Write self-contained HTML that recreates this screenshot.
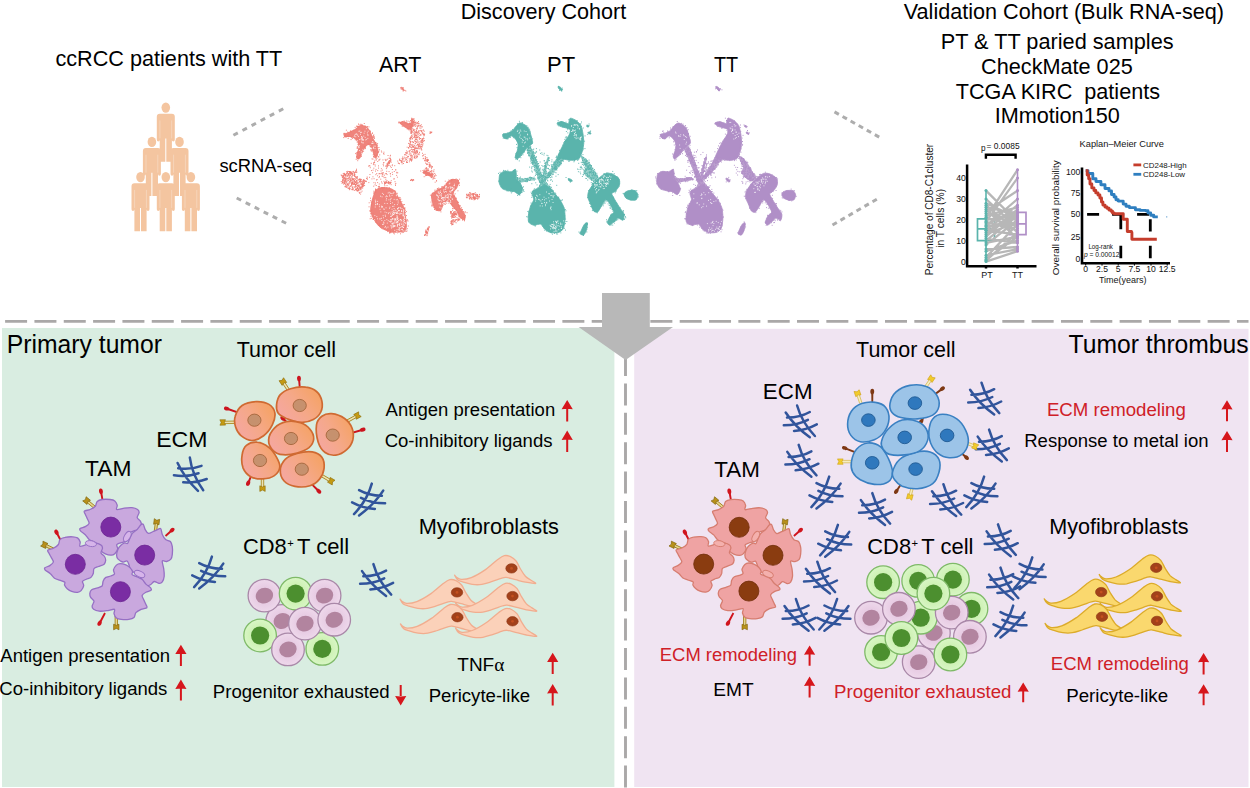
<!DOCTYPE html>
<html lang="en"><head><meta charset="utf-8"><title>ccRCC tumor thrombus graphical abstract</title><style>html,body{margin:0;padding:0;background:#fff}svg{display:block}text{white-space:pre}</style></head><body>
<svg width="1250" height="788" viewBox="0 0 1250 788" font-family="'Liberation Sans',Arial,Helvetica,sans-serif"><rect width="1250" height="788" fill="#fff"/>
<rect x="2" y="328" width="612.4" height="459" fill="#d9ede1"/>
<rect x="634.2" y="328.8" width="614.3" height="458.2" fill="#f0e4f2"/>
<path d="M5.1 321.4H1248.5" stroke="#aaa8a8" stroke-width="2.9" stroke-dasharray="22 7.33" fill="none"/>
<path d="M625.5 324.6V788" stroke="#aaa8a8" stroke-width="2.9" stroke-dasharray="22 7.4" fill="none"/>
<path d="M602 293H649.8V327H673L625.6 360L578.6 327H602Z" fill="#b8b8b8"/>
<text x="55.43" y="66" font-size="21.8" textLength="226.89" lengthAdjust="spacingAndGlyphs">ccRCC patients with TT</text>
<text x="460.67" y="18.7" font-size="21.8" textLength="165.62" lengthAdjust="spacingAndGlyphs">Discovery Cohort</text>
<text x="378.90" y="72" font-size="21.8" textLength="42.57" lengthAdjust="spacingAndGlyphs">ART</text>
<text x="547.04" y="72" font-size="21.8" textLength="28.17" lengthAdjust="spacingAndGlyphs">PT</text>
<text x="714.00" y="72" font-size="21.8" textLength="24.23" lengthAdjust="spacingAndGlyphs">TT</text>
<text x="219.44" y="171.6" font-size="18.7" textLength="92.89" lengthAdjust="spacingAndGlyphs">scRNA-seq</text>
<text x="903.80" y="18.7" font-size="21.8" textLength="320.12" lengthAdjust="spacingAndGlyphs">Validation Cohort (Bulk RNA-seq)</text>
<text x="940.66" y="49" font-size="21.8" textLength="232.95" lengthAdjust="spacingAndGlyphs">PT &amp; TT paried samples</text>
<text x="981.12" y="73.7" font-size="21.8" textLength="151.63" lengthAdjust="spacingAndGlyphs">CheckMate 025</text>
<text x="955.77" y="98.5" font-size="21.8" textLength="204.24" lengthAdjust="spacingAndGlyphs" xml:space="preserve">TCGA KIRC  patients</text>
<text x="994.65" y="123.3" font-size="21.8" textLength="125.13" lengthAdjust="spacingAndGlyphs">IMmotion150</text>
<path d="M233.4 135.3L283.3 108.7" stroke="#adadad" stroke-width="3" stroke-dasharray="5 5.3" fill="none"/>
<path d="M236.7 198L286.2 223.3" stroke="#adadad" stroke-width="3" stroke-dasharray="5 5.1" fill="none"/>
<path d="M834.5 111.9L879.2 137.1" stroke="#adadad" stroke-width="3" stroke-dasharray="5 4.26" fill="none"/>
<path d="M832.5 225L876.8 199.2" stroke="#adadad" stroke-width="3" stroke-dasharray="5 4.26" fill="none"/>
<text x="6.82" y="352.8" font-size="25" textLength="155.11" lengthAdjust="spacingAndGlyphs">Primary tumor</text>
<text x="1068.61" y="352.7" font-size="25" textLength="180.02" lengthAdjust="spacingAndGlyphs">Tumor thrombus</text>
<text x="236.67" y="357.4" font-size="21.8" textLength="99.43" lengthAdjust="spacingAndGlyphs">Tumor cell</text>
<text x="856.07" y="356.7" font-size="21.8" textLength="99.43" lengthAdjust="spacingAndGlyphs">Tumor cell</text>
<text x="156.16" y="446.8" font-size="21.8" textLength="51.23" lengthAdjust="spacingAndGlyphs">ECM</text>
<text x="762.81" y="398.6" font-size="21.8" textLength="49.72" lengthAdjust="spacingAndGlyphs">ECM</text>
<text x="85.04" y="476" font-size="21.8" textLength="46.40" lengthAdjust="spacingAndGlyphs">TAM</text>
<text x="714.35" y="476.5" font-size="21.8" textLength="45.56" lengthAdjust="spacingAndGlyphs">TAM</text>
<text x="418.76" y="533.5" font-size="21.8" textLength="140.24" lengthAdjust="spacingAndGlyphs">Myofibroblasts</text>
<text x="1049.17" y="533.5" font-size="21.8" textLength="139.33" lengthAdjust="spacingAndGlyphs">Myofibroblasts</text>
<text x="243.01" y="553.8" font-size="21.8" textLength="43.78" lengthAdjust="spacingAndGlyphs">CD8</text>
<text x="287.20" y="547.1" font-size="11.2">+</text>
<text x="297.06" y="553.8" font-size="21.8" textLength="52.08" lengthAdjust="spacingAndGlyphs">T cell</text>
<text x="867.31" y="553.5" font-size="21.8" textLength="43.78" lengthAdjust="spacingAndGlyphs">CD8</text>
<text x="911.50" y="546.8" font-size="11.2">+</text>
<text x="921.36" y="553.5" font-size="21.8" textLength="52.08" lengthAdjust="spacingAndGlyphs">T cell</text>
<text x="385.60" y="415.9" font-size="18.7" textLength="169.58" lengthAdjust="spacingAndGlyphs">Antigen presentation</text>
<text x="384.67" y="446.6" font-size="18.7" textLength="167.78" lengthAdjust="spacingAndGlyphs">Co-inhibitory ligands</text>
<path d="M567.2 399.9l5.6 9.3q-5.6-.9-11.2 0zM566.2 408.4h2V421.4h-2z" fill="#d6161c"/>
<path d="M567.2 430.6l5.6 9.3q-5.6-.9-11.2 0zM566.2 439.1h2V452.1h-2z" fill="#d6161c"/>
<text x="0.30" y="661.6" font-size="18.7" textLength="169.68" lengthAdjust="spacingAndGlyphs">Antigen presentation</text>
<text x="-0.63" y="694.7" font-size="18.7" textLength="167.98" lengthAdjust="spacingAndGlyphs">Co-inhibitory ligands</text>
<path d="M180.9 644.8l5.6 9.3q-5.6-.9-11.2 0zM179.9 653.3h2V666.1h-2z" fill="#d6161c"/>
<path d="M180.9 679.6l5.6 9.3q-5.6-.9-11.2 0zM179.9 688.1h2V700.6h-2z" fill="#d6161c"/>
<text x="212.81" y="698.4" font-size="18.7" textLength="176.83" lengthAdjust="spacingAndGlyphs">Progenitor exhausted</text>
<path d="M400.7 705.4l5.6-9.3q-5.6 .9-11.2 0zM399.7 685h2V696.9h-2z" fill="#d6161c"/>
<text x="457.3" y="671.3" font-size="18.7" textLength="47" lengthAdjust="spacingAndGlyphs">TNF<tspan font-family="'Liberation Serif','DejaVu Serif',serif" font-size="19">α</tspan></text>
<text x="428.71" y="701.7" font-size="18.7" textLength="101.35" lengthAdjust="spacingAndGlyphs">Pericyte-like</text>
<path d="M552.7 652.8l5.6 9.3q-5.6-.9-11.2 0zM551.7 661.3h2V674h-2z" fill="#d6161c"/>
<path d="M552.7 684.1l5.6 9.3q-5.6-.9-11.2 0zM551.7 692.6h2V705.4h-2z" fill="#d6161c"/>
<text x="1046.91" y="416.1" font-size="18.7" textLength="138.96" lengthAdjust="spacingAndGlyphs" fill="#cf2027">ECM remodeling</text>
<text x="1024.22" y="446.8" font-size="18.7" textLength="184.30" lengthAdjust="spacingAndGlyphs">Response to metal ion</text>
<path d="M1227 400.2l5.6 9.3q-5.6-.9-11.2 0zM1226 408.7h2V421.3h-2z" fill="#d6161c"/>
<path d="M1227 430.9l5.6 9.3q-5.6-.9-11.2 0zM1226 439.4h2V452h-2z" fill="#d6161c"/>
<text x="659.83" y="660.6" font-size="18.7" textLength="137.13" lengthAdjust="spacingAndGlyphs" fill="#cf2027">ECM remodeling</text>
<text x="713.27" y="696.4" font-size="18.7" textLength="40.33" lengthAdjust="spacingAndGlyphs">EMT</text>
<path d="M809.6 645.4l5.6 9.3q-5.6-.9-11.2 0zM808.6 653.9h2V665.7h-2z" fill="#d6161c"/>
<path d="M809.6 676.6l5.6 9.3q-5.6-.9-11.2 0zM808.6 685.1h2V697.5h-2z" fill="#d6161c"/>
<text x="834.11" y="698.3" font-size="18.7" textLength="177.34" lengthAdjust="spacingAndGlyphs" fill="#cf2027">Progenitor exhausted</text>
<path d="M1023.2 682.4l5.6 9.3q-5.6-.9-11.2 0zM1022.2 690.9h2V702.2h-2z" fill="#d6161c"/>
<text x="1050.82" y="670.3" font-size="18.7" textLength="138.04" lengthAdjust="spacingAndGlyphs" fill="#cf2027">ECM remodeling</text>
<text x="1066.20" y="701.6" font-size="18.7" textLength="101.97" lengthAdjust="spacingAndGlyphs">Pericyte-like</text>
<path d="M1203.6 653l5.6 9.3q-5.6-.9-11.2 0zM1202.6 661.5h2V674.5h-2z" fill="#d6161c"/>
<path d="M1203.6 684.3l5.6 9.3q-5.6-.9-11.2 0zM1202.6 692.8h2V705.2h-2z" fill="#d6161c"/>
<defs><g id="pp"><ellipse cx="0" cy="5.2" rx="4.3" ry="5.2"/><path d="M-6 11.4H6Q9 11.4 9 14.4V37.4Q9 39 7.5 39Q6.1 39 6.1 37.4V59.4H0.5V36H-0.5V59.4H-6.1V37.4Q-6.1 39 -7.5 39Q-9 39 -9 37.4V14.4Q-9 11.4 -6 11.4Z"/><path d="M-5.9 18V36M5.9 18V36" stroke="#fff" stroke-opacity=".55" stroke-width=".5" fill="none"/></g></defs>
<g fill="#f4c5a0">
<use href="#pp" x="165.8" y="102.4"/>
<use href="#pp" x="151.9" y="136.7"/>
<use href="#pp" x="179.5" y="136.7"/>
<use href="#pp" x="140.5" y="171.9"/>
<use href="#pp" x="165.8" y="171.9"/>
<use href="#pp" x="190.9" y="171.9"/>
</g>
<g fill="#5ab4ac">
<path d="M526.1 148C526.1 146.6 529.5 145.5 530.6 146.6C531.7 147.7 534.5 154.3 535.7 157.2C536.9 160 539.7 168.5 540.8 171.4C541.8 174.2 544.5 180.2 544.4 181.5C544.3 182.8 540.8 183.7 539.7 182.5C538.7 181.4 536.8 174.1 535.7 171.4C534.6 168.6 531.7 161.9 530.6 159.2C529.5 156.5 526.1 149.5 526.1 148ZM557.6 156.8C558.8 156.3 563.7 158.4 564.1 159.2C564.5 159.9 561.9 162.1 561.1 163.2C560.2 164.4 558.2 167.9 557 169.3C555.8 170.8 552.2 174.1 550.9 175.4C549.6 176.7 546.7 180 545.8 180.5C544.9 181 542.8 180.6 543.2 179.5C543.6 178.4 547.6 173.3 548.9 171.4C550.1 169.5 552.9 165 554 163.2C555 161.5 556.4 157.2 557.6 156.8ZM547.5 157.2C548 156.1 549.4 157 549.3 158.2C549.2 159.4 547.3 165.1 546.9 167.3C546.4 169.6 545.7 176.3 545.2 177.5C544.7 178.6 542.5 178.6 542.4 177.5C542.3 176.3 543.8 169.7 544.4 167.3C545 164.9 546.9 158.2 547.5 157.2ZM580.4 155.1C580.7 154.8 584.2 157.1 585.4 158.2C586.6 159.2 589.4 162.7 590.5 164.3C591.6 165.8 593.6 169.8 594.6 171.4C595.5 172.9 598.7 176.3 598.6 177.5C598.5 178.6 594.9 181.5 593.6 181.5C592.3 181.5 588.6 178.5 587.5 177.5C586.3 176.4 583.6 173.6 583.4 172.4C583.2 171.2 585.5 168.6 585.4 167.3C585.3 166 583 162.6 582.4 161.2C581.8 159.8 580 155.5 580.4 155.1ZM515.4 177.1C516 176.6 521.6 178.5 523.5 178.5C525.4 178.5 530.1 176.9 531.6 177.1C533.1 177.2 537.1 178.9 536.3 179.5C535.5 180.1 526.6 181.5 524.5 181.9C522.4 182.3 519.5 183.3 518.4 182.7C517.4 182.2 514.8 177.6 515.4 177.1ZM538.7 187.6C538.2 187.1 540.5 182.4 541.2 181.5C541.9 180.7 543.9 179.8 544.8 180.3C545.8 180.8 548.5 184.9 549.3 186C550 187 551.7 189.2 551.3 189.2C550.9 189.2 547.3 186.2 545.8 186C544.4 185.8 539.3 188.1 538.7 187.6Z" fill-opacity="0.62"/>
<path d="M502.6 134.4C503 133.9 506.1 133.6 507.3 133.2C508.4 132.8 511.3 131.6 512.3 130.8C513.4 129.9 515.4 126.6 516.4 125.7C517.3 124.8 519.3 123 520.5 123C521.6 123 525.1 124.8 526.1 125.7C527.2 126.6 529 129.3 529.6 130.8C530.2 132.2 531.3 136.4 531.6 137.9C532 139.3 532.9 142 532.6 142.9C532.4 143.9 530.3 145.4 529.6 146C528.9 146.6 527.2 147.3 526.5 148C525.9 148.7 524.8 151.1 524.1 152.1C523.4 153 521.3 155.3 520.5 156.1C519.6 157 517.4 159.2 516.8 159.2C516.2 159.2 515.3 157.2 515.4 156.1C515.5 155.1 517.1 151.5 517.4 150.1C517.7 148.6 518.3 145.3 518 144C517.8 142.7 516.2 139.8 515.4 138.9C514.6 137.9 512.3 135.8 511.3 135.8C510.4 135.8 508.1 138.6 507.3 138.9C506.4 139.1 504.4 138.4 503.8 137.9C503.3 137.3 502.2 135 502.6 134.4ZM557 123C557.2 122.5 560.8 121.6 562.1 121.6C563.4 121.7 567.2 124.1 568.2 123.7C569.1 123.3 569.3 118.5 570.2 118.2C571.2 117.8 575 119.7 576.3 120.6C577.5 121.5 580.2 124.1 581 125.7C581.7 127.2 582.7 131.8 583 133.8C583.3 135.8 583.9 140.9 583.8 142.9C583.7 145 582.9 149.3 582.4 151.1C581.9 152.8 580.3 157.1 579.3 158.2C578.4 159.2 575.4 160 574.3 160.2C573.1 160.4 570.4 160.3 569.2 160.2C568 160.1 565.2 159.4 564.1 159.2C563 159 560.8 159.1 560.1 158.8C559.3 158.5 557.5 157.9 557.6 156.8C557.7 155.6 560.2 150.9 561.1 149C561.9 147.2 564.2 142.6 565.1 140.9C566.1 139.3 568.6 136.1 569.2 134.8C569.8 133.5 570.7 130.6 570.2 129.7C569.7 128.9 566.3 128.1 565.1 127.7C563.9 127.3 561 126.8 560.1 126.3C559.1 125.7 556.8 123.6 557 123ZM499.7 174.4C500.3 173.1 502.9 171.7 504.2 171.4C505.6 171.1 510 172 511.3 171.8C512.6 171.5 514.8 168.9 515.4 169.3C516 169.8 516.3 174.3 516.4 175.4C516.5 176.6 515.5 178.1 516 179.1C516.5 180 519.7 182.3 520.5 183.6C521.2 184.8 522.6 188.3 522.5 189.6C522.4 190.9 520.4 194.5 519.4 194.7C518.5 195 515.7 192.1 514.4 191.7C513.1 191.2 509.7 191 508.3 190.7C506.9 190.3 503.2 189.6 502.2 188.6C501.1 187.7 499.4 184.2 499.1 182.5C498.9 180.9 499.2 175.7 499.7 174.4ZM533.2 190.7C534.1 189.9 538.3 187.8 539.7 187.2C541.2 186.6 544.5 185.4 545.8 185.6C547.1 185.7 549.8 187.7 550.9 188.6C552 189.6 553.9 192.4 555 193.7C556 195 559 198.1 560.1 199.8C561.1 201.5 563.5 205.8 564.1 207.9C564.7 210.1 565.2 215.7 565.1 218.1C565.1 220.4 564.2 226.6 563.5 228.2C562.8 229.9 560.5 231.8 559 232.3C557.6 232.8 552.6 233 550.9 232.7C549.3 232.3 546 230.2 544.8 229.2C543.6 228.2 542.1 224.6 540.8 224.2C539.5 223.7 535.1 225.4 533.7 225.2C532.2 224.9 529.2 223.4 528.6 222.1C528 220.8 528.3 215.9 528.6 214C528.8 212.1 530 207.5 530.6 205.9C531.2 204.2 533.5 201.2 533.7 199.8C533.8 198.4 532.3 195.2 532.2 194.1C532.2 193 532.4 191.5 533.2 190.7ZM588.5 191.7C589.1 190 592.3 185.2 593.6 183.6C594.9 181.9 598.2 178.6 599.6 177.5C601.1 176.3 604.3 173.8 605.7 173.4C607.2 173 610.3 173.2 611.8 173.8C613.4 174.4 618 177.2 618.9 178.5C619.8 179.7 619.9 183.1 619.5 184.6C619.2 186 616.8 189.6 615.9 190.7C615 191.7 611.9 192.6 611.8 193.7C611.7 194.8 613.9 198.1 614.9 199.8C615.8 201.5 618.9 206.3 619.9 207.9C621 209.6 623.7 212.6 624 214C624.4 215.4 623.7 219.6 623 220.1C622.3 220.6 618.9 218 617.9 218.1C617 218.2 615.8 220.3 614.9 221.1C613.9 221.9 610.7 225.1 609.8 225.2C608.9 225.3 607.2 223.3 607.4 222.1C607.5 220.9 610.1 216.2 610.8 215C611.6 213.8 614 213.3 613.9 212C613.7 210.7 610.7 205.3 609.8 203.9C608.8 202.4 606.7 199.6 605.7 199.8C604.8 200 602.6 204.5 601.7 205.9C600.7 207.3 598.6 211.4 597.6 212C596.7 212.6 594.4 211.9 593.6 211C592.7 210 591.2 205.4 590.5 203.9C589.8 202.3 588.1 199.2 587.9 197.8C587.6 196.3 587.8 193.3 588.5 191.7ZM624 193.7C624.2 192.8 626.8 191 628.1 190.7C629.4 190.3 634 190.2 635.2 190.7C636.3 191.1 637.7 193.7 637.8 194.7C637.9 195.8 637 199.2 636.2 199.8C635.4 200.4 632.3 200.4 631.1 200.2C629.9 200 626.9 198.9 626 198.2C625.2 197.4 623.8 194.6 624 193.7ZM558 86.5C558.2 86.3 559.5 86.5 560.1 86.9C560.6 87.3 562.4 89.3 562.5 89.7C562.6 90.2 561.5 90.7 561.1 90.6C560.6 90.4 559 89 558.6 88.5C558.3 88.1 557.9 86.7 558 86.5ZM586.6 125.7C586.8 125.5 588 125.4 588.3 125.5C588.5 125.6 589 126.5 588.9 126.7C588.8 126.9 587.5 127.2 587.3 127.1C587 127 586.5 125.9 586.6 125.7ZM588.5 132C588.6 131.8 590 132.1 590.3 132.4C590.6 132.6 591.1 133.8 590.9 134C590.8 134.2 589.4 134 589.1 133.8C588.8 133.6 588.3 132.1 588.5 132ZM568 178.7C568 178.4 569.9 178.8 570.4 179.1C570.9 179.4 572.5 180.8 572.4 181.1C572.4 181.4 570.5 181.8 570 181.5C569.5 181.2 567.9 179 568 178.7ZM584.4 224.2C585.1 223.4 587 222.4 587.3 222.9C587.5 223.5 587 227.9 586.6 229.2C586.3 230.6 584.8 234.2 584 234.7C583.3 235.3 580.4 234.5 580.2 233.9C579.9 233.3 581.3 230.4 581.8 229.2C582.3 228.1 583.8 224.9 584.4 224.2Z" stroke="#5ab4ac" stroke-width=".8" stroke-linejoin="round"/>
</g>
<path d="M528.8 143.8h.1M528.6 145.6h.1M517.6 123.9h.1M518.5 143.9h.1M512.4 129.6h.1M509.6 133h.1M515.8 157.5h.1M503.8 133.9h.1M519.5 123.9h.1M528.2 146.3h.1M524.9 148.6h.1M515 157.3h.1M504.6 134.6h.1M516.3 153.1h.1M529.6 129.2h.1M532.6 138.9h.1M504.7 138.1h.1M522.3 122.9h.1M503 136.7h.1M517.9 157.6h.1M510.2 133.5h.1M518.3 147.6h.1M514.4 131h.1M517.3 124h.1M519.5 123.1h.1M517.5 159.6h.1M521.3 126.3h.1M516.5 144.4h.1M519.9 124.7h.1M519.2 160.9h.1M521.6 125.4h.1M529.9 132.6h.1M511.1 130.7h.1M519.3 157.2h.1M503.2 138.2h.1M513.3 137.7h.1M509.7 136.6h.1M519.3 121.3h.1M522.1 122.6h.1M519.5 156.8h.1M507.4 133.2h.1M516.4 154.7h.1M520.3 156.7h.1M517.7 151.5h.1M524.1 152h.1M528.1 127.3h.1M504.2 135.1h.1M509.3 133.3h.1M522.9 154.8h.1M512.4 135.9h.1M515.6 153.9h.1M508.5 133.7h.1M516.6 153.1h.1M515.6 159h.1M530.1 131.2h.1M524 149.8h.1M517 147.7h.1M507.9 138.9h.1M510.8 136h.1M518.7 142.6h.1M517.2 159h.1M520.8 157.7h.1M504 134h.1M531.6 137.2h.1M532.1 143.4h.1M519 148.2h.1M528.8 148.2h.1M525.4 146.1h.1M526.8 125.6h.1M515.8 156.1h.1M509.1 136.2h.1M510.2 137.5h.1M518.6 123.9h.1M509.6 137h.1M521.3 155.5h.1M528.2 145.9h.1M561.2 150.2h.1M574 120.2h.1M578 124.5h.1M577.6 160.3h.1M558.3 124.9h.1M561.2 121.7h.1M559.5 150.4h.1M565.7 141h.1M582.9 154.6h.1M581.3 126.4h.1M559.5 159.3h.1M558.9 154.7h.1M559.3 154.8h.1M577.1 120.5h.1M560.9 150.8h.1M583.2 139.1h.1M562.9 158h.1M565.5 140.6h.1M564.3 127h.1M579.5 152.6h.1M581.7 143.5h.1M566.6 139.9h.1M558.9 159h.1M566.1 136.7h.1M581.4 122h.1M557.3 124.8h.1M585 135.9h.1M584.6 141.2h.1M571.4 159h.1M560.8 121.7h.1M566.2 140.8h.1M565.3 141.8h.1M575.3 157.8h.1M560.4 152.7h.1M562.9 127.3h.1M573.9 161.8h.1M557.8 158.2h.1M569.6 161.1h.1M569.7 134.6h.1M570.5 134h.1M568.6 161.2h.1M577.1 158.9h.1M558.8 125.9h.1M564.8 139.4h.1M560.5 153.4h.1M584.9 148.6h.1M581.6 130.4h.1M583 149.8h.1M579.6 157.6h.1M562.8 158.8h.1M565.1 142.4h.1M580.1 124.2h.1M583.3 141.2h.1M562.4 148.9h.1M581.9 129.1h.1M581.2 152.9h.1M574.4 160.8h.1M559.8 157.9h.1M567.8 132.9h.1M580.8 123.7h.1M567.7 129.7h.1M566.3 131.5h.1M570.5 130.2h.1M561.3 149.1h.1M566.6 137.3h.1M568.7 119.8h.1M559.7 123.9h.1M567.5 128.4h.1M577 157.9h.1M559.2 153.9h.1M570.3 121.7h.1M575.3 159.3h.1M577.1 122.8h.1M558.3 123.8h.1M566 122.2h.1M563 145.1h.1M574.5 160.2h.1M558.1 120.7h.1M574.7 121.1h.1M583.1 148.7h.1M578.2 159.7h.1M565.3 137.8h.1M559.7 159.6h.1M578.9 158.9h.1M583.2 128h.1M564.7 141.5h.1M570 128.1h.1M563.8 142.7h.1M561.9 149.5h.1M581.2 156.1h.1M559.2 158h.1M562.4 126.3h.1M556.5 156.2h.1M520.1 181.7h.1M510.7 188.2h.1M500 172.3h.1M515.6 172.6h.1M513.5 170.6h.1M516.9 171.2h.1M523.6 189.7h.1M498.5 173.4h.1M503.4 170.4h.1M503.2 172.1h.1M522.3 188.3h.1M519.4 194.2h.1M519 183.3h.1M517 181.8h.1M519.8 195.1h.1M517.2 175.5h.1M503.5 173.9h.1M520 180.8h.1M505.5 172h.1M505.5 170.8h.1M522.6 187.6h.1M523.2 190.4h.1M523.5 186.8h.1M518.7 194.6h.1M521.4 186.4h.1M522.2 192.1h.1M512.4 191.7h.1M517.6 195.4h.1M523.9 191.5h.1M508 191.1h.1M499.6 181.5h.1M516.7 181.6h.1M518.8 193.1h.1M506.8 190.8h.1M501.4 175h.1M503.1 173h.1M520.2 183.5h.1M521.3 192.5h.1M511.1 190.9h.1M517 180.9h.1M516 177.2h.1M506 172.7h.1M516.4 192.1h.1M520.4 185.6h.1M515.8 178.1h.1M514.5 177.3h.1M498.4 181.1h.1M506.8 171.2h.1M504.3 171h.1M511.3 192.9h.1M505.2 172.9h.1M504.7 173h.1M511 191.7h.1M516.7 179h.1M507.8 170.3h.1M535 200.5h.1M564.3 223.9h.1M562.2 209.8h.1M531.4 205.2h.1M564.1 215.7h.1M565.6 219.1h.1M526.7 216.7h.1M552.3 234.2h.1M530.6 206.2h.1M556.7 232h.1M531.4 193.6h.1M539.4 186.3h.1M545.2 186.9h.1M532.9 204.4h.1M551 187.3h.1M560.1 201.2h.1M557.2 231.4h.1M565.9 210.8h.1M558.9 230.6h.1M535.9 224.5h.1M527.8 211.5h.1M529.6 214.1h.1M532 195.3h.1M535.1 224h.1M565.5 223.7h.1M532.5 192.3h.1M555.5 195.6h.1M533.2 195h.1M546.6 185.2h.1M555.1 193h.1M549.1 231.4h.1M547.2 186.9h.1M558.7 197.1h.1M558.3 198h.1M553.5 190.9h.1M554 231.5h.1M562.5 199.9h.1M562.1 211h.1M561.6 230.3h.1M533.4 196.7h.1M555.5 232.3h.1M532.5 191.3h.1M533.6 190.1h.1M528.3 215.9h.1M552.6 190.9h.1M561.6 200.3h.1M544 227.2h.1M556.4 233.9h.1M534.3 188.8h.1M529.3 214.2h.1M534.8 225.8h.1M564.3 228.3h.1M529.2 210.8h.1M564.9 221.7h.1M529.1 214.4h.1M557.6 234h.1M563.8 207.9h.1M562 207.2h.1M564.5 213.7h.1M562.4 219.5h.1M528.8 212.6h.1M564.8 215.8h.1M551.2 232.7h.1M533.1 191.1h.1M544.8 230.3h.1M554.4 233.4h.1M564.7 217.9h.1M555.7 193.8h.1M531.7 197.3h.1M564.6 209.9h.1M551.9 189.3h.1M535.4 225.9h.1M528.8 211.6h.1M558.5 198h.1M566.8 221.5h.1M562.8 223.2h.1M529 220.4h.1M564.2 210.3h.1M564 217h.1M527.8 217h.1M535 190.3h.1M542.8 226.4h.1M559.3 230.5h.1M546.6 231.1h.1M531 203h.1M560.8 232.9h.1M531.1 192.2h.1M529.9 214.3h.1M544.2 228.7h.1M558.4 198.7h.1M565.2 209.5h.1M565.5 230.1h.1M551.1 187.4h.1M551 232.4h.1M534.2 202.4h.1M548.2 231.7h.1M618 187.7h.1M613.5 221.9h.1M616.7 219.6h.1M614.1 173.6h.1M609.7 217.6h.1M609.2 205.5h.1M603.6 204h.1M624.5 214.5h.1M614.3 223.1h.1M618.7 184h.1M610.5 219.2h.1M606.9 173.2h.1M622.8 214.8h.1M613.8 210.4h.1M625.5 216.7h.1M597.1 212h.1M615.2 221h.1M617.8 219.7h.1M615.2 192.8h.1M592.2 206.8h.1M608.1 203.9h.1M596.2 182.5h.1M622.8 219.9h.1M612.8 211.1h.1M615.1 191.2h.1M597.5 180.5h.1M611.5 214.2h.1M603.1 205.8h.1M614.5 221.5h.1M605 203.2h.1M589.6 200h.1M616.3 190.1h.1M593.1 208h.1M613.3 197h.1M592.1 186.5h.1M625.7 217.8h.1M624.2 215.3h.1M591.3 204.2h.1M598.9 209.8h.1M612.7 171.4h.1M614.5 175.3h.1M594.5 211.2h.1M610.2 208.4h.1M595.7 211h.1M614.4 210.7h.1M596.7 181.4h.1M612.5 209.4h.1M618.1 178h.1M613.7 197.9h.1M611 225.1h.1M590.1 203.2h.1M611.3 220.6h.1M619.9 209.5h.1M592 184.5h.1M619.4 181.8h.1M617.7 186.9h.1M617.6 186.6h.1M592.8 208.7h.1M623.2 211.8h.1M589.7 203.5h.1M614.9 219.7h.1M610.5 215h.1M623.8 218.8h.1M621.1 218.9h.1M606 201.7h.1M617.4 180.1h.1M604.8 200.7h.1M623.7 218.7h.1M624.5 219.3h.1M610.1 207.3h.1M611.8 174h.1M622.2 219h.1M619.6 183.9h.1M590.7 206.5h.1M604.2 202.8h.1M615.9 191.5h.1M606.6 221.9h.1M612.7 225.1h.1M610.2 174.3h.1M614.7 210.4h.1M593.5 183.3h.1M617.3 177.2h.1M623.7 214.5h.1M603.9 174h.1M592.2 188h.1M604.4 174.4h.1M619.9 207.5h.1M588.5 190.7h.1M618.9 179.8h.1M616.9 181.2h.1M612.7 200.8h.1M609.4 223.7h.1M610.5 217.9h.1M614.4 210.3h.1M592.3 210.6h.1M597.8 210.9h.1M616.5 177.7h.1M616.6 220.3h.1M615.9 177.2h.1M623.3 210.6h.1M597.2 212.8h.1M595.4 180.4h.1M619.3 186.1h.1M617.7 185.6h.1M611.8 209h.1M607.9 173.1h.1M606.5 198.8h.1M589.9 189.6h.1M597.7 179.4h.1M605.9 200.3h.1M616.8 203.2h.1M606.4 173.3h.1M613.8 192h.1M604.1 173.6h.1M610.8 206h.1M615 177.7h.1M616.3 205.9h.1M618.2 179h.1M617.1 177.2h.1M606.4 219.8h.1M587.6 197.4h.1M591.4 206.7h.1M612.9 214.3h.1M631.6 190.3h.1M637.1 194.2h.1M635.9 193.7h.1M634.1 191.5h.1M638.3 196.9h.1M632.8 191.2h.1M638 194.9h.1M630.5 199.6h.1M624 193.8h.1M625.6 192.5h.1M636.3 195.8h.1M635.2 191h.1M636.7 190.6h.1M632.6 190.1h.1M635.7 193.7h.1M633.9 190.8h.1M628.5 198.5h.1M636.3 193.9h.1M628.2 198.1h.1M626 196.9h.1M636.8 197.7h.1M624.8 195h.1M631.3 190h.1M623.1 193.4h.1M630.6 190.7h.1M635.8 197.3h.1M559.6 88.4h.1M562.2 88.1h.1M559.3 88h.1M558.4 86.4h.1M559.4 90.3h.1M561.4 90.6h.1M561.7 91h.1M561.9 89.6h.1M587.8 125.7h.1M587.1 125.1h.1M589 125.4h.1M589 124h.1M588.8 133.3h.1M587.7 134.4h.1M590.1 131.5h.1M590.6 131h.1M587.9 132.7h.1M568.5 180h.1M570 181.2h.1M570.3 182.1h.1M566 177.5h.1M569.2 180.1h.1M571.3 179.9h.1M568.7 179.3h.1M581 232.2h.1M586.3 225.2h.1M587.1 223.7h.1M582.2 234.7h.1M587.3 227.3h.1M585.6 229.3h.1M582.3 230.4h.1M578.9 232h.1M587.3 224.7h.1M583.5 227.1h.1M587.1 223.7h.1M583.4 235.5h.1M586.9 229.2h.1M585.9 231h.1M586.9 222.9h.1M587.1 224.3h.1M585 226.2h.1M582.8 234.8h.1M586.8 232h.1M579.7 233h.1M585.7 223.3h.1M527.5 150.3h.1M539.4 173.9h.1M541.6 174.2h.1M532.4 158.6h.1M533.2 156.2h.1M527.6 152.4h.1M531.6 157.7h.1M536.5 168h.1M532.3 154.2h.1M536.7 162.1h.1M534.8 165.5h.1M540.1 173.8h.1M542.3 176.9h.1M531.9 157.5h.1M537.3 172h.1M529.5 150.4h.1M533.9 153.6h.1M532.5 162.2h.1M531.7 162.9h.1M531.9 157.4h.1M534.5 157.4h.1M538.3 167.2h.1M543.7 180.9h.1M534 159.8h.1M540.6 168h.1M537.5 174.7h.1M540.2 175.1h.1M544.1 178.9h.1M537 166.7h.1M527.8 149.7h.1M536.6 162.8h.1M541.8 181.3h.1M540.1 173h.1M538.7 177.3h.1M533.3 156.7h.1M532.1 162.1h.1M535.5 163.3h.1M536.2 161.3h.1M532.4 158h.1M532 156.7h.1M527.1 150.6h.1M534.8 162.8h.1M538.6 166.6h.1M533.2 158.5h.1M536.1 166h.1M537.5 163.8h.1M536.3 166.8h.1M542.3 179.1h.1M530.1 147.2h.1M532.1 156.4h.1M531 157.8h.1M541.1 176.7h.1M541.4 174.8h.1M535.2 159.3h.1M536.1 166.5h.1M545.1 181.1h.1M542.8 180.3h.1M536.1 170.5h.1M542.2 181h.1M535.7 166h.1M541.1 180.9h.1M533.7 159.2h.1M535.3 157.9h.1M529.3 152.9h.1M529.3 155.6h.1M539.7 169.8h.1M528.5 155.7h.1M535 158.1h.1M539.8 175.9h.1M532 156.2h.1M542.7 181.6h.1M532.5 153.9h.1M536.1 166h.1M529.7 150.6h.1M539.6 181.8h.1M530.3 148.7h.1M534.8 170.2h.1M534.5 169.7h.1M533.1 166.2h.1M531.3 152.2h.1M536.5 160.2h.1M538.5 163.7h.1M541.2 177h.1M533.5 161.2h.1M534.7 165.4h.1M535.5 159.4h.1M543.2 175.2h.1M538.3 173.8h.1M539.7 181.7h.1M538.7 177.2h.1M537.3 164.8h.1M537.8 173.5h.1M532.4 157.5h.1M531.3 156.5h.1M535.9 163h.1M530.8 158.5h.1M533.8 162.1h.1M539.9 169h.1M535.7 174h.1M539.8 169.1h.1M528.3 148.6h.1M534.1 169.9h.1M534.1 162.4h.1M532.2 162.5h.1M535.1 163h.1M538.7 179.7h.1M540.3 177.4h.1M539.1 172.9h.1M536.8 166.1h.1M539.3 181.8h.1M536.4 165.4h.1M534.8 162.7h.1M539.2 170.7h.1M531 159.4h.1M542.1 180.7h.1M528.7 148.4h.1M541.4 178.7h.1M533.4 158.4h.1M537.1 168.4h.1M531 163.1h.1M542.4 178.7h.1M536.3 167.7h.1M528.5 150.4h.1M537.9 172.4h.1M532.7 160.2h.1M531.6 149.9h.1M536.5 156.9h.1M537.2 169.4h.1M532.8 160.6h.1M536.2 164.1h.1M530.2 147.6h.1M532.4 152.3h.1M538.6 170.6h.1M536.2 157h.1M537.4 168.3h.1M535.1 158.2h.1M541 172.3h.1M529.2 153.9h.1M532.3 155.5h.1M538 168.6h.1M536.7 159.8h.1M531.6 156h.1M531.2 156h.1M530.7 150.9h.1M537.6 172.1h.1M529 152.5h.1M528.4 147.4h.1M530 151.7h.1M528.4 152.5h.1M535.2 160.6h.1M531.3 155.7h.1M539.2 180.6h.1M543.5 175.6h.1M539 178.6h.1M541.7 182.8h.1M541.2 180.6h.1M533.4 156.9h.1M540.8 182.4h.1M528.7 148.1h.1M528.1 150.3h.1M530.5 147.9h.1M531.8 149.8h.1M538.6 163.5h.1M535.9 165.1h.1M538.7 171h.1M534.2 161h.1M536.5 174.3h.1M530.7 146.4h.1M529.6 150.6h.1M527.6 147.2h.1M529.2 147.7h.1M531.9 151.3h.1M531.9 160.5h.1M534 152.7h.1M537.2 167.5h.1M541.2 182.1h.1M532.2 162.2h.1M533.4 158.1h.1M537.6 177.7h.1M531.9 158.8h.1M532.8 164.3h.1M533.9 156.4h.1M537.6 175.9h.1M528.6 148.3h.1M527.5 150.2h.1M542.6 179.8h.1M534.6 161.3h.1M539.1 165.6h.1M528.3 152h.1M533.6 163.1h.1M542.6 175.5h.1M534.4 155.5h.1M527.6 153.5h.1M540.5 175.8h.1M528.5 154.2h.1M538.5 174.8h.1M533.5 160.2h.1M533.6 158.6h.1M530.7 150.5h.1M539.9 173.9h.1M532.8 162.9h.1M539.3 178.4h.1M532.6 154.9h.1M532.8 166.8h.1M535.1 160.4h.1M531.7 157.4h.1M534.6 165.5h.1M535.2 158h.1M541.6 175.8h.1M534.4 167.2h.1M539.7 177.5h.1M533.7 149.1h.1M532.6 164h.1M544.6 179.2h.1M529.2 155.7h.1M530.9 153.6h.1M533.1 149.8h.1M539.1 174.1h.1M535.2 171.4h.1M531.9 154.2h.1M541.4 176h.1M539.6 176.4h.1M538.2 169.8h.1M538.6 166.3h.1M533.5 156h.1M536.7 172.4h.1M538 178.4h.1M557.4 159.8h.1M553.9 163h.1M545.4 179.7h.1M549 172.3h.1M549.4 176.9h.1M562.8 158.8h.1M544.9 177h.1M556 157.4h.1M557.2 158.3h.1M549.3 174.7h.1M553.8 165h.1M550.2 175.5h.1M552.2 168.2h.1M549.4 176.3h.1M557.3 160.9h.1M559.6 164.3h.1M552.1 171.1h.1M548.7 177.1h.1M554.4 167.6h.1M558 162.9h.1M546.7 177.6h.1M556.8 168.8h.1M559.9 162.1h.1M550 171.9h.1M555.4 166.2h.1M562.5 160.5h.1M548.7 172.5h.1M547.9 175.9h.1M555 162.3h.1M557.1 163.3h.1M554.1 161.4h.1M559 162.2h.1M553.8 168.4h.1M555.4 163h.1M554.7 168.8h.1M555.7 167.7h.1M553.2 174.4h.1M556.2 169.1h.1M555.9 168.9h.1M558.8 166.7h.1M561.7 160.5h.1M547.3 177.2h.1M556.9 168.3h.1M553.3 168.8h.1M554.2 162.7h.1M551.8 166.4h.1M556.6 166.6h.1M554.6 166h.1M552.3 174.6h.1M548 177.7h.1M554.3 168.9h.1M545.4 180.2h.1M560.8 163.4h.1M559.7 163.1h.1M546.8 172.4h.1M552.1 168.1h.1M559.7 162.3h.1M556.8 164.2h.1M558 163.1h.1M555.3 166.2h.1M558.4 160.2h.1M557.1 157.5h.1M548.1 174.7h.1M555.9 169.5h.1M555 166.9h.1M557.2 165.7h.1M556.2 162h.1M555.9 167.6h.1M551.6 165.9h.1M552.2 166.8h.1M554.8 169.2h.1M564.9 158.8h.1M561.4 163.6h.1M549.6 173.1h.1M561.2 162h.1M558.3 157.5h.1M546.4 173.7h.1M553.8 163h.1M550.9 171h.1M557.4 160.5h.1M548.6 174.6h.1M558.1 159h.1M548.8 174h.1M557.8 159.1h.1M560.1 161.3h.1M555.6 165.9h.1M548.3 177.5h.1M556.3 169.1h.1M553.1 173.1h.1M544.7 178.9h.1M556.4 159.7h.1M551.1 173.2h.1M552.7 169.5h.1M555.6 161.1h.1M558.4 157.5h.1M556.7 157.1h.1M555.2 168.3h.1M547.4 180.2h.1M553.1 167.1h.1M559.9 164.6h.1M546 174.9h.1M559.3 159.6h.1M557.9 161.6h.1M560.6 163.9h.1M551.9 166.3h.1M558.6 160h.1M550.1 174h.1M559.5 159.1h.1M549.4 176.5h.1M556.8 170.1h.1M554.2 164.5h.1M552.3 164.8h.1M548.9 175.5h.1M556.5 160.1h.1M558.1 165.3h.1M554.2 165.1h.1M545.5 177.6h.1M554.9 172.4h.1M550.6 173h.1M560.5 160.7h.1M555.2 166.6h.1M556.5 164.7h.1M556.1 161.5h.1M555.3 163.9h.1M557.1 162.7h.1M560.7 162.8h.1M554.8 162.6h.1M545.4 177.5h.1M550.7 173.9h.1M559.1 165.8h.1M555.3 169.2h.1M549.7 173.7h.1M551.1 173h.1M555.4 168.7h.1M563.2 158.8h.1M555.3 164.7h.1M563.5 161.1h.1M557.3 159h.1M558.9 159.3h.1M547.8 173.4h.1M561.7 160.7h.1M557.9 159.2h.1M558.8 166h.1M553 171.4h.1M557.8 158.9h.1M562 160.6h.1M546 178.2h.1M547.5 177.5h.1M560.7 164.9h.1M557.5 162.5h.1M554.8 168.5h.1M548.6 175.5h.1M552.7 171.1h.1M550.1 175.4h.1M546.7 177.5h.1M554.5 167.3h.1M559.7 162.1h.1M560 157.7h.1M557.8 159.4h.1M545 178.6h.1M556.6 167.2h.1M552.1 169.7h.1M559.4 165h.1M550.2 175.4h.1M558 164.2h.1M549.1 169.5h.1M559.3 164.6h.1M557 165.3h.1M559.8 162.6h.1M556.1 166.7h.1M548.3 173.5h.1M558.6 161.6h.1M544.8 167.1h.1M545 176.3h.1M545.6 164.9h.1M545.2 173.9h.1M544 171.3h.1M544.2 169.4h.1M548.5 160.3h.1M546.5 171.3h.1M549.4 160.6h.1M548.8 159.9h.1M543.8 177.1h.1M548.8 157.8h.1M544.3 169.3h.1M548.2 158.4h.1M548.8 157.7h.1M545.4 173.9h.1M547.6 163.2h.1M544.1 166.1h.1M545.7 166.6h.1M543 177.6h.1M542.9 172.3h.1M545.4 169h.1M545.4 170.4h.1M542.9 166.6h.1M545.1 165.5h.1M542.8 169.3h.1M547.6 168.3h.1M547.1 161.8h.1M544.5 163.2h.1M545.4 163.6h.1M544.3 176.2h.1M546.5 168h.1M543.3 173.3h.1M547.7 164.8h.1M543.3 174.8h.1M544.9 171.4h.1M545.6 162.4h.1M545.1 167.8h.1M544.8 165.4h.1M549 158.2h.1M545.6 167.8h.1M547.6 159.9h.1M547.7 161.8h.1M546.2 166.6h.1M543.6 170.6h.1M542.3 176.2h.1M545.1 176.9h.1M543.2 177h.1M586.5 169.5h.1M589.4 168.4h.1M590.8 169.4h.1M588.4 167.6h.1M585.6 169.3h.1M591.4 172.9h.1M588 172.7h.1M595 175.8h.1M597.3 177h.1M588.7 163.1h.1M590.5 165.4h.1M585.5 161.1h.1M588.3 166.1h.1M585 162.9h.1M589.4 172.3h.1M592.8 176h.1M582.4 160.7h.1M593.2 171.3h.1M586.3 164.7h.1M593.4 178.4h.1M590.4 178.1h.1M588.7 169.5h.1M595.8 175.4h.1M589.3 166h.1M591.3 166.2h.1M589.5 164.9h.1M589.2 162.4h.1M585.5 162.1h.1M590.6 171.7h.1M591.4 169.4h.1M588.9 165.6h.1M589.3 175.1h.1M593.3 174.7h.1M585.3 171.3h.1M595.9 177.8h.1M591.3 174h.1M586.3 161.1h.1M593.4 174.1h.1M585.7 165.8h.1M586.3 173.5h.1M595.7 173.3h.1M591.5 178.7h.1M590.4 177.3h.1M586.4 163.7h.1M584.1 160.1h.1M593.5 173h.1M590.2 167.3h.1M586.5 161.8h.1M587.7 163.6h.1M597.6 177.4h.1M585.7 161.9h.1M586.2 160.5h.1M584.2 163.3h.1M584 170.6h.1M588.6 175.9h.1M592.1 175.8h.1M585.2 168.4h.1M596.3 178.7h.1M591.3 167h.1M586.9 164.2h.1M587.4 166.2h.1M587.6 169.1h.1M596.9 176.4h.1M596.8 173.3h.1M583.7 164.2h.1M593.1 178.5h.1M582.6 160.2h.1M589.5 176.7h.1M584.9 171.8h.1M593.7 172.5h.1M597.3 175.2h.1M584.4 159.6h.1M590.5 172.6h.1M583.5 157.7h.1M585.5 164.4h.1M585.6 173h.1M587.2 173.3h.1M595.3 179.3h.1M586.5 161.6h.1M583.1 174.6h.1M590.7 167.2h.1M589.2 175.4h.1M592 175.5h.1M590.7 172.6h.1M591.9 178.2h.1M594.4 169.6h.1M592.9 173h.1M581.2 162.3h.1M587.1 163.6h.1M585.7 164.3h.1M585.8 173.9h.1M587 160.5h.1M596.3 175.3h.1M583.4 157.6h.1M593.4 181.2h.1M586.1 175.7h.1M593.1 170.5h.1M595.4 174.1h.1M589 160.1h.1M588.2 169.6h.1M594.7 171.9h.1M584.8 171.1h.1M584 161h.1M587.5 174.5h.1M583.7 165.6h.1M596 179.8h.1M589.9 164.4h.1M587.8 176.7h.1M586.9 168.8h.1M588 166.2h.1M587.7 176.3h.1M589.5 168.4h.1M589.1 168h.1M583.2 162.4h.1M590 168.8h.1M588.9 166.1h.1M584.9 162.5h.1M582.6 158.6h.1M591.7 180.3h.1M591.2 169.6h.1M585.7 163.4h.1M584.5 164.4h.1M590.5 168.3h.1M594.6 181h.1M591.7 170h.1M591.5 165.5h.1M587.2 165.9h.1M591.3 171.4h.1M593.3 173.9h.1M591.9 177.3h.1M597.6 177.1h.1M594.5 178h.1M589.6 172.7h.1M582.7 162.3h.1M586.1 166.2h.1M588.4 168.9h.1M585.4 159h.1M594.2 175.9h.1M594.8 171.1h.1M585.9 169.9h.1M587.8 168.2h.1M584 173.1h.1M592.5 172.4h.1M588.4 166.9h.1M589.2 171.7h.1M595 174.5h.1M592.4 168.4h.1M589.9 172.2h.1M595.4 172.8h.1M591.1 171h.1M587.9 167.2h.1M595.2 173.9h.1M582.2 157.3h.1M587.5 175.7h.1M586.9 168.3h.1M593.8 181.6h.1M589.1 162.3h.1M586.3 159.3h.1M592.9 168.3h.1M595.7 176.1h.1M589.4 169.1h.1M582.7 160h.1M585.9 165.5h.1M584.1 162.7h.1M589.2 168.4h.1M587.1 161.1h.1M591 168.9h.1M526.8 180.9h.1M534.1 180.4h.1M525.6 178.6h.1M530.3 180.1h.1M533.8 178.7h.1M526.8 178.9h.1M520.4 177.1h.1M521.1 179h.1M518.9 181.5h.1M517.5 177.5h.1M523.1 180.8h.1M525.2 181h.1M523.1 179.5h.1M530.4 177.2h.1M527.2 180.1h.1M528.3 179.4h.1M529.5 177.3h.1M525.2 181.6h.1M517.3 177.6h.1M519.7 180.5h.1M527.7 179.9h.1M529.8 177.7h.1M531.1 178h.1M525 180.7h.1M531.2 177.7h.1M521.9 181h.1M529.3 180.5h.1M526.7 179.5h.1M517.5 179.6h.1M526.9 181.8h.1M520.1 181.6h.1M530.5 179.2h.1M517.5 178.6h.1M517.6 178.5h.1M519.6 178.1h.1M522.4 179h.1M533.1 178.5h.1M526.7 181.1h.1M531.4 178.1h.1M524.9 178.4h.1M527.1 178.5h.1M540.8 182.7h.1M547.5 184h.1M543.2 185.6h.1M540.4 184.1h.1M547 186.5h.1M546.5 182.8h.1M549.3 186.1h.1M543.9 186.5h.1M542.5 183.8h.1M550 186.7h.1M542.3 185.9h.1M543.7 180h.1M539.9 185.4h.1M543.5 181.5h.1M544.3 184.6h.1M543.6 184.7h.1M541.5 186.7h.1M544.9 185.3h.1M542.5 182.6h.1M539.6 185.9h.1M545.9 185.6h.1M539.9 182.4h.1M541.1 183.9h.1M548 188.1h.1M543.6 184.9h.1M544.4 184.6h.1M544.5 185.5h.1M544.8 180.9h.1M544.2 182.6h.1M542 184.6h.1M544 183.6h.1M544.6 185.8h.1M542.7 182.7h.1M540.3 182.6h.1M545.6 183.9h.1M544.7 185.9h.1M543.1 185.5h.1M545.6 184.1h.1M554 163.3h.1M531.7 171h.1M536.1 172.5h.1M552.4 181.2h.1M535.3 175.5h.1M544 160.8h.1M551.7 176.2h.1M541.1 182.1h.1M545 172.2h.1M535.1 152.9h.1M537.9 187.9h.1M548.3 168.5h.1M551.2 164.7h.1M532.8 162.8h.1M545.8 176.5h.1M553.3 164.5h.1M533.4 159.8h.1M544.2 153.3h.1M535.5 153.1h.1M544.5 160.8h.1M548.3 168.4h.1M527.1 179h.1M535.7 182.8h.1M530.4 161h.1M532.4 163.9h.1M536.3 148.6h.1M541.9 165.5h.1M539.9 186.2h.1M545.3 187.8h.1M542.8 175.6h.1M547.9 155.7h.1M545 180.2h.1M550.4 180.1h.1M545.5 166.1h.1M533.4 152.4h.1M541.1 179.7h.1M534.1 177.1h.1M531.6 159.9h.1M536.2 151.4h.1M546.8 162.5h.1M529.6 167.1h.1M550.1 184.4h.1M551.9 159.9h.1M545.5 165.8h.1M556.7 185.3h.1M537.6 161.7h.1M544.4 173h.1M540.5 153.4h.1M549.4 186.6h.1M551.8 161.8h.1M543.4 188.7h.1M539.6 174.6h.1M550.4 177.6h.1M547.8 180.9h.1M558.1 174.6h.1M536.7 170.8h.1M544 169h.1M546.9 155.3h.1M551.9 177.3h.1M537.9 178.8h.1M542.1 154.3h.1M533.4 151.4h.1M539.7 150h.1M541.8 152.8h.1M532.9 154.1h.1M551.3 179.8h.1M540.1 162h.1M549.5 165.7h.1M535.3 165h.1M540.5 172.9h.1M530.9 158.8h.1M555.9 176.2h.1M544.3 166h.1M532.3 172h.1M556 172.8h.1M531.8 183.7h.1M537 184.9h.1M548.2 165h.1M533.4 155.2h.1M537.4 166.2h.1M540.6 182.5h.1M527.4 181.3h.1M550.2 175.1h.1M543.9 155h.1M546.6 173.3h.1M536.6 152.1h.1M531.5 167.1h.1M542.2 170h.1M531.7 168.7h.1M547.5 175.3h.1M583.1 169.4h.1M586.3 170.3h.1M592 177.8h.1M592.8 174.9h.1M592.3 183.8h.1M581.1 166.3h.1M583.1 162.4h.1M587.7 180h.1M594 183.5h.1M584.5 173.4h.1M593.3 183.9h.1M595.6 179.5h.1M591.2 182.6h.1M586.2 178.5h.1M593.6 172.2h.1M577.4 169.1h.1M585.9 178.4h.1M583.4 174.8h.1M599.7 180.7h.1M582.3 176.5h.1M580.7 167.7h.1M595.3 173h.1M589.4 173.1h.1M580.8 169.4h.1M582.3 164.5h.1M594.3 175.7h.1M596.1 180.7h.1M596.3 183.4h.1M592.4 183.6h.1M589.1 169.2h.1M582.1 162.8h.1M580.2 167.1h.1M578.3 171.7h.1M584.3 167.3h.1M593.7 177.3h.1M600.2 179.9h.1M578.9 169.4h.1M593.7 181.9h.1M591.5 179.5h.1M580.6 173.8h.1M581.4 167.7h.1M580.1 172.1h.1M593.6 174.3h.1M587.9 176.6h.1M582.1 168.2h.1M585.7 170h.1M578.7 163.3h.1M599 180.7h.1M587.6 167.5h.1M592.5 183.2h.1" stroke="#5ab4ac" stroke-width="1" stroke-linecap="round" fill="none"/>
<path d="M602.3 180.3h.1M594.5 187.3h.1M595.4 186.1h.1M599.5 181.9h.1M594.7 185.1h.1M601.3 183.9h.1M599.4 184.2h.1M603.9 183.4h.1M596.9 185.8h.1M604.1 175.5h.1M599 189.5h.1M607 183.2h.1M600.8 187.1h.1M600 180.1h.1M607.6 183.1h.1M599 186.7h.1M607.3 180.6h.1M608.2 183.9h.1M603.6 177.6h.1M604.8 176.4h.1M596.4 188.5h.1M610.4 179.4h.1M607.3 183.8h.1M595.5 189.8h.1M601.8 179.7h.1M606.4 184.6h.1M599.6 181.9h.1M597.3 184.8h.1M608.7 181.8h.1M608.3 177.5h.1M600.1 179.5h.1M603.2 176.8h.1M602 185.7h.1M601 181.8h.1M601.3 179.9h.1M599.2 182.2h.1M596.2 192.9h.1M600.4 183.5h.1M596.6 184.8h.1M596.6 182.5h.1M606.2 184.4h.1M597 191.3h.1M603.5 180.8h.1M602.7 179.5h.1M606.5 183.1h.1M603.2 188.6h.1M594.7 184.2h.1M599.1 181.9h.1M599.5 180.3h.1M606.5 177.7h.1M607.2 179.9h.1M609.4 176.2h.1M605.2 183.6h.1M607.1 177.3h.1M600.6 186.6h.1M596.7 192.3h.1M595.1 184.7h.1M608 180h.1M604.3 188.4h.1M598.6 190.3h.1M603.6 186.3h.1M601.4 178.9h.1M601.8 184.8h.1M604 182h.1M605.4 185.9h.1M605.4 180.1h.1M605.5 183.3h.1M607.9 179.4h.1M610.9 177h.1M606.3 186.3h.1M573.4 130.8h.1M576.1 134.6h.1M575.5 132.3h.1M571.6 125.6h.1M578.1 126.1h.1M579.8 138.2h.1M571.5 126.3h.1M576 138.7h.1M573.9 125.1h.1M574.8 135h.1M574 135.6h.1M571.8 131.5h.1M581.3 137h.1M574.5 124.8h.1M575.7 124.9h.1M576.4 135.9h.1M576.9 124.5h.1M580.7 140h.1M577.8 128h.1M572.9 129.6h.1M576.9 138h.1M579.5 128.9h.1M580.6 138.5h.1M580.5 137.5h.1M577.3 125.5h.1M580.6 139.6h.1M580.8 137.3h.1M579.7 139.3h.1M573.3 127.5h.1M574.7 133.9h.1M576 135.1h.1M579.6 128.8h.1M574.4 133.4h.1M574.9 137.4h.1M578.1 138h.1M575 125.2h.1M575.3 130.1h.1M571.8 131.5h.1M572.4 130.4h.1M574.5 130.7h.1M542.3 199.5h.1M539.6 199.8h.1M535.7 198.8h.1M550.7 207.7h.1M550.8 195.6h.1M545.5 204.3h.1M550.4 208.4h.1M553 202.5h.1M536.5 195.3h.1M553.1 196.6h.1M540.1 205.9h.1M536 199.2h.1M540.8 200.9h.1M546 198.7h.1M549.4 201h.1M545.5 205.7h.1M541.7 203.3h.1M549.4 193.8h.1M552 199.5h.1M548.7 193.7h.1M537.3 196.1h.1M551.9 192.6h.1M551.9 195.5h.1M542 203.5h.1M548.7 197.8h.1M542.3 206h.1M551 206.9h.1M544.4 202.6h.1M544 197.2h.1M535.6 201.1h.1M538.5 199.4h.1M539.8 194.7h.1M546.7 203h.1M544.4 199.9h.1M535.5 197.5h.1M546.4 192h.1M553.1 197.2h.1M551.1 209.7h.1M553.9 195.4h.1M546.6 202.4h.1M561.2 228.5h.1M555.8 230.2h.1M556.9 225.9h.1M559.7 226.2h.1M550.5 226.1h.1M558.3 223.4h.1M554.2 225.3h.1M557.3 221.2h.1M550.1 225.3h.1M551.7 226.3h.1M552.1 227.8h.1M556.4 222.5h.1M560.4 223.1h.1M553.4 227.6h.1M554 227.9h.1M553.2 226.7h.1M555.8 231.3h.1M552.4 224.5h.1M556.8 222.6h.1M560.5 224.2h.1M553.4 221.8h.1M550.5 228.9h.1M555.5 227.1h.1M553.4 225.9h.1M555.5 221.3h.1M556.1 222h.1M551.7 224.4h.1M555.8 228.7h.1M563.6 220.9h.1M553.2 228.8h.1M556.2 224h.1M558.1 225.7h.1M561.4 228.3h.1M555.3 228.8h.1M551.1 226.6h.1M553.8 224.8h.1M556.4 227.2h.1M555.5 226.3h.1M554 231.4h.1M561.9 224.1h.1M556.9 231.1h.1M554.8 228.3h.1M552.4 228h.1M552 224.7h.1M561.3 226.8h.1M558.7 229.7h.1M556.5 222h.1M553.7 224.1h.1M558 221h.1M554.5 227.9h.1M524.2 131h.1M522.4 139.7h.1M524.1 137.1h.1M517.8 130.3h.1M525.7 139h.1M529.7 138.1h.1M527.1 138.6h.1M526 131.5h.1M527.4 134.2h.1M527.6 134.8h.1M527.6 139.8h.1M522.2 142.2h.1M519.4 132.3h.1M524.9 137.3h.1M525.5 142.1h.1M523.1 146.3h.1M520.2 135.1h.1M519.7 137.1h.1M521.1 138.5h.1M520.2 130.1h.1M517.3 131.5h.1M519 133.3h.1M523.2 140.5h.1M524.5 142.9h.1M520.8 131.2h.1" stroke="#fff" stroke-width=".8" stroke-linecap="round" fill="none"/>
<g fill="#b08fc7">
<path d="M683.9 148C683.9 146.6 687.3 145.5 688.4 146.6C689.5 147.7 692.3 154.3 693.5 157.2C694.7 160 697.5 168.5 698.6 171.4C699.6 174.2 702.3 180.2 702.2 181.5C702.1 182.8 698.6 183.7 697.5 182.5C696.5 181.4 694.6 174.1 693.5 171.4C692.4 168.6 689.5 161.9 688.4 159.2C687.3 156.5 683.9 149.5 683.9 148ZM715.4 156.8C716.6 156.3 721.5 158.4 721.9 159.2C722.3 159.9 719.7 162.1 718.9 163.2C718 164.4 716 167.9 714.8 169.3C713.6 170.8 710 174.1 708.7 175.4C707.4 176.7 704.5 180 703.6 180.5C702.7 181 700.6 180.6 701 179.5C701.4 178.4 705.4 173.3 706.7 171.4C707.9 169.5 710.7 165 711.8 163.2C712.8 161.5 714.2 157.2 715.4 156.8ZM705.3 157.2C705.8 156.1 707.2 157 707.1 158.2C707 159.4 705.1 165.1 704.7 167.3C704.2 169.6 703.5 176.3 703 177.5C702.5 178.6 700.3 178.6 700.2 177.5C700.1 176.3 701.6 169.7 702.2 167.3C702.8 164.9 704.7 158.2 705.3 157.2ZM738.2 155.1C738.5 154.8 742 157.1 743.2 158.2C744.4 159.2 747.2 162.7 748.3 164.3C749.4 165.8 751.4 169.8 752.4 171.4C753.3 172.9 756.5 176.3 756.4 177.5C756.3 178.6 752.7 181.5 751.4 181.5C750.1 181.5 746.4 178.5 745.3 177.5C744.1 176.4 741.4 173.6 741.2 172.4C741 171.2 743.3 168.6 743.2 167.3C743.1 166 740.8 162.6 740.2 161.2C739.6 159.8 737.8 155.5 738.2 155.1ZM673.2 177.1C673.8 176.6 679.4 178.5 681.3 178.5C683.2 178.5 687.9 176.9 689.4 177.1C690.9 177.2 694.9 178.9 694.1 179.5C693.3 180.1 684.4 181.5 682.3 181.9C680.2 182.3 677.3 183.3 676.2 182.7C675.2 182.2 672.6 177.6 673.2 177.1ZM696.5 187.6C696 187.1 698.3 182.4 699 181.5C699.7 180.7 701.7 179.8 702.6 180.3C703.6 180.8 706.3 184.9 707.1 186C707.8 187 709.5 189.2 709.1 189.2C708.7 189.2 705.1 186.2 703.6 186C702.2 185.8 697.1 188.1 696.5 187.6Z" fill-opacity="0.85"/>
<path d="M660.4 134.4C660.8 133.9 663.9 133.6 665.1 133.2C666.2 132.8 669.1 131.6 670.1 130.8C671.2 129.9 673.2 126.6 674.2 125.7C675.1 124.8 677.1 123 678.3 123C679.4 123 682.9 124.8 683.9 125.7C685 126.6 686.8 129.3 687.4 130.8C688 132.2 689.1 136.4 689.4 137.9C689.8 139.3 690.7 142 690.4 142.9C690.2 143.9 688.1 145.4 687.4 146C686.7 146.6 685 147.3 684.3 148C683.7 148.7 682.6 151.1 681.9 152.1C681.2 153 679.1 155.3 678.3 156.1C677.4 157 675.2 159.2 674.6 159.2C674 159.2 673.1 157.2 673.2 156.1C673.3 155.1 674.9 151.5 675.2 150.1C675.5 148.6 676.1 145.3 675.8 144C675.6 142.7 674 139.8 673.2 138.9C672.4 137.9 670.1 135.8 669.1 135.8C668.2 135.8 665.9 138.6 665.1 138.9C664.2 139.1 662.2 138.4 661.6 137.9C661.1 137.3 660 135 660.4 134.4ZM714.8 123C715 122.5 718.6 121.6 719.9 121.6C721.2 121.7 725 124.1 726 123.7C726.9 123.3 727.1 118.5 728 118.2C729 117.8 732.8 119.7 734.1 120.6C735.3 121.5 738 124.1 738.8 125.7C739.5 127.2 740.5 131.8 740.8 133.8C741.1 135.8 741.7 140.9 741.6 142.9C741.5 145 740.7 149.3 740.2 151.1C739.7 152.8 738.1 157.1 737.1 158.2C736.2 159.2 733.2 160 732.1 160.2C730.9 160.4 728.2 160.3 727 160.2C725.8 160.1 723 159.4 721.9 159.2C720.8 159 718.6 159.1 717.9 158.8C717.1 158.5 715.3 157.9 715.4 156.8C715.5 155.6 718 150.9 718.9 149C719.7 147.2 722 142.6 722.9 140.9C723.9 139.3 726.4 136.1 727 134.8C727.6 133.5 728.5 130.6 728 129.7C727.5 128.9 724.1 128.1 722.9 127.7C721.7 127.3 718.8 126.8 717.9 126.3C716.9 125.7 714.6 123.6 714.8 123ZM657.5 174.4C658.1 173.1 660.7 171.7 662 171.4C663.4 171.1 667.8 172 669.1 171.8C670.4 171.5 672.6 168.9 673.2 169.3C673.8 169.8 674.1 174.3 674.2 175.4C674.3 176.6 673.3 178.1 673.8 179.1C674.3 180 677.5 182.3 678.3 183.6C679 184.8 680.4 188.3 680.3 189.6C680.2 190.9 678.2 194.5 677.2 194.7C676.3 195 673.5 192.1 672.2 191.7C670.9 191.2 667.5 191 666.1 190.7C664.7 190.3 661 189.6 660 188.6C658.9 187.7 657.2 184.2 656.9 182.5C656.7 180.9 657 175.7 657.5 174.4ZM691 190.7C691.9 189.9 696.1 187.8 697.5 187.2C699 186.6 702.3 185.4 703.6 185.6C704.9 185.7 707.6 187.7 708.7 188.6C709.8 189.6 711.7 192.4 712.8 193.7C713.8 195 716.8 198.1 717.9 199.8C718.9 201.5 721.3 205.8 721.9 207.9C722.5 210.1 723 215.7 722.9 218.1C722.9 220.4 722 226.6 721.3 228.2C720.6 229.9 718.3 231.8 716.8 232.3C715.4 232.8 710.4 233 708.7 232.7C707.1 232.3 703.8 230.2 702.6 229.2C701.4 228.2 699.9 224.6 698.6 224.2C697.3 223.7 692.9 225.4 691.5 225.2C690 224.9 687 223.4 686.4 222.1C685.8 220.8 686.1 215.9 686.4 214C686.6 212.1 687.8 207.5 688.4 205.9C689 204.2 691.3 201.2 691.5 199.8C691.6 198.4 690.1 195.2 690 194.1C690 193 690.2 191.5 691 190.7ZM746.3 191.7C746.9 190 750.1 185.2 751.4 183.6C752.7 181.9 756 178.6 757.4 177.5C758.9 176.3 762.1 173.8 763.5 173.4C765 173 768.1 173.2 769.6 173.8C771.2 174.4 775.8 177.2 776.7 178.5C777.6 179.7 777.7 183.1 777.3 184.6C777 186 774.6 189.6 773.7 190.7C772.8 191.7 769.7 192.6 769.6 193.7C769.5 194.8 771.7 198.1 772.7 199.8C773.6 201.5 776.7 206.3 777.7 207.9C778.8 209.6 781.5 212.6 781.8 214C782.2 215.4 781.5 219.6 780.8 220.1C780.1 220.6 776.7 218 775.7 218.1C774.8 218.2 773.6 220.3 772.7 221.1C771.7 221.9 768.5 225.1 767.6 225.2C766.7 225.3 765 223.3 765.2 222.1C765.3 220.9 767.9 216.2 768.6 215C769.4 213.8 771.8 213.3 771.7 212C771.5 210.7 768.5 205.3 767.6 203.9C766.6 202.4 764.5 199.6 763.5 199.8C762.6 200 760.4 204.5 759.5 205.9C758.5 207.3 756.4 211.4 755.4 212C754.5 212.6 752.2 211.9 751.4 211C750.5 210 749 205.4 748.3 203.9C747.6 202.3 745.9 199.2 745.7 197.8C745.4 196.3 745.6 193.3 746.3 191.7ZM781.8 193.7C782 192.8 784.6 191 785.9 190.7C787.2 190.3 791.8 190.2 793 190.7C794.1 191.1 795.5 193.7 795.6 194.7C795.7 195.8 794.8 199.2 794 199.8C793.2 200.4 790.1 200.4 788.9 200.2C787.7 200 784.7 198.9 783.8 198.2C783 197.4 781.6 194.6 781.8 193.7ZM715.8 86.5C716 86.3 717.3 86.5 717.9 86.9C718.4 87.3 720.2 89.3 720.3 89.7C720.4 90.2 719.3 90.7 718.9 90.6C718.4 90.4 716.8 89 716.4 88.5C716.1 88.1 715.7 86.7 715.8 86.5ZM744.4 125.7C744.6 125.5 745.8 125.4 746.1 125.5C746.3 125.6 746.8 126.5 746.7 126.7C746.6 126.9 745.3 127.2 745.1 127.1C744.8 127 744.3 125.9 744.4 125.7ZM746.3 132C746.4 131.8 747.8 132.1 748.1 132.4C748.4 132.6 748.9 133.8 748.7 134C748.6 134.2 747.2 134 746.9 133.8C746.6 133.6 746.1 132.1 746.3 132ZM725.8 178.7C725.8 178.4 727.7 178.8 728.2 179.1C728.7 179.4 730.3 180.8 730.2 181.1C730.2 181.4 728.3 181.8 727.8 181.5C727.3 181.2 725.7 179 725.8 178.7ZM742.2 224.2C742.9 223.4 744.8 222.4 745.1 222.9C745.3 223.5 744.8 227.9 744.4 229.2C744.1 230.6 742.6 234.2 741.8 234.7C741.1 235.3 738.2 234.5 738 233.9C737.7 233.3 739.1 230.4 739.6 229.2C740.1 228.1 741.6 224.9 742.2 224.2Z" stroke="#b08fc7" stroke-width=".8" stroke-linejoin="round"/>
</g>
<path d="M686.1 145h.1M674.3 126.9h.1M685.5 125.7h.1M676.5 155.9h.1M672.9 126.8h.1M669.2 137.8h.1M667.7 130.9h.1M690 140.1h.1M667.7 131.8h.1M672.1 130.8h.1M670.8 129.6h.1M686.8 130.2h.1M674.6 153.8h.1M673.5 141.8h.1M677.4 156.2h.1M663.2 131h.1M660.8 136h.1M688.3 134.4h.1M671.4 130.2h.1M684.3 147.6h.1M663.8 132.7h.1M683.7 150.5h.1M689.6 138h.1M682.4 153.7h.1M664.1 134.3h.1M676 159.3h.1M678.8 124.6h.1M659.9 138.4h.1M676.1 124.6h.1M677.2 121.5h.1M660.9 136h.1M688.2 133.7h.1M662.5 131.3h.1M660.2 134.6h.1M688.1 129.7h.1M674.9 160.3h.1M686.2 145.9h.1M664.1 138.1h.1M686.5 128.1h.1M662.4 138.4h.1M674.5 153.6h.1M683 124.1h.1M673.4 127h.1M679.7 126h.1M679.4 151.5h.1M662.1 136.9h.1M680.4 154.4h.1M678.9 155.6h.1M675.1 149.5h.1M676 151.2h.1M669.2 135.9h.1M675.4 144.1h.1M687.6 137h.1M672.4 154h.1M670.5 128h.1M689.7 140.1h.1M687.4 131.2h.1M669 132.5h.1M674.2 145h.1M690.1 136.3h.1M690 145.3h.1M688.3 134.5h.1M664.9 138.6h.1M685.6 128.7h.1M681.3 123.4h.1M674.7 154.4h.1M677.9 156.1h.1M689.3 143.7h.1M679.3 123.9h.1M689 137.9h.1M659.9 136.7h.1M688.4 133.6h.1M684.1 148.5h.1M673 128.6h.1M685.1 125.9h.1M686.9 127.6h.1M742.6 144.4h.1M742.1 138.1h.1M725.3 134.1h.1M740 148.5h.1M739.9 149h.1M741.1 146.8h.1M736.1 125.6h.1M734.5 160.6h.1M728.1 130.4h.1M719.4 148.2h.1M727.8 131.8h.1M728.7 130.6h.1M716.7 123.1h.1M718.3 150.5h.1M733.5 122.7h.1M722.8 160.1h.1M729.7 160.6h.1M716.6 156.3h.1M716.4 159.1h.1M740 146.5h.1M718 152.3h.1M737.4 157.2h.1M718.7 125.7h.1M739.4 147.1h.1M726.7 135.9h.1M727.2 121.3h.1M715.9 123.2h.1M714.9 151.8h.1M718.6 124h.1M718.7 124.3h.1M738.2 158.5h.1M739.4 150.3h.1M740.2 127.5h.1M721.3 126.6h.1M721.5 128.1h.1M722.1 127h.1M716.6 123.8h.1M720.1 146.6h.1M739.8 140.9h.1M715.1 124.1h.1M718.4 158.7h.1M737.4 126.3h.1M725.3 118.2h.1M720.2 147.5h.1M726.5 120.5h.1M731.7 119.8h.1M724.8 160.5h.1M742.4 141.5h.1M734.5 159.1h.1M741.1 148.2h.1M740.2 145.1h.1M740.1 135.1h.1M739.4 146.9h.1M723.9 122.6h.1M740.4 125h.1M716.7 156h.1M740.7 131.4h.1M734.5 120.9h.1M721.3 159.9h.1M739.5 154.4h.1M737.2 156.9h.1M720.6 146.9h.1M717.6 148.6h.1M720.2 158.1h.1M743 135.4h.1M720.8 142.8h.1M727 130.5h.1M740 150.9h.1M740.8 149.3h.1M727.1 120.6h.1M728 118.6h.1M734.7 157h.1M730 120.9h.1M726.2 128h.1M742.4 145.2h.1M719.7 143.4h.1M737.5 128.7h.1M726.4 120.7h.1M727.1 134.6h.1M740.9 152.2h.1M741.2 142.3h.1M722.4 127.9h.1M727.7 134.5h.1M730.4 159.4h.1M728 129.3h.1M729.8 158.1h.1M736 125.3h.1M718.5 145.9h.1M717.4 153.5h.1M741.5 143h.1M730.3 120h.1M728.6 118.3h.1M717.3 126.2h.1M661.2 185.4h.1M672 170.6h.1M672.6 173.7h.1M665.2 188.6h.1M674.1 173.5h.1M671.3 171.5h.1M675.7 180.6h.1M677.3 184.3h.1M675.9 191.5h.1M656.4 183.9h.1M674.3 176.8h.1M675.4 176.6h.1M668.1 191.5h.1M657.9 177.9h.1M679.1 182.8h.1M657.7 173.5h.1M656.9 181.7h.1M658.4 176.6h.1M679.9 188.6h.1M662.9 172.1h.1M658.1 182.1h.1M668.8 191.8h.1M669.9 190.8h.1M669.6 191h.1M678.9 187.5h.1M671.5 170.3h.1M672.7 195.5h.1M668.6 191.1h.1M677.4 184.3h.1M656.2 180.1h.1M667.4 171.6h.1M673.4 177.4h.1M673.2 169.4h.1M657.4 183.4h.1M656 178.3h.1M679.8 195.5h.1M680.6 188.8h.1M673.2 173.6h.1M658.2 185.6h.1M669.1 174h.1M657.1 182.9h.1M660.5 172.1h.1M670.1 170.9h.1M672.9 171.6h.1M658 173.5h.1M674.5 176.7h.1M657.8 179.6h.1M663.9 172.2h.1M661.5 188.9h.1M674.4 178.3h.1M662.7 173.5h.1M673.7 172.4h.1M672.4 192.8h.1M665.9 189.6h.1M655.4 177h.1M690.9 201.9h.1M718.7 200.9h.1M718.5 199.7h.1M691.6 190.5h.1M717.5 197.1h.1M688.7 207.8h.1M693.5 223.5h.1M703.2 185.4h.1M721.1 224.2h.1M686.3 214h.1M692.3 225.1h.1M721.2 208.6h.1M692.3 225.6h.1M700.2 187.8h.1M691.8 192.1h.1M722.1 214.4h.1M703.9 186.5h.1M699.9 188.7h.1M693.3 225h.1M689.1 224.2h.1M689.8 191.3h.1M709.1 187.5h.1M702.7 188.6h.1M702.6 229h.1M686.9 223.8h.1M708.6 189.3h.1M722.3 223.8h.1M722 225.9h.1M721.9 229.7h.1M685.7 218.8h.1M709.7 191.6h.1M700.2 186.3h.1M689.1 190.3h.1M700.4 185.4h.1M685.1 219.1h.1M720.3 228.8h.1M710.2 233.4h.1M708 230.7h.1M722 209.3h.1M717.9 229.6h.1M700.4 187.1h.1M703.1 230.2h.1M687.8 206.2h.1M704.2 231.2h.1M711.4 191.6h.1M688.9 192.6h.1M691.3 200.6h.1M693.2 201.7h.1M686.3 219.9h.1M707.9 233.1h.1M720.6 226h.1M690.7 189.1h.1M686.7 207.6h.1M709.6 190.9h.1M699.1 186.6h.1M722.7 217.3h.1M722 225h.1M713.8 193.1h.1M703.5 184.7h.1M718.4 203.2h.1M714.4 197.9h.1M713.2 195.6h.1M687.5 218.5h.1M701.5 228.2h.1M706.3 232.9h.1M723.5 217h.1M685.2 212.6h.1M698.1 187.9h.1M721 231.8h.1M722.9 210.2h.1M716.1 230.5h.1M703.9 185.7h.1M715.4 231.6h.1M711.8 189.4h.1M687.7 205.2h.1M719.8 229h.1M687.8 223.8h.1M703 227.6h.1M712.1 191.5h.1M710.1 230h.1M703.3 186.1h.1M685.5 211.8h.1M684.9 218.5h.1M697.3 225h.1M708.4 187.2h.1M720.5 203.3h.1M708.3 187.8h.1M686.3 216.3h.1M708.2 233h.1M702.7 185.1h.1M717.6 202.5h.1M699.7 227.2h.1M689.2 203.5h.1M697.4 223.3h.1M689.1 205.1h.1M687.9 208.5h.1M765.3 172.2h.1M772.1 174.8h.1M766.6 222.1h.1M765.2 202.8h.1M757.7 176.6h.1M772.6 198.4h.1M760.3 203.7h.1M759.7 205.2h.1M768.3 208.2h.1M770.1 192.9h.1M749.5 208.2h.1M777.3 219.1h.1M766.3 218.3h.1M780.6 220.7h.1M762.4 201.4h.1M745.1 196.6h.1M755.1 178.9h.1M750.1 207.6h.1M776.4 205.2h.1M773.8 220.1h.1M745.8 198.6h.1M756.7 209.7h.1M778.8 209.8h.1M756.6 176.4h.1M773.8 222.7h.1M775.9 207.7h.1M760.7 174.6h.1M766.6 220.1h.1M775.6 177.9h.1M749.4 202.6h.1M776.4 203.6h.1M763.3 200.8h.1M766.1 200.9h.1M772.3 195.3h.1M773.9 176.3h.1M778.2 217.4h.1M770.4 216.7h.1M754 209.4h.1M757 207h.1M748.5 188.3h.1M776.4 207.1h.1M769.1 194.4h.1M769.2 215.8h.1M767.3 217.3h.1M781.9 211.9h.1M766.4 207.6h.1M778.1 217.5h.1M758 206.8h.1M747.8 192.4h.1M770.9 200.2h.1M757.5 206.5h.1M747 189.8h.1M777.6 220.1h.1M764.8 175.1h.1M772.1 225.3h.1M746.9 189.3h.1M768.7 221.5h.1M755.7 178.4h.1M766.1 225.3h.1M760 203.5h.1M774.3 222.5h.1M772.3 202.3h.1M759.5 208.2h.1M774.9 219.1h.1M766.5 222.2h.1M767.8 216.1h.1M768.3 203.4h.1M767.5 215.3h.1M776 190.5h.1M775.9 186.9h.1M771.2 220.7h.1M753.3 182.1h.1M762.7 202.9h.1M747 192.8h.1M767.2 204h.1M752.6 210.9h.1M780.7 210.4h.1M750.1 207.5h.1M749.2 189.3h.1M759.2 177.3h.1M750.7 185.1h.1M776.6 177.5h.1M770.4 199.6h.1M750.9 184.2h.1M744.2 196.2h.1M778.5 218.1h.1M764.3 175.5h.1M775.3 177.8h.1M769.9 208.1h.1M755.8 212.6h.1M779.3 220.4h.1M781.4 216.9h.1M777.6 178.9h.1M759.5 176.6h.1M772.5 176.6h.1M771.4 192.4h.1M760.2 174.3h.1M754 212.1h.1M775.3 203.7h.1M772.1 213h.1M745.9 191.2h.1M767.4 218.6h.1M759.9 203.3h.1M771.5 222.7h.1M779.9 218h.1M770 192.9h.1M767 220.6h.1M765.4 222.5h.1M758 208.4h.1M768.9 223.8h.1M766.9 173.6h.1M767.3 174.4h.1M761.8 175.6h.1M775.1 220.7h.1M772.2 201.8h.1M766.9 204.2h.1M779 218.4h.1M768.9 215.6h.1M745 192h.1M759.4 174.6h.1M772.9 191.6h.1M772.4 190.7h.1M747.7 190.8h.1M787.2 198.3h.1M793.7 197.9h.1M786.9 198.5h.1M782 195.7h.1M789.3 199.8h.1M794.4 190.8h.1M783.6 191.8h.1M786.7 191.2h.1M796.2 196.3h.1M791.1 189.1h.1M793.6 191.1h.1M793.6 199.2h.1M794.7 194h.1M782.1 192.5h.1M787.6 191.3h.1M791.7 200.9h.1M787.3 199.5h.1M788.4 200h.1M782.2 197.8h.1M789 199.8h.1M789.8 200.5h.1M783.1 198h.1M793.1 191.2h.1M792.1 198.6h.1M786.3 192.6h.1M794.7 196.3h.1M721.9 89.8h.1M716 87h.1M718.1 89.4h.1M720.2 88.5h.1M718.8 90.4h.1M715.6 88.8h.1M718.4 90.6h.1M719.4 90.7h.1M746.2 127.6h.1M745.7 126.2h.1M747.1 126.7h.1M744 124.9h.1M749.3 132.9h.1M748.6 134.3h.1M747.5 130.5h.1M747.1 133.3h.1M748.3 134h.1M729.6 181.4h.1M729.9 179.5h.1M727.8 178.5h.1M728.7 177.4h.1M728.9 182h.1M726.2 181.9h.1M726.3 178.2h.1M744.8 228h.1M738.9 233.5h.1M744.6 224.5h.1M740.5 227.1h.1M745.6 226.9h.1M738 232.5h.1M743.7 228.6h.1M739.8 230.4h.1M744.1 221.9h.1M742.9 226.8h.1M742.7 231.3h.1M743.5 228h.1M743.6 227.2h.1M744.2 225.7h.1M743.3 224.8h.1M740.7 235h.1M744.6 223.1h.1M743.7 230.4h.1M745.2 224.9h.1M741.5 226.5h.1M743.1 231.2h.1M690.3 154.7h.1M699.3 178.1h.1M701.1 179.5h.1M696.2 180.3h.1M701.3 180.1h.1M695.2 172.2h.1M696.4 176.2h.1M698.2 179h.1M698 179.1h.1M686.6 154.6h.1M689.7 150.2h.1M690.6 153h.1M693.8 164.7h.1M697.7 179h.1M690.5 156.8h.1M686.7 153.4h.1M695.6 171.8h.1M684.4 149.3h.1M697.3 176.4h.1M701.1 181.1h.1M694.8 162.6h.1M690.4 152h.1M700.3 180.9h.1M692.7 162.2h.1M687.3 147h.1M688.8 148.7h.1M690.7 161.9h.1M688.9 160.7h.1M695.2 172.3h.1M688 148.4h.1M698 171.4h.1M690.8 153.4h.1M690.3 156.3h.1M691.9 159.9h.1M687.9 151.5h.1M694.8 171.7h.1M693.9 166.2h.1M699.5 175.5h.1M698.9 170.8h.1M690.5 155.8h.1M685.5 155.4h.1M696.7 171.9h.1M690.9 154.7h.1M698.3 178.2h.1M688.2 153.7h.1M696.6 171.9h.1M687.8 150.2h.1M699.8 179h.1M691.6 159.4h.1M689.7 157.7h.1M694.8 176.7h.1M696.7 174.2h.1M696.1 172h.1M685.1 151.8h.1M695 165.3h.1M688.8 146.3h.1M698.6 176.4h.1M692.7 157.3h.1M687.4 149.9h.1M688.2 149.8h.1M687 154.5h.1M688.1 154.3h.1M700.6 172.9h.1M696.5 169.3h.1M693.6 169.6h.1M691.4 154.6h.1M688.5 147.2h.1M697.3 173.4h.1M695.7 166.2h.1M686.6 148.2h.1M686.3 151.6h.1M699.8 179.6h.1M689.5 160.2h.1M696.6 177.5h.1M690.3 149.6h.1M698.2 172.4h.1M691.8 160.5h.1M697.5 176.4h.1M685.7 151.1h.1M692.1 156.7h.1M692.2 162.5h.1M702.1 178.9h.1M690.9 152.4h.1M699.1 180.3h.1M687.9 150.7h.1M696.8 179.6h.1M695.3 164.4h.1M693.6 162.3h.1M690.8 161.8h.1M698.9 172.9h.1M701.4 180.9h.1M700.5 177.9h.1M698.5 171.6h.1M698.8 171.6h.1M694.5 164.4h.1M689 152.7h.1M689.2 159.5h.1M685.8 149.6h.1M697.4 170.3h.1M692.1 158.2h.1M690.7 158.4h.1M695.4 174h.1M698.2 175.6h.1M693.3 162.8h.1M698.5 181.3h.1M698.9 182.7h.1M697.6 172.4h.1M686.4 149.7h.1M695.6 168.9h.1M691.4 155.2h.1M688.4 153.1h.1M689.1 148.4h.1M689.2 154.2h.1M696.7 170.6h.1M698.7 177.4h.1M696 174.5h.1M697 174.9h.1M697.9 176.5h.1M699.6 179.4h.1M695.5 164.9h.1M690.6 162h.1M699.3 173.8h.1M696.6 174.9h.1M693.2 159.1h.1M699.6 176.4h.1M687.3 149.3h.1M691.4 160h.1M697.7 181.6h.1M692.3 157.7h.1M683.9 147.9h.1M687.3 151.8h.1M690.9 152.7h.1M691.9 166.2h.1M686.6 156.3h.1M698 179.6h.1M691 161.8h.1M696.5 172.2h.1M689.1 155.3h.1M697.2 173.4h.1M696.9 171.6h.1M688.7 148h.1M699.4 174.6h.1M693.8 165.2h.1M688.3 155h.1M695.1 176.3h.1M697 179.3h.1M696.9 174.4h.1M690.2 163.6h.1M695.7 174.3h.1M689.3 152.4h.1M690.1 156.5h.1M695.3 172.6h.1M687.3 156.2h.1M696.8 175.3h.1M698.5 179.3h.1M694.5 170.2h.1M696.1 175.4h.1M701.9 180.8h.1M686.9 152.5h.1M691 158.2h.1M688.5 149.1h.1M697.5 178h.1M688.4 149.5h.1M690.6 153.3h.1M688.1 160.7h.1M695.8 176.8h.1M694.6 169.8h.1M687.8 154.7h.1M701.2 174.5h.1M693 158.5h.1M690.4 151.6h.1M696.1 173.4h.1M690.2 150.7h.1M693.1 167.4h.1M687.9 148.7h.1M692.7 156.6h.1M698 172.5h.1M688.9 150.2h.1M689.4 154h.1M694.6 160.9h.1M695.8 170.8h.1M693.8 165.7h.1M693.8 172.2h.1M694.5 160.3h.1M692.5 172.5h.1M699.6 180.5h.1M694.2 157.9h.1M695.1 171.8h.1M690.7 160.4h.1M696.8 165.8h.1M696.7 174.2h.1M694.9 164.1h.1M700 176.4h.1M700.3 176.6h.1M692.2 170.7h.1M694 164.9h.1M692.7 162.2h.1M698.5 180.3h.1M691.7 161h.1M697.5 179.6h.1M693.8 164.8h.1M692.2 156.9h.1M690.9 157h.1M693.9 168.3h.1M692.5 157.9h.1M699.9 174.1h.1M698.3 167.9h.1M694.9 176.5h.1M693.5 162.6h.1M696.6 177.5h.1M696 175.4h.1M692.8 159.9h.1M693.1 158.1h.1M689.9 155.7h.1M694.6 165.8h.1M685.1 147.2h.1M692.3 164.8h.1M701.5 179.8h.1M694.9 164.9h.1M691.3 159.6h.1M702 182h.1M695.3 163.1h.1M689.8 148.1h.1M693 162.9h.1M698.4 174.8h.1M691.3 163.2h.1M692.2 175h.1M715.2 161.8h.1M714.7 159.8h.1M710.4 171.8h.1M711.4 166.2h.1M718.8 162.3h.1M706.8 170.5h.1M706.3 177.9h.1M717.5 157.9h.1M721.5 160.1h.1M702 178h.1M715 169.2h.1M711.2 166.8h.1M717.1 166.1h.1M716.5 160.4h.1M717.7 162.2h.1M708.9 171.9h.1M712.1 171.3h.1M713.7 172.9h.1M710.8 166.5h.1M706.5 174.2h.1M715.4 159.2h.1M706.3 174.5h.1M713.8 168.4h.1M713.5 168.3h.1M708.9 168.3h.1M701.6 180.5h.1M717.9 161.5h.1M721.3 162h.1M710.1 169h.1M700.7 179.3h.1M713.2 162.5h.1M710.8 172.7h.1M712.5 169.5h.1M717.4 159.5h.1M708.7 167.5h.1M713.5 161.5h.1M714.8 157.6h.1M707 174.4h.1M720.4 159.5h.1M717 162.8h.1M701.4 178.9h.1M701.2 180.3h.1M714.1 169.4h.1M714.2 166.7h.1M717.3 159.7h.1M710.1 166.6h.1M705.2 178.1h.1M716.6 167.3h.1M713.9 160.3h.1M720.6 160.5h.1M718.3 162.3h.1M705.6 178.6h.1M715.4 162.7h.1M716.6 163h.1M714.3 160.7h.1M709 171.3h.1M705.8 173.3h.1M709.3 168.7h.1M714.1 169h.1M713.2 165.3h.1M711.8 172.7h.1M705.6 174.3h.1M714.8 159.1h.1M705 177h.1M706.9 175.2h.1M705.5 176.1h.1M719.7 159.9h.1M718 161.4h.1M704.1 176.8h.1M717 157.8h.1M715.2 168.3h.1M711 168.7h.1M712.6 160.9h.1M707.3 172.8h.1M705.7 174.7h.1M704.4 176.3h.1M708.3 174.2h.1M711.8 164.2h.1M704.3 180.3h.1M716.8 162.8h.1M703.9 176.7h.1M711.4 169.2h.1M717.2 160.9h.1M717.1 160.5h.1M718.7 161.6h.1M715.6 163.2h.1M709.7 166.1h.1M710.7 171.3h.1M719.5 159.3h.1M712.6 169.5h.1M715.4 165.3h.1M712.7 163.4h.1M715.1 161.2h.1M708.5 174.5h.1M713.4 166h.1M708.7 172.4h.1M711.5 172.9h.1M720.6 161.5h.1M711.9 166.2h.1M710.1 169.1h.1M715.5 165.5h.1M703.7 177.5h.1M716.8 162.1h.1M713.1 168.2h.1M716.2 160h.1M715.5 160.3h.1M711.6 165.4h.1M708.1 167.9h.1M718.1 164.9h.1M709.5 171.2h.1M705.5 173.1h.1M712.4 167.1h.1M703.4 176h.1M712.9 164.2h.1M708.8 168.5h.1M709.2 171.3h.1M709.8 173.1h.1M717.2 162h.1M718.2 164.7h.1M710.2 169.8h.1M711 175.3h.1M715.4 162.7h.1M712.2 169.1h.1M708.4 175.3h.1M716.2 157.3h.1M708.1 172.7h.1M713.4 166.5h.1M710.1 174.8h.1M718.4 157.1h.1M708.4 174h.1M709.9 171.2h.1M710.3 167.4h.1M706.7 169.4h.1M718.3 157.9h.1M712.6 168.7h.1M711.3 167.8h.1M706.6 177h.1M711.1 171.5h.1M709.1 171.1h.1M709.7 172.4h.1M709.3 170.5h.1M716.2 161.2h.1M715.5 163.2h.1M714.8 162.7h.1M712.7 170.4h.1M715.1 161.8h.1M707 176.4h.1M711.7 166.2h.1M707.1 175.6h.1M706.9 174.6h.1M710 174.2h.1M712.9 163h.1M705.3 174.6h.1M706.1 173h.1M705.6 176.8h.1M713.8 168.1h.1M705.4 175.2h.1M706.2 171.2h.1M707.6 171.3h.1M708.1 174.8h.1M705.6 176.1h.1M718.2 159.7h.1M714.2 161.7h.1M702.5 178.2h.1M710.7 173.7h.1M707.6 169.8h.1M710.7 171h.1M711.8 166h.1M700.2 179.4h.1M705.3 174.9h.1M706.6 173.9h.1M711 174.9h.1M703.2 166.7h.1M701.9 169h.1M703.3 166.6h.1M702.2 175.9h.1M700.7 175.8h.1M702.8 172.5h.1M704.7 159.4h.1M704.2 164.9h.1M705 158.7h.1M702.2 174.1h.1M706.6 163.3h.1M704.1 167.6h.1M706.3 164.7h.1M703 167.9h.1M706.2 159.1h.1M703.8 164.1h.1M702.2 170.3h.1M702 172.3h.1M704.3 176.1h.1M700.7 172.5h.1M703.2 171.8h.1M706 157.5h.1M703.4 176.7h.1M701.7 175.6h.1M702.2 177.1h.1M704.5 171.4h.1M704.9 163.1h.1M705.6 163.6h.1M704 162.8h.1M703.6 171.2h.1M703.5 165.2h.1M703.6 161.9h.1M704.6 163h.1M701.3 172.6h.1M705.2 169.1h.1M700.5 177.9h.1M701.7 169h.1M704.6 171.5h.1M702.3 165.9h.1M705.1 167.4h.1M705.1 162.7h.1M703.2 172.5h.1M704.9 170.5h.1M702.2 169h.1M704 175.4h.1M703.9 168.8h.1M701.3 170.1h.1M704 165.5h.1M749.8 176.3h.1M741.6 173.1h.1M747.9 171.2h.1M744.2 160.2h.1M741.9 161.5h.1M746 161.2h.1M752.4 179.9h.1M752.8 176.5h.1M744.9 161.6h.1M747.8 168.8h.1M752.9 175.3h.1M741.6 173h.1M750.5 168h.1M749.9 179.4h.1M747.5 173.4h.1M747.8 162.8h.1M749.5 178.4h.1M750.8 180.6h.1M750.5 169.5h.1M745.4 169.1h.1M745.3 177.3h.1M751.3 174.9h.1M745.3 169.7h.1M747.4 162.2h.1M746.7 176.7h.1M755 177.3h.1M741.2 157.1h.1M750.3 175h.1M741.8 162.6h.1M750.9 176.4h.1M741.9 168.4h.1M740.4 161.2h.1M747.4 171h.1M748.7 178.3h.1M744.7 173.3h.1M751 179.2h.1M746 163.4h.1M750.8 178.2h.1M741.4 163.8h.1M744.9 162.9h.1M742.4 164.2h.1M752.2 179.9h.1M750.3 178.4h.1M737.4 157h.1M748.6 172.6h.1M750.4 177.6h.1M745.8 167.9h.1M741.8 157.7h.1M743.4 177.2h.1M746 167.7h.1M744.2 172.9h.1M753.2 174.8h.1M750.3 170.6h.1M741.2 158.4h.1M745.6 166.1h.1M743.5 166.3h.1M750.1 178.1h.1M754.5 177.8h.1M752.7 173.1h.1M745.1 162.7h.1M747.6 173.9h.1M743.9 164.1h.1M753.4 179.7h.1M748.1 168.5h.1M747.7 171.4h.1M744.9 163.2h.1M749.3 170.9h.1M743.6 170.1h.1M746.8 176.8h.1M741.2 163.9h.1M744.2 171.7h.1M743.2 161.9h.1M741.1 171.4h.1M744.1 167.3h.1M750.1 179.9h.1M748.5 168.1h.1M750.5 178.4h.1M749.3 169.1h.1M750 180.3h.1M741.7 157.7h.1M742.9 173.5h.1M751.1 177.3h.1M745 169.1h.1M744.5 161.8h.1M750.4 172h.1M752.8 175.6h.1M746.8 173.9h.1M741.7 158.8h.1M748.7 168.9h.1M747.7 176h.1M751.3 171h.1M742.6 172h.1M748 174.6h.1M745.5 164.6h.1M747.7 178.6h.1M745.5 177.3h.1M744.6 176.6h.1M745.5 171.4h.1M744 167.9h.1M754.1 174.2h.1M738.5 156.2h.1M743.8 171.2h.1M741.5 163.4h.1M746.9 171.9h.1M754.3 173.9h.1M744.4 170.8h.1M742.9 161h.1M742.3 173.7h.1M742.6 166.5h.1M748 178.9h.1M751.8 173.2h.1M745.3 167.8h.1M745.5 169.8h.1M747.9 173.8h.1M743.2 176.2h.1M742.5 164.6h.1M746.7 166.7h.1M744.8 174.9h.1M749.9 167.8h.1M749.3 176.8h.1M749.4 177h.1M750.1 167.9h.1M753.8 179.3h.1M746.2 165.9h.1M751.1 169.1h.1M752.6 173.1h.1M742.2 164.1h.1M749.9 170.2h.1M742.2 158.6h.1M743.3 160.3h.1M745.4 173.4h.1M753.5 176.3h.1M753.1 176.7h.1M753.4 173.8h.1M746.5 175.8h.1M752.4 172h.1M742.5 161.5h.1M744.2 159.2h.1M741.5 158.5h.1M749.6 177.5h.1M740.7 160.4h.1M746.1 176.9h.1M743.4 158.5h.1M743.5 159.6h.1M749.4 168.8h.1M751.9 178.4h.1M751 180.5h.1M742.2 161.6h.1M746.6 166.4h.1M745 162.9h.1M746.5 162.6h.1M742.6 162h.1M752.8 175.3h.1M752.5 172.4h.1M744.6 174.3h.1M745.3 164.7h.1M749.2 170.1h.1M742.3 173.5h.1M749.5 172.3h.1M744.2 160.2h.1M752.4 174.4h.1M749.8 177.9h.1M749.6 175.4h.1M746.3 176.6h.1M750.1 176.1h.1M751.4 177.9h.1M750.1 172h.1M687.1 181.6h.1M677 180.2h.1M684.6 179.4h.1M689.1 178.9h.1M674.6 181.5h.1M687.4 179.6h.1M679.6 180.6h.1M689.2 177.7h.1M682.8 179.8h.1M691.2 177.7h.1M685.4 180.8h.1M673.9 178.9h.1M688.2 180.8h.1M676.5 179.3h.1M685.3 181.7h.1M684.5 179.9h.1M680.7 178.6h.1M681 178.5h.1M679.4 179.4h.1M689.8 179.8h.1M674.5 178.6h.1M686.7 177.5h.1M677.7 180h.1M677.1 182.5h.1M688 179.2h.1M681.6 181.4h.1M680.5 183.2h.1M682.2 178.5h.1M687.1 178.7h.1M686.1 178.9h.1M684.2 179.9h.1M687.3 178h.1M681.2 180.1h.1M675.6 179.1h.1M686.5 179h.1M675 179.6h.1M678.4 181.5h.1M676 177.7h.1M688.1 178.1h.1M684.6 179.1h.1M690.4 179.1h.1M700.7 183.1h.1M704.6 183.3h.1M704.3 184.7h.1M700.6 179.7h.1M703.2 185h.1M706.5 185.1h.1M704.5 184.2h.1M701.5 184.3h.1M704.5 186.2h.1M700.4 186.7h.1M699.2 182.9h.1M699.4 183.7h.1M709.1 187h.1M705.1 188.1h.1M701.9 185h.1M706.5 188.6h.1M699.4 181.6h.1M700.6 181h.1M703.7 185.6h.1M702 180.6h.1M707.4 188h.1M700.6 186.1h.1M702.4 180.8h.1M706.6 185.8h.1M697 188.6h.1M703.6 185h.1M699.6 183.2h.1M705.1 181.5h.1M700.1 184.2h.1M702.5 183.7h.1M702.1 181.6h.1M702.2 185.1h.1M707.6 186.7h.1M707.9 186.6h.1M707.2 188.1h.1M708.3 188.5h.1M703.3 185.2h.1M702.6 185.8h.1M715.5 177.1h.1M689.4 172.7h.1M686.6 170.2h.1M706.1 167.1h.1M689 166.5h.1M711.8 177.8h.1M697.3 180h.1M692.8 179.8h.1M699.9 188.7h.1M695.3 187.6h.1M712.7 172.6h.1M706.5 154.9h.1M711.2 161h.1M694.2 165.4h.1M702.9 152.4h.1M696.5 173.2h.1M696.8 174.3h.1M706.6 165.6h.1M708.3 161.8h.1M694.5 157.7h.1M700.1 173.3h.1M691.2 155.5h.1M706.3 156.2h.1M707.6 163.7h.1M701.2 186.1h.1M695.3 168h.1M685.1 176.3h.1M687.9 162.4h.1M696.9 167.5h.1M691.2 177.7h.1M694.9 155.5h.1M690.5 173.1h.1M709.7 164.2h.1M692.5 179.8h.1M693.2 164.2h.1M706 166.3h.1M710.9 164.1h.1M692.2 164.1h.1M696.1 160.4h.1M710 185.7h.1M691 152.1h.1M704.9 178.6h.1M710.2 173.9h.1M691 171.1h.1M714.3 168.4h.1M691.6 156.6h.1M705.2 168.4h.1M708.5 177.1h.1M692.6 161h.1M689.5 154.4h.1M700.3 179.9h.1M702 165.6h.1M695.5 185.4h.1M713.5 168.1h.1M704.3 170.6h.1M694.3 152.2h.1M696.2 165.4h.1M706.7 164.3h.1M705.3 171.4h.1M697.3 177h.1M692.1 178.9h.1M714.2 173h.1M704.3 158.5h.1M703.5 176.1h.1M686.1 180.9h.1M706.3 177.9h.1M694.2 173.7h.1M704.3 186.2h.1M697.4 150h.1M688.3 178.3h.1M694.5 177.2h.1M696.5 151.7h.1M700.8 154.6h.1M708.5 163h.1M700.9 184.9h.1M698.2 162.7h.1M706.5 167.8h.1M693.6 155.2h.1M704.3 186h.1M687.7 160.8h.1M707.4 180.6h.1M693.8 184.4h.1M702.2 180.7h.1M710.9 163.5h.1M696.3 151.9h.1M695.9 157.2h.1M699 167.7h.1M710.9 161.3h.1M692.2 158.1h.1M704 167.1h.1M743.8 177h.1M745.4 167.2h.1M752.6 183.3h.1M755.5 181.2h.1M736.2 160h.1M750.8 172.6h.1M741.7 166h.1M746.7 178.3h.1M743.2 171.7h.1M737.6 175h.1M750.6 174.6h.1M745.7 183.9h.1M741.9 181.4h.1M734.5 158.9h.1M739.2 171.8h.1M758 178.9h.1M736.7 169.7h.1M751.9 176.4h.1M746.1 182h.1M747.5 173.5h.1M742.8 178.7h.1M744.5 176.1h.1M734.3 165.3h.1M750.2 180.6h.1M753.2 179.8h.1M749.9 181.9h.1M737.6 167.5h.1M742.7 182.2h.1M742.7 183.4h.1M747.6 178.8h.1M735.7 167.3h.1M745.7 176h.1M744.2 165.9h.1M750.7 173.2h.1M752.9 180.7h.1M742.6 171.8h.1M736.2 173.1h.1M748.7 174h.1M745.7 164.8h.1M733.8 158.5h.1M748.4 167.2h.1M751.5 185.3h.1M750.2 172.7h.1M753.5 178.7h.1M749.9 180.6h.1M755.1 175.1h.1M747.9 181.4h.1M741.1 168.6h.1M751.8 179.6h.1M737.8 171.4h.1" stroke="#b08fc7" stroke-width="1" stroke-linecap="round" fill="none"/>
<path d="M757.6 186.7h.1M765.8 181.2h.1M765.5 182.4h.1M756 182.1h.1M755.3 185.4h.1M765.8 176.6h.1M754.9 185.3h.1M753.9 183.9h.1M761.2 179.9h.1M754.6 192.4h.1M763.9 185.8h.1M769.4 176.6h.1M762.9 179.1h.1M760.3 187.7h.1M758 182.2h.1M758 189.9h.1M761.2 179.8h.1M758.1 183.4h.1M759.5 190.3h.1M755.5 192.3h.1M767.2 181.3h.1M761.7 181.2h.1M757.1 182.4h.1M762.5 183.2h.1M763.2 181.8h.1M757.7 189.2h.1M765 179.2h.1M762.3 177.9h.1M763.2 179.2h.1M765.1 183.7h.1M757.9 188.7h.1M759.6 186.7h.1M765.3 176.9h.1M757 186.7h.1M761.5 181.1h.1M756.8 184.1h.1M760.5 184.9h.1M767.6 177.1h.1M759.1 181.3h.1M761.2 182.2h.1M753.8 188.7h.1M766.1 179.3h.1M732.6 129.3h.1M733 133.5h.1M735.4 138.2h.1M732.7 129.1h.1M736.1 132.2h.1M734.9 126.1h.1M732.2 130.5h.1M729.8 122.5h.1M730.1 128h.1M736.1 132.1h.1M735 129.9h.1M731.4 131.6h.1M730.7 122.4h.1M738.4 136.6h.1M738.9 133.2h.1M733.8 139h.1M732.1 126.7h.1M737.1 134.5h.1M734.2 124.7h.1M735.8 125.8h.1M732.6 130.6h.1M730.9 128.7h.1M736.3 137.4h.1M735.1 135.5h.1M701.6 207.7h.1M710.4 202.6h.1M708.5 200.4h.1M701.7 198.6h.1M701.5 194h.1M703.7 204h.1M697.2 202.8h.1M711.3 203.2h.1M697 203.2h.1M710.6 199.6h.1M713.8 201.5h.1M701.9 194.6h.1M705.2 194.7h.1M703.8 192.7h.1M693.8 193.8h.1M715.9 200.9h.1M711.8 203.5h.1M693.7 198.7h.1M701.8 198.2h.1M699.2 204.8h.1M708.7 192.7h.1M702.9 206.6h.1M706.4 206.1h.1M701 195.5h.1M712.2 222.7h.1M712.3 230.4h.1M711.6 231.1h.1M717.7 231.3h.1M713.1 230.4h.1M718.2 222.6h.1M713.8 223.6h.1M710.7 229.5h.1M708.6 231.1h.1M716.2 221.4h.1M711.1 223.1h.1M709.3 227.8h.1M719.2 229.5h.1M716.8 227.1h.1M713 225.6h.1M707.3 223.6h.1M714.5 231.2h.1M715.5 229.3h.1M721.3 221.4h.1M720.5 223.9h.1M712.9 221.4h.1M711.8 228.2h.1M718.6 228.3h.1M718.2 229h.1M717 228.5h.1M712.5 222.2h.1M719.8 226.5h.1M719.2 227h.1M708.5 229.8h.1M708.9 230h.1M675.5 132.1h.1M680.1 148.4h.1M685.5 136.6h.1M678.8 135.8h.1M683.5 134.8h.1M678.4 136h.1M680 136.5h.1M679.6 145h.1M686.4 142.2h.1M680.7 134.8h.1M684.2 139.5h.1M684 135.7h.1M686.6 137.3h.1M676 133.1h.1M685.9 144h.1" stroke="#fff" stroke-width=".8" stroke-linecap="round" fill="none"/>
<g fill="#ee7b72" fill-opacity=".93">
<path d="M343.8 134.4C344.4 133.8 347.9 132.4 349.3 131.8C350.6 131.1 354.1 129.5 355.4 128.7C356.7 127.9 359.2 125.4 360.5 125.1C361.8 124.8 365.4 125.5 366.5 126.3C367.7 127.1 369.8 130.3 370.6 131.8C371.4 133.2 372.9 137.3 373.7 138.9C374.4 140.4 376.6 143.3 377.1 145C377.7 146.6 378.4 151.6 378.3 153.1C378.2 154.6 376.8 157.9 376.3 158.2C375.7 158.4 374.2 156.2 373.7 155.1C373.1 154.1 372.2 150.2 371.6 149C371 147.9 369.3 145.2 368.6 145C367.9 144.7 366.2 146.1 365.5 147C364.8 148 363.1 151.8 362.5 153.1C361.8 154.4 360.7 157.5 360.1 158.2C359.4 158.9 357.2 159.7 356.8 159.2C356.4 158.7 356.2 155.4 356.4 154.1C356.6 152.8 358.3 149.4 358.4 148C358.5 146.6 358 143.1 357.4 141.9C356.8 140.7 354.4 138.5 353.4 137.9C352.3 137.3 349.3 136.9 348.3 136.9C347.3 136.8 345.1 137.5 344.6 137.3C344.1 137 343.3 135.1 343.8 134.4ZM399 122.6C399 122 402.8 121.5 404.1 121.6C405.4 121.7 409.4 124 410.2 123.7C411 123.3 410.9 119.1 411.2 118.6C411.6 118.1 413 118.8 413.2 119.6C413.5 120.4 414.1 124.5 413.7 125.7C413.2 126.9 410.3 129.6 409.2 129.7C408.1 129.9 405.3 127.9 404.1 127.1C402.9 126.3 399 123.3 399 122.6ZM375.7 189.6C376.5 188.9 379.2 187.4 380.8 187.2C382.3 187 387.2 187.2 388.9 187.6C390.5 188 393.8 189.5 395 190.7C396.2 191.8 398 196 399 197.8C400 199.5 402.7 204 403.5 205.9C404.3 207.8 405.2 212 405.5 214C405.9 216 406.7 221.1 406.8 223.1C406.8 225.2 406.8 230.2 406.1 231.3C405.5 232.3 402.6 232.1 401.1 232.3C399.5 232.5 394.8 232.9 392.9 232.7C391 232.5 386.6 231.1 384.8 230.3C383 229.4 379.1 226.6 377.7 225.2C376.3 223.8 373.5 219.8 372.6 218.1C371.8 216.3 370.3 212 370.2 209.9C370.1 207.9 371.2 202.7 371.6 200.8C372 198.9 373.2 195 373.7 193.7C374.1 192.4 374.9 190.4 375.7 189.6ZM431.5 193.7C432.3 192.8 436.2 190.5 437.6 189.6C439 188.8 442.4 187.7 443.7 186.6C445 185.5 447.6 181.4 448.8 180.5C450 179.6 452.7 179.1 453.9 179.1C455 179.1 458.5 179.5 458.9 180.5C459.4 181.5 458.1 186.2 457.5 187.6C456.9 189 453.9 191.3 453.9 192.7C453.8 194.1 456.2 198.1 456.9 199.8C457.6 201.5 459 205.2 459.9 206.9C460.9 208.6 464.4 212.5 465 214C465.6 215.5 465.6 219.6 465 220.1C464.4 220.6 460.9 219 459.9 218.1C459 217.1 457.7 213.3 456.9 212C456.1 210.7 453.9 208.1 452.8 206.9C451.8 205.7 448.8 202.1 447.8 201.8C446.7 201.6 444.5 203.8 443.7 204.9C442.9 205.9 441.6 210.4 440.7 211C439.7 211.6 436.5 210.8 435.6 209.9C434.6 209.1 433.1 205.3 432.5 203.9C432 202.4 431.2 199 431.1 197.8C431 196.6 430.8 194.7 431.5 193.7ZM423 171.8C423.1 171.3 425.5 170.7 426.4 171C427.4 171.3 431 173.8 431.5 174.4C432.1 175.1 431.8 176.4 431.1 176.4C430.4 176.5 426.4 175.6 425.4 175C424.5 174.5 422.9 172.3 423 171.8ZM401.1 86.7C401.2 86.6 402.3 87 402.7 87.3C403.1 87.7 404.3 89.4 404.3 89.7C404.4 90.1 403.4 90.7 403.1 90.6C402.8 90.4 401.7 89 401.5 88.5C401.2 88.1 400.9 86.8 401.1 86.7Z"/>
</g>
<path d="M364.7 146.8h.1M349 134.7h.1M344.9 133.3h.1M363.6 151.3h.1M375.8 158.8h.1M369.9 145.8h.1M373.8 134.9h.1M362.3 124.9h.1M365.1 148h.1M357.1 142.1h.1M345 136h.1M345.2 136.7h.1M368.9 126.9h.1M346.7 136.6h.1M377.4 145.8h.1M351 132h.1M343.8 133.4h.1M374.5 138.4h.1M372.8 140.3h.1M350.7 131.1h.1M356.7 156.5h.1M356.3 152.9h.1M345.5 134.1h.1M348.1 138.5h.1M351.7 137h.1M375.1 144.3h.1M356.4 126.2h.1M359.9 143.3h.1M353.8 130.3h.1M351 139.6h.1M371.1 149.6h.1M365 126.1h.1M361.5 156.3h.1M350.8 131.6h.1M378.1 152.5h.1M357.2 147.3h.1M350.6 131.1h.1M374 154.7h.1M358.2 158.6h.1M358 152.5h.1M361.3 124.4h.1M378.8 157h.1M343.7 137.6h.1M356.1 159.3h.1M378.6 151.6h.1M345.6 135.5h.1M373.2 154.8h.1M372.4 133h.1M377.6 143.6h.1M359.7 155.5h.1M377 144.8h.1M374.5 154.4h.1M374.5 137h.1M369.9 145.2h.1M370.3 131.4h.1M357.3 146.8h.1M375.4 142.5h.1M357.1 148.4h.1M356 139h.1M346.1 136.8h.1M364.2 123.5h.1M374.5 155.3h.1M357.7 160.7h.1M368.1 144.1h.1M364.9 147.2h.1M358.7 158.9h.1M376.9 154.9h.1M360.9 155.7h.1M375.6 157.7h.1M358.8 126.6h.1M367.6 126.5h.1M376.5 146.9h.1M370 130.9h.1M377.8 152.1h.1M357.6 126.6h.1M347.7 132.1h.1M370.7 149.9h.1M347.5 136h.1M357.6 148h.1M358.9 124.7h.1M348.6 136.7h.1M376.7 144.1h.1M355.1 127.4h.1M358.4 124h.1M376.8 147.5h.1M373.9 137.1h.1M347.9 136.3h.1M372.5 133.3h.1M377 155h.1M373.6 156.5h.1M357.1 126.2h.1M373.4 135.6h.1M344.6 133.5h.1M350.2 136.5h.1M373.4 136.9h.1M372.1 136.7h.1M362.1 150.1h.1M357.5 126.4h.1M371.6 150.9h.1M371.2 150.9h.1M356.4 157.2h.1M368.8 133.2h.1M355.2 139.8h.1M355.6 153.6h.1M358.8 157.4h.1M352.3 138.5h.1M358 144.5h.1M359.9 147.3h.1M359.9 157.3h.1M357.3 152.4h.1M373.8 156.3h.1M376.1 142.9h.1M358.8 149.2h.1M358.8 146.5h.1M346.3 130.2h.1M343.8 134.3h.1M358.2 146.4h.1M347.8 136.4h.1M373.5 137.1h.1M365 147.4h.1M365.3 148.6h.1M377.8 147.8h.1M369 143.6h.1M358.4 126.4h.1M364.2 146.5h.1M378.9 147.5h.1M360.3 124.3h.1M351.9 137.4h.1M409.4 123.4h.1M407.2 129h.1M407.8 124.4h.1M406.3 121h.1M402.5 121.5h.1M403.7 121.3h.1M402.2 126.3h.1M407.6 128.4h.1M402.8 124.2h.1M410.3 129.3h.1M399 121.8h.1M404.3 121.2h.1M408.2 124.4h.1M410.5 120.5h.1M403.6 125.9h.1M413.9 118.6h.1M411.6 125.4h.1M411.9 119h.1M409.7 123.3h.1M413.4 121.5h.1M414.4 120.2h.1M412.5 119.5h.1M406.1 123h.1M411.7 118.2h.1M409.6 124.1h.1M410.5 123.9h.1M401.3 121.9h.1M400.5 123h.1M413.8 121h.1M410.3 129.9h.1M409 130h.1M400.2 122.8h.1M412.8 118.8h.1M409.8 121.8h.1M408.4 128.8h.1M408 121.2h.1M408.9 128.9h.1M400.9 123.2h.1M413.5 119.4h.1M398.4 122.8h.1M405 122.8h.1M413.7 121.9h.1M410.3 123.7h.1M383.1 188.4h.1M404.4 208.5h.1M374.5 194.1h.1M406 220.8h.1M405.4 210.2h.1M370.4 198.2h.1M400.1 197.6h.1M404.5 231h.1M387 228.8h.1M402.4 209.2h.1M400.2 199.2h.1M387 185.6h.1M404.6 209.6h.1M401.8 201.6h.1M393.5 233h.1M379.4 226.2h.1M403.1 206.1h.1M406.1 224.9h.1M397.4 231.6h.1M373 219.4h.1M369.7 210.9h.1M376.1 222.5h.1M370.9 213.9h.1M384.3 188.1h.1M381.4 228.2h.1M373.4 219.4h.1M382.5 188h.1M371.9 207h.1M399.1 199.8h.1M406.3 211.6h.1M370.6 211.2h.1M400.4 233.8h.1M408.2 226h.1M389.7 190.5h.1M405.3 229.1h.1M374.5 218.6h.1M373.5 193h.1M370.9 213.4h.1M375.7 192.5h.1M406.7 230.6h.1M398.8 198.3h.1M394.3 233.9h.1M400.2 201.3h.1M375.7 190.1h.1M387.8 231.6h.1M370.3 211.1h.1M397.2 193.3h.1M372 203.8h.1M403.9 208.9h.1M387.9 230.1h.1M375.5 189h.1M396.2 194.6h.1M378.5 189h.1M405.9 229.7h.1M375.6 189.6h.1M379 225.4h.1M370.9 216.3h.1M380.3 227.5h.1M386.3 187.9h.1M393.1 231.1h.1M404.9 208.1h.1M378.8 225.3h.1M384.2 227.7h.1M381.1 225.5h.1M389.4 232.7h.1M371.5 205.4h.1M397.8 232.5h.1M406.9 220.7h.1M372.6 201.4h.1M407.4 219.8h.1M396.4 231.5h.1M371.4 204.7h.1M400.7 202.2h.1M394.6 190.8h.1M400.8 199.2h.1M371.8 210.1h.1M405.6 223.4h.1M371.2 202.3h.1M390.5 231.6h.1M380.3 188.8h.1M390.3 232.4h.1M390.3 230.9h.1M377.4 223.6h.1M371.3 210.4h.1M369 206.8h.1M399.2 197.4h.1M406.7 231.1h.1M395.6 191.2h.1M389.9 232.4h.1M376.5 220.7h.1M379.8 223.7h.1M387.8 230.9h.1M389.4 187.9h.1M404.5 217.7h.1M376.1 222.2h.1M397.5 232.8h.1M389.8 233.2h.1M406.6 231.1h.1M384.8 185.8h.1M404.7 207.9h.1M405.4 212.3h.1M405.8 219.4h.1M379.5 225h.1M402.8 208.8h.1M402.1 232.6h.1M400.2 199.9h.1M403.5 204.7h.1M373.8 191.2h.1M373.3 198.3h.1M373.1 213.8h.1M406.5 215.6h.1M405.5 229.1h.1M382.7 190h.1M406.1 226.3h.1M404.5 204.6h.1M403.6 232.3h.1M371.3 218.4h.1M370.6 200.7h.1M381.7 187.8h.1M408 221h.1M369.1 202.8h.1M374.6 219.9h.1M370.1 218.8h.1M375.6 191.4h.1M401.7 204.2h.1M382.9 229h.1M407.3 228.7h.1M371.9 202h.1M379.1 186.3h.1M391.1 232.6h.1M433 204.3h.1M451.1 180h.1M446.1 203.4h.1M445.2 181.2h.1M452.8 206.7h.1M456.6 213.4h.1M459.8 208.6h.1M458.2 180.5h.1M465 217.6h.1M462.3 210.1h.1M444.4 204.2h.1M459.4 216.4h.1M464.9 212.7h.1M455.1 193.8h.1M458.6 204.9h.1M454 196.5h.1M435 201.2h.1M457.9 190.8h.1M438.9 188.7h.1M463.3 217.4h.1M455.1 187.8h.1M446 183.9h.1M464.5 220.8h.1M439.2 189.8h.1M448 182.2h.1M458.3 183.8h.1M459 182.4h.1M456.1 198.5h.1M459.1 183h.1M434.4 207.7h.1M437.3 188.5h.1M434.4 193.5h.1M463.6 211.5h.1M462.5 219.7h.1M458.7 216.2h.1M432.1 200.8h.1M454.3 208.5h.1M459.4 206.2h.1M451.9 205.2h.1M440.9 211.9h.1M458.4 183.2h.1M444.6 202.3h.1M461.5 209.1h.1M458.9 183.6h.1M441.6 187.9h.1M457.5 202.7h.1M451.3 180.9h.1M452.4 208.4h.1M433.8 206h.1M461.2 211.2h.1M464.5 218.6h.1M444.4 204h.1M444 187.1h.1M434.5 209.5h.1M457.9 212.9h.1M445.3 203.9h.1M458.7 213h.1M438.2 189.8h.1M457.6 212.8h.1M457.4 202h.1M438.7 188h.1M437 210.4h.1M452.9 179.2h.1M433.8 207.3h.1M458.1 202.8h.1M464.2 220.3h.1M467 212.7h.1M462.5 209.6h.1M444.3 185.3h.1M430.3 195.2h.1M455.4 184.1h.1M459 205.2h.1M431.8 205.6h.1M432 206.2h.1M465.2 216.2h.1M431 202.1h.1M431.9 204.1h.1M457.7 185.8h.1M461.6 207.7h.1M446.8 184.9h.1M452.6 205.9h.1M446.5 183.8h.1M458.2 205h.1M448.8 180h.1M462.4 220h.1M437.4 189.2h.1M445.5 204.2h.1M455.5 213.4h.1M432.7 205.3h.1M436.1 210.4h.1M458.5 202.3h.1M456.5 209.7h.1M432.5 193.3h.1M437.9 209.6h.1M440.1 210.1h.1M447.9 203.5h.1M459.2 215.7h.1M465.2 211.8h.1M445.5 203.4h.1M464.5 216.9h.1M456.1 178.9h.1M459.6 179.2h.1M456 198h.1M459.5 185.3h.1M462.2 217.8h.1M458.5 206.4h.1M454.3 196.1h.1M459.5 205.8h.1M458.7 182.9h.1M439.7 189.6h.1M442.9 186.6h.1M441.5 207h.1M434.8 190.2h.1M459.2 213.9h.1M451.8 203.9h.1M436.1 190.1h.1M454.9 179.5h.1M443 187.1h.1M457.6 179.8h.1M456.7 187.5h.1M451.4 179.7h.1M453.7 208.7h.1M459.8 207h.1M460.5 205.9h.1M436.8 208.8h.1M437.6 209.2h.1M457.3 201.3h.1M434.8 207.9h.1M452.3 180.1h.1M454.2 207.8h.1M465.5 215.7h.1M441.9 186.5h.1M447.2 182.5h.1M447.2 182.1h.1M420.7 171h.1M424.1 176.7h.1M424.7 171.5h.1M422.9 170.5h.1M431.8 174h.1M423.1 172.4h.1M425.6 171.5h.1M425.4 175.7h.1M426.5 175.5h.1M426.8 170.5h.1M424.9 170.3h.1M430.4 171.5h.1M428.8 172.3h.1M432.5 176.7h.1M423.9 173h.1M430.2 176h.1M426 172.1h.1M424.1 170.7h.1M429.4 173h.1M423.8 173.4h.1M430.1 173h.1M404.1 90.4h.1M405.8 91h.1M403.2 87.7h.1M402 88.3h.1M403.2 90.3h.1M403.1 91.1h.1M400.4 87.8h.1M401.8 89.2h.1M405 90.4h.1M401 88.9h.1M413.7 146.8h.1M417.7 122.8h.1M416.5 142.3h.1M414.2 158h.1M399.6 159.8h.1M407.9 158h.1M417.2 152.4h.1M422.5 138.7h.1M408.7 147.5h.1M414.5 131.2h.1M410.9 159.6h.1M401.9 161.5h.1M402.1 163.9h.1M418.6 132h.1M417.1 142.1h.1M417.4 152.3h.1M423.6 141.3h.1M413 134.9h.1M414.5 157.6h.1M413.4 130.6h.1M415.1 146.8h.1M403.1 161.2h.1M415.5 152.6h.1M414.5 150.9h.1M410.3 144.8h.1M411.1 157.7h.1M413.5 149.5h.1M409.8 146.7h.1M409.3 145.2h.1M411 133.5h.1M406.6 150.9h.1M421.5 140.4h.1M410 126.6h.1M410.2 143.1h.1M413.2 122.5h.1M414.4 149.6h.1M416.5 151.9h.1M414 123h.1M410.4 142.8h.1M409.3 161.8h.1M424 133.8h.1M415.1 143.4h.1M414.6 150.9h.1M418.9 123.8h.1M405.6 154.1h.1M414.2 157.3h.1M410.2 141.7h.1M398.2 162.9h.1M422.2 133.4h.1M412.2 159.8h.1M411.8 132.9h.1M418.2 144.1h.1M421.9 139.1h.1M417.6 156h.1M410 160.2h.1M408.4 143.4h.1M422.7 142h.1M411.1 149.6h.1M415.5 135.7h.1M410.8 129.4h.1M421.2 146.5h.1M420 146.8h.1M411.1 155.6h.1M421 141.5h.1M424.6 134.3h.1M415.5 122.6h.1M411.1 137.3h.1M416.9 153.2h.1M416.9 139.6h.1M404.4 154.7h.1M410.6 141.5h.1M423.2 138.9h.1M414.2 145.7h.1M415.8 135.1h.1M416.5 130.2h.1M412.7 149.6h.1M414.2 152.2h.1M417.2 135h.1M409.7 144.9h.1M413.5 146.7h.1M410.2 139.1h.1M418.6 146.4h.1M410.9 153.1h.1M413.2 126.1h.1M419.4 152.9h.1M416.6 132.5h.1M419 146.3h.1M416.7 139.4h.1M413.2 142h.1M415.9 137.6h.1M415.1 141.7h.1M406.4 153h.1M411.9 157.9h.1M419.5 143.7h.1M415.6 148.6h.1M415.9 123.5h.1M401.5 162.1h.1M402.7 159.7h.1M421.9 147h.1M414.7 122.7h.1M415.1 134.2h.1M418.3 145.4h.1M420.2 125.4h.1M421.9 146.7h.1M417.6 151.7h.1M406.7 161.5h.1M416.4 137.6h.1M412.1 139.1h.1M422 132.2h.1M407.5 157h.1M415.6 143.7h.1M411.4 131.4h.1M422.9 130.3h.1M420.9 140.8h.1M418.2 136.2h.1M414.7 149.7h.1M417.7 140.7h.1M411.9 147.3h.1M419.7 145.2h.1M414.3 125.8h.1M416.7 132.5h.1M407.1 160.7h.1M414.4 124.7h.1M418.6 131.2h.1M410.1 138.7h.1M410.8 127.7h.1M415.4 158.1h.1M411.8 128.2h.1M419.8 148.9h.1M414.1 145.2h.1M408.4 147.7h.1M411.6 144.9h.1M404.1 161.4h.1M402.1 162.5h.1M417.5 137.5h.1M416.9 137.9h.1M421.8 149.9h.1M417.4 127.9h.1M416 139.1h.1M411.3 124.7h.1M415.4 139.4h.1M417.9 154.3h.1M410.1 138h.1M418.6 125.9h.1M406.6 159.4h.1M413.6 137.3h.1M420.8 147.9h.1M419.2 138.4h.1M413.2 130.2h.1M411 132.8h.1M415.9 131.7h.1M406.7 155.2h.1M410.7 126.8h.1M414.5 133.2h.1M415.4 132.2h.1M420.6 138.5h.1M416.1 153.7h.1M407.4 162.5h.1M420.9 128.2h.1M405.8 152.5h.1M411 136.4h.1M418.5 142.1h.1M417.4 156.6h.1M415.9 133.9h.1M401.6 160.9h.1M422.6 145.1h.1M420.7 145h.1M418.2 146.7h.1M422.9 143.7h.1M410.1 140.1h.1M410.9 159.6h.1M417 152.4h.1M423.4 130h.1M416.3 136h.1M415.1 154.2h.1M412.8 150.3h.1M414.5 135.3h.1M417.3 144.9h.1M417.8 133.2h.1M411.7 135.7h.1M416.7 157.8h.1M423.2 134.6h.1M420.2 134.8h.1M413.7 129.3h.1M410.8 147.4h.1M410.7 156h.1M415.5 132.8h.1M406.5 162.5h.1M409.1 151.1h.1M412.7 132.2h.1M416.2 135.6h.1M410.5 142.1h.1M409.9 153.3h.1M400.9 160.6h.1M413.8 151.4h.1M410.8 144.7h.1M414.4 140.8h.1M416.8 151.5h.1M414.8 129.8h.1M411.8 128.8h.1M416.8 157.3h.1M413.7 154.5h.1M419.6 152.3h.1M417 133.7h.1M416.3 148.6h.1M410.6 159.6h.1M424.2 135.3h.1M408.4 156.4h.1M409.6 143.8h.1M400.6 160.5h.1M405.9 159.5h.1M416.2 145.7h.1M419.4 137.6h.1M416 139.3h.1M415 153h.1M421.1 142.9h.1M423.9 138.6h.1M399.4 160.2h.1M399.4 163.7h.1M418.1 123.7h.1M421.4 144.4h.1M405.1 160.2h.1M410.2 131.1h.1M411.3 151.6h.1M412.5 131.2h.1M407.9 156.5h.1M411.8 135.2h.1M416.4 156.8h.1M414.6 156.2h.1M401.2 161.5h.1M402.4 157.1h.1M421 134.9h.1M412.4 155.9h.1M421.4 131.5h.1M409.3 160h.1M415.2 156.2h.1M419.9 131h.1M420.6 130.4h.1M405.4 158.1h.1M401.2 162.3h.1M423.1 140.7h.1M414.8 134.8h.1M416.3 135.4h.1M413.2 122h.1M412.2 141.7h.1M412.5 151.7h.1M416.7 128.8h.1M402.4 158.9h.1M397.7 161.1h.1M419.6 133.4h.1M418.4 154h.1M422.8 133.6h.1M419.3 139.4h.1M419.8 128h.1M417.7 144.1h.1M411.2 159.3h.1M412.1 141.9h.1M423.3 134.1h.1M407 153.5h.1M412.6 138.5h.1M417.8 148.6h.1M405.2 154.9h.1M407.2 152.7h.1M418.2 144.7h.1M418.8 125.6h.1M412.8 128.9h.1M420.1 146.7h.1M415.5 151.3h.1M413.8 133h.1M423.5 138h.1M421.5 130.6h.1M409.4 146.4h.1M411.7 137.5h.1M424.4 140.6h.1M422.3 140.7h.1M413.1 147.3h.1M417.5 150.9h.1M416.2 155.3h.1M414.2 134.1h.1M417.3 122.9h.1M424 134.5h.1M415.4 141.7h.1M411.2 129h.1M414.7 148.4h.1M416.6 147.9h.1M415.1 139h.1M407.8 151.7h.1M410 146.4h.1M418.1 137.1h.1M411.2 133.1h.1M421.9 126.5h.1M408.7 148.2h.1M422 127.1h.1M410.2 155.1h.1M412.6 145.9h.1M418.8 123.7h.1M415.7 148h.1M411.9 156.6h.1M423.8 135.9h.1M411.3 131.5h.1M421.3 124.8h.1M411.9 145.7h.1M416.7 128.2h.1M419.7 146.4h.1M403.5 163.5h.1M420.7 134.9h.1M422.7 132.3h.1M406.1 152.9h.1M419.7 141.9h.1M415.2 137.4h.1M411.6 149.2h.1M424.2 131.2h.1M412.7 146.5h.1M407.1 147.2h.1M417 136.7h.1M422.7 144.9h.1M421.3 149.8h.1M414.3 122.2h.1M409.9 138.7h.1M415 136.3h.1M415.2 153.2h.1M413.1 146.9h.1M421.7 146.3h.1M404.7 158h.1M410.9 137.7h.1M416.4 130.9h.1M414 129.9h.1M410.1 158.5h.1M404 157.1h.1M411.4 130.7h.1M418.9 130.6h.1M421.2 148.8h.1M410.9 126.8h.1M414.5 152.8h.1M421.9 141.4h.1M416.3 123.1h.1M411.6 130h.1M415.4 126.3h.1M422.1 139.9h.1M415.8 140.9h.1M414.5 150.2h.1M421.2 148.3h.1M412.2 158.1h.1M402.2 160.1h.1M420.1 126.6h.1M417.5 144.6h.1M419.7 144.6h.1M415.9 122.1h.1M416 148.7h.1M417.8 123.1h.1M414.7 122h.1M419.2 148.2h.1M412.8 144.4h.1M410.1 150.4h.1M415.2 124.7h.1M411.6 132.6h.1M409.1 154.3h.1M411.7 147.7h.1M419.8 135.6h.1M422.4 139.4h.1M414.5 157.6h.1M414.4 137.3h.1M410.1 158.5h.1M414.3 148h.1M418.1 147.5h.1M411.6 160.1h.1M422.4 140.7h.1M420.1 125.6h.1M410.7 138.7h.1M409.6 151h.1M418 125.7h.1M402.1 158.5h.1M412.2 124.2h.1M414.1 132.1h.1M418.7 132.7h.1M412.1 136.6h.1M410.8 132.2h.1M409.4 140.8h.1M417.5 132h.1M422.4 142.5h.1M417.8 148.4h.1M403.5 158.8h.1M414.4 136.5h.1M413.5 142.5h.1M417.8 126.6h.1M398.7 163.5h.1M411.5 161.1h.1M411.2 130.1h.1M418.2 134.3h.1M414 123.8h.1M415.2 124.9h.1M413 152.5h.1M416.7 150.6h.1M421.1 142.6h.1M420.6 138.6h.1M417.2 128.9h.1M419.1 154.7h.1M409.5 152h.1M418.9 145.9h.1M416.8 125.1h.1M417.2 126.3h.1M415 147.5h.1M406.5 157.8h.1M410.6 137.8h.1M411.2 155.7h.1M411.1 154.8h.1M411.2 160.5h.1M417 141.8h.1M413.7 153.2h.1M416.3 131.8h.1M421.2 142.2h.1M416.2 150.7h.1M399.7 159.1h.1M416.9 132.5h.1M420.5 147h.1M418 148.8h.1M412.6 125.5h.1M411.1 125h.1M418.5 121.6h.1M414.2 156h.1M432.5 175.8h.1M431.7 172.9h.1M426.8 170.5h.1M424.9 160.8h.1M422.4 153.3h.1M427.1 159.1h.1M431.1 175.8h.1M429.9 164.5h.1M426.4 164h.1M429.1 165.2h.1M428.1 168.9h.1M429.8 167.3h.1M432.9 177.9h.1M422.7 156h.1M427.8 160.6h.1M434 169.8h.1M429.9 173.7h.1M430 166.1h.1M429.8 171.2h.1M426.9 157.5h.1M435.1 182.2h.1M425.2 156.5h.1M426.3 171.1h.1M427.4 173.3h.1M423 155.5h.1M433.6 178.1h.1M434.7 176.3h.1M431.2 171.2h.1M425.6 157.8h.1M432 173.4h.1M429.4 175h.1M429.1 166.5h.1M429.9 165.2h.1M431.8 175h.1M435.3 174.8h.1M427.6 160.2h.1M427 168.9h.1M425.5 159.1h.1M423.7 172.4h.1M431.4 177h.1M426.4 160.2h.1M427.3 174.8h.1M428 169.3h.1M427.2 161.7h.1M426.7 169.9h.1M426.9 164.1h.1M427 159.6h.1M426.4 168.8h.1M425.1 158.4h.1M432.8 175.4h.1M427.7 172.2h.1M424.5 160.2h.1M429.1 164.2h.1M426 173.2h.1M430.8 174.6h.1M425.9 160.2h.1M425.5 158.6h.1M431.7 174.6h.1M431.6 174.2h.1M423.6 154.9h.1M433 174.4h.1M432.5 166.6h.1M427.8 170.6h.1M431.6 166.8h.1M428.1 170.5h.1M429.4 165.3h.1M426.2 168.3h.1M427.9 173.5h.1M429.3 166.8h.1M425.2 160.7h.1M427.6 160.7h.1M431.7 170.8h.1M430.8 177h.1M427.6 164.2h.1M431.4 176h.1M425.6 170.1h.1M431.9 167.5h.1M428.1 160.5h.1M427.7 170.2h.1M432.9 179.2h.1M432.9 174.5h.1M429 172.9h.1M436 175.6h.1M431.9 177.1h.1M425 154.4h.1M428.1 159.7h.1M426.9 164.6h.1M431.5 168.7h.1M425.3 172.5h.1M425.5 163.1h.1M423.1 172.6h.1M427.4 159.8h.1M433.2 171.1h.1M436.6 181.1h.1M432.3 174.7h.1M428.4 174.1h.1M431.1 173.2h.1M430.9 165.6h.1M429.8 163.1h.1M428.4 170.7h.1M426.6 173.2h.1M436.4 180.6h.1M427.5 161.4h.1M434.5 175.9h.1M430.1 166h.1M426.2 161.1h.1M426.6 167.6h.1M434.7 173.5h.1M427.7 159.6h.1M432.8 173.5h.1M423.7 171.8h.1M434 178.1h.1M424.1 170h.1M434.9 178.4h.1M423.1 158.7h.1M431.8 170.9h.1M430.5 175h.1M429.8 164.6h.1M429.3 173.2h.1M425.3 168.3h.1M423.6 158.3h.1M427.3 173.9h.1M433.8 171.8h.1M430.1 175.9h.1M433.8 176.8h.1M426.5 171.2h.1M431.1 166.9h.1M428.9 162.5h.1M427.8 160h.1M431.5 177.6h.1M352 182.6h.1M354.6 178.7h.1M357.6 188h.1M362.2 182.4h.1M347.7 171.3h.1M354.3 183.4h.1M353.7 172.3h.1M357.8 185.6h.1M344.2 175.4h.1M342.1 176.2h.1M357 188.2h.1M353.3 179.6h.1M353.8 184.3h.1M356.6 190.7h.1M360.6 194.1h.1M343.5 184.1h.1M345.9 177.3h.1M360.3 179.4h.1M355.8 184.9h.1M352.5 183.8h.1M354.7 181.2h.1M362.2 186.1h.1M348 178.9h.1M346.4 186.7h.1M346 175.1h.1M348.8 184.4h.1M356.3 189.4h.1M344 178.6h.1M361 184h.1M350.7 185.8h.1M357.4 187.6h.1M354.6 184.5h.1M344.1 174.7h.1M358 185.5h.1M349.6 177.2h.1M352.3 173.6h.1M347.5 184.4h.1M345.9 175.8h.1M350.8 182.9h.1M362.5 183.2h.1M361.6 188.1h.1M356.4 183h.1M348.7 188.5h.1M362.4 185.4h.1M356.9 172.1h.1M342.5 181.2h.1M359.1 179.3h.1M356.3 186.3h.1M344.1 173.5h.1M351.5 173.8h.1M351.9 184.9h.1M360 179.7h.1M357.3 188.5h.1M357.1 188.4h.1M360.9 189.5h.1M344.1 177.2h.1M344.7 180.9h.1M350.3 172.2h.1M351.4 185.7h.1M355.6 185.4h.1M351.6 184.2h.1M357.5 178.1h.1M344.2 182.8h.1M359.1 186.1h.1M362 191.1h.1M354.5 180.8h.1M357.1 177.8h.1M351.8 176.2h.1M354.8 182.3h.1M346.5 173.7h.1M355.1 182.6h.1M342.6 179.6h.1M359.8 192.4h.1M349.7 177.2h.1M359.4 181.8h.1M363.1 185.7h.1M343.2 175.8h.1M351.3 173.2h.1M361 184.1h.1M362.5 186.3h.1M352.6 182.2h.1M352.6 182.4h.1M357.1 188.6h.1M364.2 180.3h.1M353.7 182.2h.1M347.5 178.8h.1M345.8 174.5h.1M358.3 189.2h.1M345.2 186.6h.1M347.5 172.3h.1M350.7 173.6h.1M359.4 193.2h.1M360.4 188.4h.1M360 178.9h.1M352.1 180.8h.1M359.9 186.6h.1M353.2 171.4h.1M353.1 179.7h.1M344.2 182.9h.1M356.5 170.1h.1M358.6 186.3h.1M351.7 189.6h.1M363.3 180.7h.1M355.7 187.8h.1M350.7 181.1h.1M360.1 181.3h.1M355.3 186h.1M352.5 179.5h.1M349.7 175.8h.1M348.4 178h.1M357.6 185.7h.1M354 186.8h.1M344.3 174.4h.1M353 190h.1M346.3 185.4h.1M345.9 183.7h.1M354.9 181.6h.1M366.4 178.6h.1M349.5 171.5h.1M345 178.1h.1M345.4 180.9h.1M349.7 172.5h.1M345 181.3h.1M355.8 171.7h.1M355.9 176.8h.1M358.5 189.4h.1M349.8 181.6h.1M359.4 179.2h.1M345.6 178.5h.1M362.8 183.6h.1M360 182h.1M342.1 175.6h.1M344.3 183.5h.1M349.4 183.2h.1M349.7 173.9h.1M343.9 173.8h.1M350.5 180.3h.1M347.6 175.3h.1M348.6 174.4h.1M350 186.2h.1M346.3 181.7h.1M351.3 172.9h.1M348 173.7h.1M363.7 182h.1M354.1 183.5h.1M347.7 185.2h.1M358.2 190.2h.1M348.7 175.3h.1M344.8 178.3h.1M358.1 183.9h.1M365.7 181.3h.1M355.8 176.5h.1M362.7 188h.1M354.6 187.2h.1M362.2 181.1h.1M345.6 174.6h.1M348.4 173.9h.1M352.2 188.1h.1M352.1 173.4h.1M355.5 184.5h.1M350.9 173.4h.1M354.3 175.6h.1M357.5 190.1h.1M342.3 177h.1M358.2 182.4h.1M359.5 179.6h.1M350.2 180.3h.1M359.5 185.1h.1M350.5 172.6h.1M344.9 174.1h.1M350.5 172.1h.1M354.8 176.4h.1M348 178.8h.1M364.6 185.5h.1M349.6 178.9h.1M350.4 175.6h.1M361.1 185h.1M347.7 188h.1M357.7 185.8h.1M359 189.8h.1M343.2 181h.1M345 183.8h.1M360.6 179.6h.1M341.1 175h.1M343.2 176.8h.1M346.9 173.6h.1M350.8 172h.1M341.6 175.4h.1M361.7 187.3h.1M344 178.2h.1M355.8 177.5h.1M355 174.8h.1M356.4 180.5h.1M357.4 176.7h.1M341.2 181.5h.1M363.9 180.8h.1M349.7 172h.1M360.1 180.3h.1M345.1 174.6h.1M351.7 180.5h.1M363.6 183.4h.1M361 192.2h.1M345.5 179.3h.1M344.9 182.3h.1M348.4 183.2h.1M352.8 187.9h.1M356.6 178.2h.1M346.5 178.7h.1M356.2 172.5h.1M355.7 184.7h.1M350 181.2h.1M353.7 184.1h.1M357.4 190.4h.1M342.6 177.7h.1M355.2 181.7h.1M357.8 179.8h.1M352.7 183.3h.1M353.2 181.2h.1M352.3 174.3h.1M357.9 185.3h.1M362.3 186.5h.1M363.3 179.6h.1M346.2 179.7h.1M353.3 175.2h.1M352.2 183.6h.1M365.4 181.1h.1M363.7 184.5h.1M358.1 190.9h.1M343.7 180.7h.1M358.6 189.6h.1M354.5 174.2h.1M355.5 184.2h.1M362 186.1h.1M354.6 176h.1M366.1 181.2h.1M354.2 180.2h.1M351 182h.1M353.1 171.6h.1M355.2 171.8h.1M357.3 185.8h.1M357.6 183.2h.1M349.2 176.9h.1M344.5 181.3h.1M348.1 174.7h.1M363.5 184.2h.1M360 187.6h.1M356.9 184h.1M360.6 180.4h.1M345.5 184.9h.1M344.5 179.2h.1M344.5 177.8h.1M346.3 187.4h.1M352.7 182.8h.1M362.4 184.5h.1M355.4 184.4h.1M343.4 179.4h.1M345.4 180.7h.1M356.1 184.1h.1M352.5 175.7h.1M350.7 186.6h.1M363.6 186.2h.1M347.5 172.9h.1M356.4 181.7h.1M350.9 178.4h.1M356.6 177.4h.1M354.3 174.4h.1M348.8 178.8h.1M345.5 175.7h.1M352 184.6h.1M360.6 181.4h.1M351.5 184.2h.1M345.2 186.9h.1M342.9 176.2h.1M342.6 182.5h.1M364.3 182.5h.1M350.2 188.8h.1M350.9 179.6h.1M355.6 172.6h.1M354.7 180.9h.1M343.4 175.9h.1M349.4 187.2h.1M362 187.8h.1M362.7 186.6h.1M367.2 178.1h.1M352.4 173.7h.1M354 173.4h.1M364.2 183.5h.1M361.7 181.3h.1M347.8 186.7h.1M363.7 185.6h.1M349.3 189.7h.1M354.3 183.6h.1M348.5 174h.1M348.4 171.6h.1M352.7 178.7h.1M343.1 173.8h.1M342.4 182.6h.1M361.8 184.3h.1M348.6 188.1h.1M357.6 191.1h.1M358.7 185.2h.1M342.5 180.4h.1M344.8 174.5h.1M360.3 189.2h.1M349.3 173.3h.1M347.8 176.7h.1M366.2 181.6h.1M355.6 189.1h.1M352.1 172.2h.1M360.8 187.6h.1M351.5 172.3h.1M364.4 181.2h.1M354.5 172.8h.1M347 180.7h.1M346.8 172.8h.1M354.4 172.8h.1M349.5 188.8h.1M355.6 186.6h.1M359.8 187.5h.1M351.6 183.1h.1M342.9 181h.1M353 179h.1M347.3 184.5h.1M361.1 181.3h.1M347.2 181h.1M352.7 188.9h.1M356.5 170.8h.1M352.3 187.2h.1M350.9 179.7h.1M363.8 181.9h.1M356.5 189.4h.1M361.5 179.4h.1M356 190.1h.1M342.7 182.7h.1M348.7 174.8h.1M343.5 177.3h.1M352.5 178.8h.1M359.9 190h.1M356.5 182.1h.1M361.3 184.1h.1M351.9 176.9h.1M359.3 188.3h.1M342.3 177.3h.1M345.7 175.6h.1M347.6 183.9h.1M351 174.5h.1M355.9 178.3h.1M348.6 185.1h.1M345.6 179.5h.1M350 172.1h.1M354.6 190.4h.1M347 183.2h.1M362.4 182h.1M353.6 178.8h.1M349.4 182.1h.1M348.5 180.6h.1M349.8 179.3h.1M350.8 178.3h.1M344.6 180.8h.1M345.9 176.3h.1M352.3 182.1h.1M355.7 179.5h.1M348.1 185.3h.1M347.4 176h.1M345.1 186.4h.1M358.6 190.4h.1M360.2 187.2h.1M360.8 187.8h.1M351.3 173.8h.1M344.1 173.3h.1M358.5 179.9h.1M349.5 188.9h.1M346.3 182.4h.1M354.5 174.8h.1M352 182.9h.1M356.8 183.3h.1M343.8 176.1h.1M341.9 183.2h.1M352.5 189.5h.1M350.3 174h.1M363.9 183.2h.1M363.4 181.9h.1M349.9 171.5h.1M343.2 178.5h.1M355.8 170.8h.1M363.2 180.9h.1M357.3 182.2h.1M361.3 183.2h.1M353.4 189h.1M353.7 184.3h.1M345.1 181.2h.1M364.2 180.2h.1M356.6 184.1h.1M351.6 183.7h.1M343.4 176h.1M349.6 188.2h.1M355.4 189.5h.1M345.9 184.7h.1M353.8 179.9h.1M344.9 182.5h.1M349.2 175.1h.1M360 188.4h.1M362.5 184.6h.1M360.2 182.8h.1M352.3 187h.1M358.7 186.9h.1M352.2 174.3h.1M346.8 171.5h.1M356.4 169.2h.1M357.2 180.9h.1M361.8 186.4h.1M344.7 174h.1M359.2 192.7h.1M351.8 177.8h.1M359.5 181.3h.1M354.4 175.8h.1M344.4 183.6h.1M358.1 188.4h.1M343.2 182.7h.1M355.4 182.5h.1M469.5 192.8h.1M469.7 198.4h.1M466.8 195.6h.1M478.1 196.1h.1M468.1 195.9h.1M477.3 195.9h.1M473.6 194.2h.1M469.7 192.9h.1M472 199.1h.1M470.8 196.8h.1M466.8 194.3h.1M473.2 197h.1M473.9 198.6h.1M473.1 197.4h.1M477.4 195.6h.1M474.9 196.8h.1M473.5 195.6h.1M474 197.9h.1M474 194.5h.1M476.2 195.6h.1M473.7 197.3h.1M469.9 198.9h.1M469.6 198.9h.1M478.2 196.8h.1M469.2 196.5h.1M473.4 197.6h.1M473.2 193.6h.1M477.8 196.5h.1M475.8 195.7h.1M475.5 197.9h.1M474.1 198.4h.1M470.3 197.5h.1M478.9 196.4h.1M474.9 198.6h.1M476.1 196.5h.1M467.6 197.3h.1M473.5 194.2h.1M474.7 198.7h.1M466.4 197.4h.1M470.7 195.9h.1M469.2 198.2h.1M479.3 196.5h.1M476.2 198.4h.1M474.7 199.6h.1M469.3 197h.1M477.2 196h.1M473.6 193.8h.1M475 197.9h.1M476.2 194.9h.1M472.1 194.9h.1M479.4 194.4h.1M479.5 197h.1M474.4 197.5h.1M473.5 197h.1M473.6 196.5h.1M471.8 194.4h.1M468.9 194.7h.1M468.8 194.6h.1M475.3 194.7h.1M468 195.1h.1M477 196.2h.1M471.8 199.4h.1M474.1 196.8h.1M468.2 194.1h.1M471.3 198.5h.1M473.9 199.8h.1M472.3 193.6h.1M477.7 198.8h.1M466.6 194.4h.1M470.2 197.9h.1M472.7 194.2h.1M470.4 194.1h.1M477.6 199h.1M466.9 197.9h.1M475 198.8h.1M469 194.7h.1M474.3 197.6h.1M477.9 197.4h.1M466.3 197.1h.1M473.1 194.9h.1M470.5 197.4h.1M476 197.2h.1M470.4 195.1h.1M473.8 198.6h.1M474.3 198.1h.1M472.1 197.8h.1M474.6 193.8h.1M474.5 198.6h.1M475.2 199h.1M472.1 194.7h.1M471.7 197.3h.1M473.7 194.1h.1M467.5 195.7h.1M477.4 194.5h.1M478.7 198.1h.1M475.7 198.2h.1M470.9 193.6h.1M472.9 198h.1M475.7 194.8h.1M473 195.9h.1M477.1 198.4h.1M469.3 195.4h.1M476 194.1h.1M476.9 194.7h.1M468 195.4h.1M477.3 196.7h.1M468.1 195.2h.1M475.2 192.7h.1M470.6 192.9h.1M479.3 194.9h.1M453.7 217.3h.1M452.6 217.4h.1M454.4 221.6h.1M453.6 217.4h.1M451.6 223.6h.1M456.1 212.7h.1M456.1 214.4h.1M451.7 212h.1M454.6 214.6h.1M454.6 213.2h.1M459.6 219.4h.1M451 214h.1M454.2 215.2h.1M451.7 218.2h.1M452.9 221h.1M451.9 220.7h.1M456.4 214.4h.1M454 212.8h.1M454.5 214.5h.1M453.1 215.5h.1M451.7 224.9h.1M454.4 214.3h.1M454.2 215.6h.1M451.1 212.1h.1M453.3 214.4h.1M453 215.3h.1M451.7 223.8h.1M452.5 224.5h.1M454.8 214.5h.1M451 221.3h.1M452.6 221h.1M457.8 217.9h.1M455.2 212h.1M457.9 219.9h.1M453.6 222.2h.1M452.7 224.4h.1M452.1 215.9h.1M455 219.9h.1M452.8 219.8h.1M455 211.5h.1M451 213.5h.1M453.4 212.3h.1M452.1 224.1h.1M455.4 214.6h.1M459 219.1h.1M450.6 212.5h.1M452.4 214h.1M453.4 216.1h.1M457.1 214.9h.1M452.3 222h.1M454.8 215.8h.1M454.1 211.5h.1M456.2 214.9h.1M452.8 224.4h.1M455.6 216.5h.1M452.6 210.3h.1M453.1 220.7h.1M450.9 213.3h.1M458.8 218.7h.1M452.4 216.2h.1M453.6 212.7h.1M456.5 219.6h.1M455 213.1h.1M455.2 220.4h.1M456.1 222.8h.1M451.7 222.1h.1M451 221.8h.1M456.7 219.7h.1M459.7 220h.1M454.1 214h.1M454.1 214.5h.1M451.6 222.8h.1M453.7 213.7h.1M452.1 215.9h.1M454.6 217.2h.1M451.5 220.9h.1M450.5 211.4h.1M455.8 219.9h.1M452.8 214.9h.1M456 217.6h.1M452.9 223.8h.1M455.1 222h.1M450.4 223.2h.1M452.5 213.8h.1M453.3 219.7h.1M457.6 221h.1M452.7 216.6h.1M453 214.8h.1M451.9 216.9h.1M451.5 215.2h.1M453.2 221h.1M455.1 220.1h.1M450.8 212.2h.1M451.7 221.8h.1M455.6 213.8h.1M454.6 214h.1M452.1 214.2h.1M452.9 213.7h.1M458.3 219.7h.1M454.8 221.2h.1M451.4 221.7h.1M451.9 217.4h.1M458.4 220.1h.1M451.1 216.5h.1M454.2 213.2h.1M454 217.2h.1M451.1 211.6h.1M457.7 219.2h.1M450.9 212h.1M458.3 220.1h.1M427.6 233.9h.1M424.4 235.5h.1M426.9 232.3h.1M428 228.4h.1M425.9 232.9h.1M425.8 231.6h.1M427.5 229.4h.1M425.8 231.8h.1M428.6 228.9h.1M428.2 229.2h.1M427.7 229.8h.1M425.7 232.6h.1M425.1 235.3h.1M428.6 230.9h.1M426.4 231.3h.1M429.2 227.6h.1M429.1 226.5h.1M426.8 231.9h.1M427.5 232.7h.1M427 235.7h.1M427.6 232.9h.1M427.2 229.1h.1M427.6 228.1h.1M426.5 232h.1M426.5 233.1h.1M428.1 228.4h.1M425.8 230.3h.1M428.4 229.8h.1M424.6 234.8h.1M427.6 233h.1M427.9 229h.1M425.4 234.5h.1M428.4 227.2h.1M425.9 234h.1M426.9 235.1h.1M425.9 230.1h.1M427.1 231.2h.1M426.5 232.6h.1M425.9 231.7h.1M426.3 232.9h.1M386.3 160h.1M383 173h.1M381.1 173.7h.1M386.3 168.6h.1M387 180.7h.1M386.7 171.3h.1M375.7 155.5h.1M390.6 176.2h.1M383.9 162.6h.1M390.1 156h.1M381.5 181.9h.1M388.3 162.4h.1M387.1 164h.1M388 155.5h.1M382 176.1h.1M378.7 151.1h.1M377.1 156h.1M382.3 170.1h.1M391.2 180.7h.1M376.2 185.5h.1M395.7 169.9h.1M373.8 168.2h.1M383.6 153.6h.1M390.4 155.3h.1M379.2 186.6h.1M374.6 162.5h.1M394.2 171.5h.1M377.6 175.8h.1M377.7 170.6h.1M377 179.5h.1M386.5 173.6h.1M379.9 159.2h.1M375.2 166h.1M392.2 172.3h.1M371.9 178.9h.1M368.8 182.6h.1M382.1 183.2h.1M396.8 172.3h.1M387.3 164.5h.1M390.5 166.2h.1M381.3 151h.1M367.1 177h.1M367.5 179.2h.1M391.1 184.7h.1M395.7 169.8h.1M382.7 174.3h.1M383.1 172.6h.1M385.6 160.6h.1M383.4 165.8h.1M376.7 173.6h.1M396.6 175.4h.1M375.4 183h.1M381.7 188.3h.1M373 170.1h.1M395 181.7h.1M373.6 162.8h.1M385.3 173.7h.1M397.7 172.8h.1M385 177.4h.1M375 184.8h.1M374.9 156.9h.1M375.2 151.6h.1M375.8 174.7h.1M393.9 179.1h.1M391.2 162.1h.1M377 158.3h.1M390 158h.1M392.3 164.8h.1M378.4 168.1h.1M378 149.8h.1M388.8 165.6h.1M378.4 165.9h.1M390.2 173.7h.1M374 157.5h.1M379.5 176.4h.1M373.3 164.6h.1M378.3 186.6h.1M377.7 161.5h.1M378.5 156.7h.1M394.7 165.7h.1M370.2 167.7h.1M395.3 184.1h.1M371.2 163.3h.1M379 177.6h.1M385.8 179.7h.1M389 171.6h.1M384.6 184.7h.1M397.3 177.2h.1M379.4 149.8h.1M395.4 185.4h.1M380.9 173.7h.1M384.7 182.4h.1M372.9 176.8h.1M379 187.5h.1M385.5 166.1h.1M374.8 156.5h.1M387.1 163.8h.1M384.8 183.3h.1M374.5 162h.1M381.9 172.9h.1M374.9 164.7h.1M383.4 162.9h.1M395.8 183.4h.1M382.6 173.8h.1M385.2 159.4h.1M372 158.9h.1M369.9 166h.1M378.9 173.8h.1M384.3 175.2h.1M373.7 163.3h.1M391.2 167.5h.1M374 178.7h.1M394.1 178.7h.1M382.9 159.9h.1M372.6 172.7h.1M376.6 180h.1M375 157.6h.1M382.7 174.9h.1M372.9 159.1h.1M384.7 182.9h.1M382.9 176.5h.1M381 171h.1M369.5 177.3h.1M379.7 154.9h.1M389.4 163.2h.1M369.2 165.5h.1M377.9 152.6h.1M376 169.4h.1M379.1 159.7h.1M390.5 173.8h.1M369.9 174.5h.1M371.5 170.6h.1M375.4 171.1h.1M392.2 165.7h.1M373.9 182.7h.1M384.8 183.5h.1M390.2 182.8h.1M389 158.2h.1M385.8 177.8h.1M387.3 159.2h.1M379.2 184h.1M381.3 168.7h.1M384 154.2h.1M368.7 166.2h.1M384 177.7h.1M374.9 160.3h.1M379.4 173.6h.1M396.8 172.9h.1M378.9 160.3h.1M381.7 152.1h.1M373.7 186.2h.1M392.3 169.5h.1M380.7 179.2h.1M392.6 174.4h.1M377.6 182.6h.1M387 174.6h.1M383.1 164.4h.1M376.5 159.9h.1M373.1 150.7h.1M383.9 152.2h.1M387.8 165.6h.1M390.9 160h.1M388 164.4h.1M390 158.5h.1M389.5 163.2h.1M388.9 161.6h.1M390.3 160.6h.1M390.8 160h.1M388.1 163.5h.1M386.8 166.5h.1M387.2 166.5h.1M388.7 163.2h.1M390.3 158.8h.1M387.3 164.7h.1M389 165.1h.1M386.7 165.4h.1M389.2 162.1h.1M390.4 161.7h.1M389.2 160.6h.1M388.5 162.6h.1M390.4 159.3h.1M388.6 161.9h.1M387.9 163h.1M387.2 165.6h.1M389.5 161h.1M389.6 162.5h.1M389.8 161.8h.1M387.9 163.2h.1M386.9 167.6h.1M389.8 160.7h.1M385.2 182h.1M388.9 183h.1M386.6 182.6h.1M388.6 181.5h.1M390.6 183.6h.1M386 182.9h.1M388.9 182.3h.1M388.1 182.9h.1M388.6 183.3h.1M386.5 181.3h.1M387.8 182.3h.1M385.4 182.1h.1M390.4 182.8h.1M388.6 182.9h.1M384.7 182.8h.1M384.9 183h.1M388.9 182.3h.1M389.5 182.9h.1M389.2 184h.1M387.8 183h.1M385.4 183.4h.1M386.4 182.6h.1M383.9 181.3h.1M390.3 182.2h.1M391 182.5h.1M411.7 179.6h.1M413.1 180.2h.1M411.9 179.6h.1M410.4 180.5h.1M412.4 180.5h.1M411.7 179.4h.1M413.7 180.1h.1M411.3 180h.1M412.5 180.8h.1M413.4 179.6h.1M411.8 179.8h.1M411 179.8h.1M431 132.1h.1M431.8 132.1h.1M431.5 132.6h.1M430.2 133.1h.1M430.9 132.7h.1M430.3 132.7h.1M430.1 131.7h.1M429.9 133.2h.1" stroke="#ee7b72" stroke-width="1" stroke-linecap="round" fill="none"/>
<path d="M393.4 214.6h.1M396.6 231.7h.1M395.2 220.9h.1M394 219.1h.1M397 223.1h.1M391.8 223.7h.1M405.8 230.7h.1M397.6 232.1h.1M394 210.9h.1M395 226h.1M405.7 223.6h.1M392.3 213.5h.1M401 221.9h.1M394.6 213.8h.1M393.7 226.6h.1M398 213.5h.1M395 218.9h.1M403.2 213.1h.1M401.7 220.1h.1M396.5 218h.1M401.2 223.9h.1M404.7 218.7h.1M401.1 213.6h.1M397.2 217.6h.1M391.6 228.1h.1M403.8 224.4h.1M397.4 221.7h.1M402.4 229.5h.1M403.3 210.3h.1M403.3 215.8h.1M399.5 228.8h.1M401.6 210.7h.1M403.1 223.2h.1M396.1 213.2h.1M396.1 220.1h.1M395.1 210h.1M394.3 225.7h.1M404.8 218.4h.1M393.5 212.5h.1M402.8 214.1h.1M401.4 211.1h.1M400.5 219.9h.1M390.8 222.1h.1M394.9 225.8h.1M397.1 216.3h.1M395.9 212.4h.1M391.1 226.8h.1M404.1 216h.1M398.9 224.3h.1M397.5 225h.1M404.4 222.6h.1M405.6 222.8h.1M394 213.7h.1M391 212.1h.1M392.6 223.6h.1M399.7 225.7h.1M398.5 220.6h.1M393.4 225.4h.1M394.8 219.7h.1M404 231.1h.1M395.5 219.1h.1M404.3 217.6h.1M397.2 226.6h.1M395.7 219.6h.1M402.8 226h.1M397.6 217.1h.1M404 225.5h.1M395 222.9h.1M404.2 220.6h.1M390.4 221.7h.1M397.8 224.5h.1M399.3 224.2h.1M404.2 220.3h.1M391.5 216.6h.1M398.8 210.7h.1M402.9 230.8h.1M392.7 211.9h.1M391.1 219.7h.1M393 227h.1M399.5 225.1h.1M398.8 227.9h.1M402.1 227.8h.1M399.8 214.3h.1M403.4 227.4h.1M397.5 208.6h.1M403.3 215.2h.1M396.1 212.4h.1M392.7 218.6h.1M395.9 210.6h.1M398.8 210.9h.1M402.9 215.7h.1M392.1 215.4h.1M401.9 226.6h.1M398.8 229.5h.1M391.7 221.4h.1M397.9 208.6h.1M397.2 211.6h.1M406.4 230.6h.1M401.4 211.3h.1M400.4 227.3h.1M403.1 211.5h.1M403.5 219.3h.1M394.2 226.5h.1M396.3 222.4h.1M392 225.3h.1M403.7 214.2h.1M401.8 224.5h.1M403.6 227.5h.1M399.4 227.8h.1M398.9 230h.1M401.6 220.3h.1M404.4 216.7h.1M396.9 222.2h.1M390.5 213.9h.1M396.4 213.5h.1M399.6 223.7h.1M400.5 207.8h.1M394.5 221h.1M399.3 210.6h.1M395 218.7h.1M392.2 214.6h.1M403.5 212h.1M404 221.2h.1M397.6 225.7h.1M406.1 229.2h.1M397.8 222.3h.1M402.2 226.5h.1M403.2 221.7h.1M390.5 216.4h.1M397.6 209h.1M398.4 210.4h.1M396.9 221.2h.1M400.5 219.5h.1M389.6 221.4h.1M400.9 208.3h.1M397.6 218.8h.1M392.1 215.4h.1M399.7 230.3h.1M394.7 230.3h.1M397.2 225.1h.1M399.1 220.1h.1M394.3 212.5h.1M397 229.7h.1M397.1 213.6h.1M397.8 221.6h.1M390.6 219.8h.1M394 222.9h.1M401.3 229.5h.1M393 223.7h.1M399.8 213.2h.1M384.7 203.4h.1M397.5 219.5h.1M390.9 193.5h.1M380 209.3h.1M402.1 208.7h.1M386.5 198.7h.1M398.9 207.5h.1M389 212.5h.1M385.2 215.2h.1M396.3 195.7h.1M396.2 199.8h.1M392.6 219.2h.1M377.1 204.4h.1M389.8 196.2h.1M398.5 207.9h.1M393.8 206.3h.1M385.8 196.8h.1M391.7 220h.1M385.4 226.4h.1M392 209.2h.1M386.8 219.6h.1M393.3 210.8h.1M384.8 220.6h.1M380 218.9h.1M375.3 200.2h.1M385 212.1h.1M388.4 213.6h.1M375.6 204.2h.1M390.8 225.4h.1M384 223h.1M382 196.8h.1M389.9 207.2h.1M382.4 206.9h.1M389.1 192.3h.1M393.9 192.3h.1M381.8 220.5h.1M397.3 199.4h.1M387.1 196.5h.1M398.1 201h.1M374.8 215.6h.1M388.9 199.8h.1M389.4 208.3h.1M388.1 193h.1M377.3 203.5h.1M391.1 198.3h.1M375.6 204.8h.1M377.6 201.4h.1M392.2 218.8h.1M380.5 196.2h.1M387.9 227.1h.1M391.9 227h.1M392 193.4h.1M384.1 209.4h.1M379.3 206.7h.1M383.4 194.4h.1M381.6 206.2h.1M387.2 203.5h.1M377.4 218.8h.1M392.8 224.2h.1M393.3 193.2h.1M383.5 222.1h.1M379.9 218.9h.1M381.4 218.3h.1M392.6 206.4h.1M385.4 216.3h.1M397.5 212.7h.1M393.5 214.4h.1M386.7 212.7h.1M398.1 202.9h.1M386.6 228h.1M376.8 216.6h.1M379.3 204.8h.1M386.2 200.1h.1M392 195.4h.1M390.6 199.3h.1M394.1 199.4h.1M384.9 227.4h.1M397.3 204.6h.1M394.1 208.5h.1M393.1 226.7h.1M375.7 201.6h.1M381.8 207.6h.1M382.5 224.4h.1M383.1 215.7h.1M386 207.8h.1M382 206.5h.1M383.4 217.8h.1M393 222.8h.1M394.6 204.6h.1M400.9 213.3h.1M390.4 203.5h.1M387.2 223.1h.1M383.5 224.2h.1M382.3 193.4h.1M375.4 202.1h.1M389.5 195.1h.1M380.8 211.9h.1M396.3 194.9h.1M397.9 218.4h.1M403.4 209.9h.1M388.2 220.7h.1M390.1 193h.1M392.3 202.8h.1M377.4 204.1h.1M390.4 201.2h.1M383.8 208.9h.1M386.6 195.8h.1M375.2 207h.1M374.6 219.7h.1M396.9 215.7h.1M437.6 195.7h.1M454 188h.1M441.2 196.3h.1M447.6 203.3h.1M440.8 195h.1M440.1 200.4h.1M447.3 197.8h.1M452.7 189.5h.1M454.6 184.2h.1M446.6 204.4h.1M444.3 192.3h.1M449.9 191.7h.1M450.1 186.7h.1M448.1 196.7h.1M440.4 192.5h.1M437.7 199.1h.1M445 189.3h.1M451.3 191h.1M436.8 195.4h.1M450.8 194.6h.1M444.9 198h.1M442.4 197.6h.1M453.8 189.1h.1M445.3 203.2h.1M449.2 183.8h.1M446.4 191.9h.1M452.4 187.6h.1M447.8 201.8h.1M449 199.3h.1M447.6 197.5h.1M444.4 202.5h.1M452.3 189.7h.1M451.2 195.1h.1M439.7 207.2h.1M449.9 191.1h.1M438 196.1h.1M444.7 197.3h.1M443.6 199h.1M454.1 185.6h.1M454.2 185.7h.1M445.5 187.4h.1M441.8 198.1h.1M449.8 183.2h.1M440.2 203.5h.1M453.1 188.4h.1M449.7 202.7h.1M450.7 197.4h.1M443 197.8h.1M450.6 200.9h.1M445.8 186.9h.1M447.8 200.4h.1M442.6 199.1h.1M445.2 199.2h.1M438.9 191.9h.1M438.1 192.1h.1M438.9 192.9h.1M451.9 187.1h.1M445.6 191.5h.1M442.4 203.7h.1M444.9 203.6h.1M445.7 196.5h.1M444.1 202.6h.1M440.6 191h.1M450.4 196.2h.1M446.8 195.3h.1M446.9 187.9h.1M450.7 188h.1M440.7 204.5h.1M450.7 192.2h.1M451.8 187.7h.1M445.9 186.2h.1M442 197.8h.1M438.5 199.9h.1M446.1 197.5h.1M445.3 195.3h.1M445.6 189.1h.1M441.7 201.1h.1M443.8 191.7h.1M453.8 194.1h.1M457.2 187.1h.1M449.9 194.5h.1M439 203.8h.1M452.4 190.5h.1M439.1 193.5h.1M445.5 205.3h.1M452.1 198.8h.1M452.5 199.3h.1M443.6 197.5h.1M446.3 186.7h.1M439.2 200.6h.1M450.4 188h.1M446.6 201.7h.1M450.7 202.4h.1M436.7 194.8h.1M439.7 195.2h.1M444.4 205.2h.1M448.9 194h.1M454.9 192h.1M441.3 195.1h.1M439.1 200.8h.1M447.5 203.7h.1M447.7 194.5h.1M451.3 190.5h.1M438.6 197.7h.1M438.2 196.9h.1M445.5 202.9h.1M443.6 190h.1M441.4 198.5h.1M443.3 200.2h.1M444.1 200.4h.1M448.4 197.9h.1M443.4 202.7h.1M441 207.9h.1M443.9 204.4h.1M441.6 193.6h.1M448.2 195.8h.1M450.4 200.9h.1M448.6 187.8h.1M440.7 203.1h.1M443.4 204.1h.1M354.9 140h.1M360.4 134.3h.1M358.9 131.3h.1M363.3 140.1h.1M366.5 152.7h.1M368.1 135.1h.1M373.5 147.4h.1M375.2 146.2h.1M357.6 135.2h.1M364.5 152.6h.1M363.3 150.7h.1M365.7 139.9h.1M367.3 132.9h.1M359.4 139.6h.1M366.8 149.4h.1M358.5 146.7h.1M358.5 136.4h.1M362.1 139.9h.1M367.6 134.9h.1M363 139.6h.1M364.1 133.2h.1M367.8 138.4h.1M374 146.1h.1M359 147.4h.1M372.1 143.4h.1M362.3 137.2h.1M359 146.9h.1M355.7 134.4h.1M362 139.9h.1M369.8 145.5h.1M361.4 142.1h.1M372.7 141.5h.1M362.3 138.3h.1M361.7 153.4h.1M373.7 143.2h.1M354.2 136.6h.1M366.6 139.3h.1M353.8 141.9h.1M368.1 131.2h.1M363.4 152.6h.1M363.7 136.1h.1M361.2 151.8h.1M365.1 137.4h.1M360.6 132.5h.1M372.2 143.2h.1M354.6 135.2h.1M372 143.4h.1M361.4 138.2h.1M359.3 145.6h.1M360.9 139.2h.1M362.2 142.8h.1M361.6 132.3h.1M361.9 137.9h.1M362.9 139.9h.1M364.9 131.2h.1M371.7 148.2h.1M363.3 142.9h.1M355.3 141.7h.1M355.7 136.8h.1M357.5 140.8h.1M366.3 128.7h.1M361.4 136.5h.1M359.6 150.5h.1M362.8 149.8h.1M359.8 131.1h.1M375 148.6h.1M373.4 148.3h.1M356.9 134.3h.1M371.2 148.6h.1M356.2 133.8h.1" stroke="#fff" stroke-width=".8" stroke-linecap="round" fill="none"/>
<g font-size="8.6" fill="#111">
<text x="965.8" y="264.6" text-anchor="end">0</text>
<text x="965.8" y="243.7" text-anchor="end">10</text>
<text x="965.8" y="222.9" text-anchor="end">20</text>
<text x="965.8" y="202" text-anchor="end">30</text>
<text x="965.8" y="181.1" text-anchor="end">40</text>
</g>
<path d="M977.5 218.8H994.5V240.7H977.5ZM977.5 228.9H994.5" stroke="#5ab4ac" stroke-width="1.7" fill="none"/>
<path d="M1009.3 212.3H1026V234.6H1009.3ZM1009.3 223.8H1026" stroke="#b08fc7" stroke-width="1.7" fill="none"/>
<path d="M986 261.6L1017.5 251.2M986 259.5L1017.5 236.6M986 255.3L1017.5 249.1M986 251.2L1017.5 240.7M986 244.9L1017.5 219.9M986 242.8L1017.5 236.6M986 240.7L1017.5 215.7M986 238.6L1017.5 242.8M986 236.6L1017.5 209.4M986 234.5L1017.5 221.9M986 232.4L1017.5 213.6M986 230.3L1017.5 234.5M986 230.3L1017.5 205.2M986 228.2L1017.5 217.8M986 226.1L1017.5 224M986 226.1L1017.5 199M986 224L1017.5 211.5M986 221.9L1017.5 230.3M986 221.9L1017.5 178.1M986 219.9L1017.5 215.7M986 217.8L1017.5 169.8M986 217.8L1017.5 226.1M986 215.7L1017.5 207.3M986 213.6L1017.5 219.9M986 211.5L1017.5 190.6M986 209.4L1017.5 238.6M986 207.3L1017.5 213.6M986 205.2L1017.5 232.4M986 203.2L1017.5 217.8M986 199L1017.5 228.2M986 190.6L1017.5 221.9M986 260.6L1017.5 232.4M986 257.4L1017.5 224M986 249.1L1017.5 247" stroke="#b7b7b7" stroke-width="2.3" fill="none" stroke-linecap="round"/>
<path d="M986 190.6V261.6" stroke="#5ab4ac" stroke-width="1.6"/>
<path d="M1017.5 169.8V251.2" stroke="#b08fc7" stroke-width="1.6"/>
<g fill="#5ab4ac"><circle cx="986" cy="261.6" r="1.5"/><circle cx="986" cy="259.5" r="1.5"/><circle cx="986" cy="255.3" r="1.5"/><circle cx="986" cy="251.2" r="1.5"/><circle cx="986" cy="244.9" r="1.5"/><circle cx="986" cy="242.8" r="1.5"/><circle cx="986" cy="240.7" r="1.5"/><circle cx="986" cy="238.6" r="1.5"/><circle cx="986" cy="236.6" r="1.5"/><circle cx="986" cy="234.5" r="1.5"/><circle cx="986" cy="232.4" r="1.5"/><circle cx="986" cy="230.3" r="1.5"/><circle cx="986" cy="230.3" r="1.5"/><circle cx="986" cy="228.2" r="1.5"/><circle cx="986" cy="226.1" r="1.5"/><circle cx="986" cy="226.1" r="1.5"/><circle cx="986" cy="224" r="1.5"/><circle cx="986" cy="221.9" r="1.5"/><circle cx="986" cy="221.9" r="1.5"/><circle cx="986" cy="219.9" r="1.5"/><circle cx="986" cy="217.8" r="1.5"/><circle cx="986" cy="217.8" r="1.5"/><circle cx="986" cy="215.7" r="1.5"/><circle cx="986" cy="213.6" r="1.5"/><circle cx="986" cy="211.5" r="1.5"/><circle cx="986" cy="209.4" r="1.5"/><circle cx="986" cy="207.3" r="1.5"/><circle cx="986" cy="205.2" r="1.5"/><circle cx="986" cy="203.2" r="1.5"/><circle cx="986" cy="199" r="1.5"/><circle cx="986" cy="190.6" r="1.5"/><circle cx="986" cy="260.6" r="1.5"/><circle cx="986" cy="257.4" r="1.5"/><circle cx="986" cy="249.1" r="1.5"/></g>
<g fill="#b08fc7"><circle cx="1017.5" cy="251.2" r="1.5"/><circle cx="1017.5" cy="236.6" r="1.5"/><circle cx="1017.5" cy="249.1" r="1.5"/><circle cx="1017.5" cy="240.7" r="1.5"/><circle cx="1017.5" cy="219.9" r="1.5"/><circle cx="1017.5" cy="236.6" r="1.5"/><circle cx="1017.5" cy="215.7" r="1.5"/><circle cx="1017.5" cy="242.8" r="1.5"/><circle cx="1017.5" cy="209.4" r="1.5"/><circle cx="1017.5" cy="221.9" r="1.5"/><circle cx="1017.5" cy="213.6" r="1.5"/><circle cx="1017.5" cy="234.5" r="1.5"/><circle cx="1017.5" cy="205.2" r="1.5"/><circle cx="1017.5" cy="217.8" r="1.5"/><circle cx="1017.5" cy="224" r="1.5"/><circle cx="1017.5" cy="199" r="1.5"/><circle cx="1017.5" cy="211.5" r="1.5"/><circle cx="1017.5" cy="230.3" r="1.5"/><circle cx="1017.5" cy="178.1" r="1.5"/><circle cx="1017.5" cy="215.7" r="1.5"/><circle cx="1017.5" cy="169.8" r="1.5"/><circle cx="1017.5" cy="226.1" r="1.5"/><circle cx="1017.5" cy="207.3" r="1.5"/><circle cx="1017.5" cy="219.9" r="1.5"/><circle cx="1017.5" cy="190.6" r="1.5"/><circle cx="1017.5" cy="238.6" r="1.5"/><circle cx="1017.5" cy="213.6" r="1.5"/><circle cx="1017.5" cy="232.4" r="1.5"/><circle cx="1017.5" cy="217.8" r="1.5"/><circle cx="1017.5" cy="228.2" r="1.5"/><circle cx="1017.5" cy="221.9" r="1.5"/><circle cx="1017.5" cy="232.4" r="1.5"/><circle cx="1017.5" cy="224" r="1.5"/><circle cx="1017.5" cy="247" r="1.5"/></g>
<path d="M967.1 164.5V266.3H1036.5M986 266V268.6M1017.5 266V268.6" stroke="#000" stroke-width="2.5" fill="none"/>
<g font-size="9" fill="#151515" text-anchor="middle"><text x="987" y="277.9">PT</text><text x="1017.5" y="277.9">TT</text></g>
<text transform="translate(932.6 209.5) rotate(-90)" font-size="10" fill="#151515" text-anchor="middle" textLength="131.4" lengthAdjust="spacingAndGlyphs">Percentage of CD8-C1cluster</text>
<text transform="translate(944.4 218.4) rotate(-90)" font-size="10" fill="#151515" text-anchor="middle" textLength="58.9" lengthAdjust="spacingAndGlyphs">in T cells (%)</text>
<text x="980.9" y="150.9" font-size="8.2" fill="#111">p</text><text x="986.6" y="148.9" font-size="8.2" fill="#111" textLength="33" lengthAdjust="spacingAndGlyphs">= 0.0085</text>
<path d="M985.9 158.8V154.8H1015.6V158.8" stroke="#000" stroke-width="2.4" fill="none"/>
<text x="1079.6" y="146.6" font-size="9" fill="#151515" textLength="84.3" lengthAdjust="spacingAndGlyphs">Kaplan–Meier Curve</text>
<g font-size="8.6" fill="#111" text-anchor="end">
<text x="1080.4" y="174.6">100</text>
<text x="1080.4" y="196">75</text>
<text x="1080.4" y="217.3">50</text>
<text x="1080.4" y="239.6">25</text>
<text x="1080.4" y="261.9">0</text>
</g>
<g font-size="8.6" fill="#111" text-anchor="middle">
<text x="1085.7" y="272">0</text>
<text x="1102" y="272">2.5</text>
<text x="1118.2" y="272">5</text>
<text x="1134.4" y="272">7.5</text>
<text x="1151" y="272">10</text>
<text x="1167.2" y="272">12.5</text>
</g>
<text x="1098.9" y="282.7" font-size="9" fill="#151515" textLength="47.7" lengthAdjust="spacingAndGlyphs">Time(years)</text>
<text transform="translate(1059 217.8) rotate(-90)" font-size="9.6" fill="#151515" text-anchor="middle" textLength="114.7" lengthAdjust="spacingAndGlyphs">Overall survival probability</text>
<path d="M1087.1 214.3H1151" stroke="#000" stroke-width="2.8" stroke-dasharray="12 13" fill="none"/>
<path d="M1120.8 214.3V263" stroke="#000" stroke-width="2.8" stroke-dasharray="15 16.4 12.6 20" fill="none"/>
<path d="M1150.3 219.3V263" stroke="#000" stroke-width="2.8" stroke-dasharray="12.2 14.2 12.6 20" fill="none"/>
<path d="M1085.7 170.6H1088V173.5H1092.8V178.7H1096V181.5H1100.9V184.8H1105V188.5H1109V190.9H1111.5V194.5H1114.1V197H1116V199.8H1118.2V201.1H1123.2V204.1H1126V206.2H1129.3V207.6H1135.4V209.8H1140V210.4H1145.6V210.8H1148V213H1150.7V215.3H1153.7V216.9H1157.8V216.9" stroke="#2f7fc0" stroke-width="2.9" fill="none" stroke-linejoin="round"/>
<path d="M1166.4 216.9h.8" stroke="#2f7fc0" stroke-width="1.4"/>
<path d="M1085.7 170.6H1087.2V175H1088.7V178.7H1090V184H1091.8V187.9H1094V190.5H1095.8V192.9H1098V195H1099.9V198H1101.5V202H1102.9V205.1H1105V207H1107V208.2H1109V210H1111.1V211.2H1112.5V213H1114.1V213.7H1123.2V213.7H1123.2V219.3H1127.3V219.3H1127.3V231.5H1131.4V232.5H1131.9V239.2H1156.8V239.2" stroke="#c53d2c" stroke-width="2.9" fill="none" stroke-linejoin="round"/>
<path d="M1082 167.6V263.2H1170" stroke="#000" stroke-width="2.6" fill="none"/><path d="M1085.7 263V265.6M1102 263V265.6M1118.2 263V265.6M1134.4 263V265.6M1151 263V265.6M1167.2 263V265.6" stroke="#000" stroke-width="1" fill="none"/>
<path d="M1133.4 164.9H1141.2" stroke="#c53d2c" stroke-width="2.8"/><path d="M1133.4 174.3H1141.2" stroke="#2f7fc0" stroke-width="2.8"/>
<text x="1143.1" y="167.6" font-size="8" fill="#151515" textLength="43.5" lengthAdjust="spacingAndGlyphs">CD248-High</text>
<text x="1143.1" y="177" font-size="8" fill="#151515" textLength="42" lengthAdjust="spacingAndGlyphs">CD248-Low</text>
<text x="1088.4" y="248.6" font-size="6.6" fill="#111" textLength="24.6" lengthAdjust="spacingAndGlyphs">Log-rank</text>
<text x="1083.9" y="256.5" font-size="6.8" fill="#111" textLength="35.6" lengthAdjust="spacingAndGlyphs"><tspan font-style="italic">p</tspan> = 0.00012</text>
<defs><linearGradient id="gT" x1="0" y1=".8" x2="1" y2=".2"><stop offset="0" stop-color="#f5a7a3"/><stop offset=".5" stop-color="#f5a888"/><stop offset="1" stop-color="#f5a262"/></linearGradient><radialGradient id="gP" cx=".5" cy=".5" r=".5"><stop offset=".55" stop-color="#e8cde4"/><stop offset="1" stop-color="#eed8eb"/></radialGradient><radialGradient id="gG" cx=".5" cy=".5" r=".5"><stop offset=".6" stop-color="#cff2b6"/><stop offset="1" stop-color="#d9f6c6"/></radialGradient></defs>
<defs><path id="em" d="M-3.2-15.9Q1.5 1 14.6 14.6M-14.6-8.9Q-5.5 5 9.5 15.9M-13.3-3.8Q-1-3.6 9.5-9.4M-16.5 3.8Q-3 3.8 7.6-1.6M-6.3 9.5Q6 8.6 16.5 2.9" fill="none" stroke="#31549b" stroke-width="2.5" stroke-linecap="round"/></defs>
<use href="#em" transform="translate(190.8 473.8) rotate(8) scale(1 1)"/>
<use href="#em" transform="translate(368.6 499.5) rotate(0) scale(-1 1)"/>
<use href="#em" transform="translate(208.7 572.5) rotate(0) scale(-1 1)"/>
<use href="#em" transform="translate(376.6 580) rotate(0) scale(1 1)"/>
<use href="#em" transform="translate(800.3 421.4) rotate(0) scale(1 1)"/>
<use href="#em" transform="translate(984.7 398.6) rotate(0) scale(1 1)"/>
<use href="#em" transform="translate(801.9 460.8) rotate(0) scale(1 1)"/>
<use href="#em" transform="translate(992.3 445.5) rotate(0) scale(1 1)"/>
<use href="#em" transform="translate(826 492.5) rotate(0) scale(-1 1)"/>
<use href="#em" transform="translate(980.9 492.5) rotate(0) scale(-1 1)"/>
<use href="#em" transform="translate(875.5 509) rotate(0) scale(1 1)"/>
<use href="#em" transform="translate(946.6 500.1) rotate(0) scale(1 1)"/>
<use href="#em" transform="translate(834.7 540.8) rotate(0) scale(-1 1)"/>
<use href="#em" transform="translate(1001.2 540.3) rotate(0) scale(1 1)"/>
<use href="#em" transform="translate(820.5 577.6) rotate(0) scale(1 1)"/>
<use href="#em" transform="translate(1003.7 583.5) rotate(0) scale(1 1)"/>
<use href="#em" transform="translate(1029.1 573.3) rotate(0) scale(-1 1)"/>
<use href="#em" transform="translate(799.1 614.9) rotate(0) scale(1 1)"/>
<use href="#em" transform="translate(833.9 614.9) rotate(0) scale(-1 1)"/>
<use href="#em" transform="translate(1010 621.5) rotate(0) scale(-1 1)"/>
<path transform="translate(299.9 389.5) rotate(-94.5)" d="M0-.9L8.3-1C10.3-2.5 13.9-2.2 13.9 0C13.9 2.2 10.3 2.5 8.3 1L0 .9Z" fill="#cc141e"/>
<path transform="translate(238.4 412.6) rotate(-160.9)" d="M0-.9L9.6-1C11.6-2.5 15.2-2.2 15.2 0C15.2 2.2 11.6 2.5 9.6 1L0 .9Z" fill="#cc141e"/>
<path transform="translate(351.1 433.1) rotate(-16.3)" d="M0-.9L9.4-1C11.4-2.5 15-2.2 15 0C15 2.2 11.4 2.5 9.4 1L0 .9Z" fill="#cc141e"/>
<path transform="translate(251.6 474.8) rotate(112.2)" d="M0-.9L6.3-1C8.3-2.5 11.9-2.2 11.9 0C11.9 2.2 8.3 2.5 6.3 1L0 .9Z" fill="#cc141e"/>
<path transform="translate(311.2 483.6) rotate(45)" d="M0-.9L8-1C10-2.5 13.6-2.2 13.6 0C13.6 2.2 10 2.5 8 1L0 .9Z" fill="#cc141e"/>
<path transform="translate(287 422.4) rotate(-136.4)" d="M0-.9L3-1C5-2.5 8.6-2.2 8.6 0C8.6 2.2 5 2.5 3 1L0 .9Z" fill="#cc141e"/>
<g transform="translate(289.4 391.5) rotate(-123.4)"><path d="M0-1.2H10.1V1.2H0Z" fill="#ece2b4"/><path d="M0-1.2H10.1M0 1.2H10.1" stroke="#a58212" stroke-width=".8" fill="none"/><path d="M9.1-2.7h5.6l-1.3 2.7 1.3 2.7h-5.6l1.1-2.7z" fill="#c59b12" stroke="#8f6e0a" stroke-width=".6" stroke-linejoin="round"/></g>
<g transform="translate(237.6 422.2) rotate(179)"><path d="M0-1.2H13.1V1.2H0Z" fill="#ece2b4"/><path d="M0-1.2H13.1M0 1.2H13.1" stroke="#a58212" stroke-width=".8" fill="none"/><path d="M12.1-2.7h5.6l-1.3 2.7 1.3 2.7h-5.6l1.1-2.7z" fill="#c59b12" stroke="#8f6e0a" stroke-width=".6" stroke-linejoin="round"/></g>
<g transform="translate(344.5 422.7) rotate(-28.9)"><path d="M0-1.2H13V1.2H0Z" fill="#ece2b4"/><path d="M0-1.2H13M0 1.2H13" stroke="#a58212" stroke-width=".8" fill="none"/><path d="M12-2.7h5.6l-1.3 2.7 1.3 2.7h-5.6l1.1-2.7z" fill="#c59b12" stroke="#8f6e0a" stroke-width=".6" stroke-linejoin="round"/></g>
<g transform="translate(262.5 477) rotate(90)"><path d="M0-1.2H9.8V1.2H0Z" fill="#ece2b4"/><path d="M0-1.2H9.8M0 1.2H9.8" stroke="#a58212" stroke-width=".8" fill="none"/><path d="M8.8-2.7h5.6l-1.3 2.7 1.3 2.7h-5.6l1.1-2.7z" fill="#c59b12" stroke="#8f6e0a" stroke-width=".6" stroke-linejoin="round"/></g>
<g transform="translate(319.1 474) rotate(30.7)"><path d="M0-1.2H12.3V1.2H0Z" fill="#ece2b4"/><path d="M0-1.2H12.3M0 1.2H12.3" stroke="#a58212" stroke-width=".8" fill="none"/><path d="M11.3-2.7h5.6l-1.3 2.7 1.3 2.7h-5.6l1.1-2.7z" fill="#c59b12" stroke="#8f6e0a" stroke-width=".6" stroke-linejoin="round"/></g>
<path d="M276.6 404.4C277 401.4 277.9 397.3 280.3 394.7C282.6 392.1 286.4 389.9 290.6 388.7C294.9 387.4 301.4 386.7 305.7 387.2C310 387.6 313.8 389.2 316.5 391.5C319.2 393.8 321.2 397.8 321.9 401.2C322.6 404.6 322.3 408.9 320.8 412C319.4 415 316.5 417.8 313.3 419.5C310 421.3 305.9 422.5 301.4 422.3C296.9 422.2 290.2 420 286.3 418.5C282.4 416.9 279.7 415.4 278.1 413.1C276.5 410.7 276.2 407.5 276.6 404.4Z" fill="url(#gT)" stroke="#cf6a32" stroke-width="1.7"/>
<ellipse cx="299.7" cy="405.5" rx="6.6" ry="6.1" fill="#c6916e" stroke="#a5673c" stroke-width=".9"/>
<path d="M235.2 416.3C236.2 412.7 238.6 408 242.1 405.5C245.6 403.1 251.6 401.8 256.1 401.6C260.6 401.4 265.9 402.5 269 404.4C272.2 406.3 274.3 409.6 274.9 413.1C275.4 416.5 274.1 421.2 272.3 424.9C270.4 428.7 267.1 433.1 263.6 435.7C260.2 438.3 255.6 440.5 251.8 440.5C248 440.5 243.7 437.9 241 435.7C238.3 433.5 236.6 430.3 235.6 427.1C234.6 423.9 234.1 419.9 235.2 416.3Z" fill="url(#gT)" stroke="#cf6a32" stroke-width="1.7"/>
<ellipse cx="254.4" cy="420.2" rx="6.6" ry="6.1" fill="#c6916e" stroke="#a5673c" stroke-width=".9"/>
<path d="M242.1 455.1C242.6 451.4 243.9 447.6 246.4 445.4C248.9 443.3 253.4 441.8 257.2 442.2C260.9 442.5 265.8 445.1 269 447.6C272.3 450.1 274.8 454.1 276.6 457.3C278.4 460.5 280.2 463.9 279.8 467C279.5 470.1 277.3 473.7 274.4 475.6C271.6 477.6 266.5 478.7 262.6 478.9C258.6 479 253.9 478.5 250.7 476.7C247.5 474.9 244.6 471.7 243.1 468.1C241.7 464.5 241.5 458.9 242.1 455.1Z" fill="url(#gT)" stroke="#cf6a32" stroke-width="1.7"/>
<ellipse cx="260" cy="460.5" rx="6.6" ry="6.1" fill="#c6916e" stroke="#a5673c" stroke-width=".9"/>
<path d="M316.5 424.9C317.1 420.6 319.4 418.2 321.9 416.3C324.4 414.4 327.8 413.4 331.6 413.7C335.4 414.1 341.1 416 344.6 418.5C348 420.9 350.7 424.6 352.1 428.2C353.5 431.8 353.6 436.4 352.8 440C351.9 443.6 349.5 447.2 346.7 449.7C343.9 452.3 339.5 454.7 335.9 455.1C332.3 455.6 328.1 454.7 325.1 452.5C322.2 450.4 319.7 446.8 318.2 442.2C316.8 437.6 315.9 429.2 316.5 424.9Z" fill="url(#gT)" stroke="#cf6a32" stroke-width="1.7"/>
<ellipse cx="332.7" cy="435.1" rx="6.6" ry="6.1" fill="#c6916e" stroke="#a5673c" stroke-width=".9"/>
<path d="M280.3 470.2C280.4 466.6 282.4 462.3 285.2 459.4C288 456.6 292.6 454.7 297.1 453.4C301.6 452.2 308.1 451.3 312.2 451.9C316.3 452.5 319.9 454.6 321.9 457.3C323.9 460 324.4 464.5 324.1 468.1C323.7 471.7 322.1 475.9 319.7 478.9C317.4 481.8 314.2 484.5 310 485.8C305.9 487 299.2 487.2 294.9 486.4C290.6 485.6 286.6 483.7 284.1 481C281.7 478.3 280.1 473.8 280.3 470.2Z" fill="url(#gT)" stroke="#cf6a32" stroke-width="1.7"/>
<ellipse cx="301.8" cy="469.2" rx="6.6" ry="6.1" fill="#c6916e" stroke="#a5673c" stroke-width=".9"/>
<path d="M268.6 440C268.8 436.3 271.5 431.2 274.4 428.2C277.4 425.1 282 422.6 286.3 421.7C290.6 420.8 296.4 421.5 300.3 422.8C304.3 424 307.8 426.5 310 429.2C312.3 431.9 313.9 435.9 313.7 439C313.5 442 311.7 445.2 309 447.6C306.2 449.9 301.4 451.8 297.1 453C292.8 454.2 287 455.1 283.1 454.7C279.1 454.3 275.8 453.3 273.4 450.8C270.9 448.4 268.4 443.8 268.6 440Z" fill="url(#gT)" stroke="#cf6a32" stroke-width="1.7"/>
<ellipse cx="291" cy="438.5" rx="6.6" ry="6.1" fill="#c6916e" stroke="#a5673c" stroke-width=".9"/>
<path transform="translate(872.3 402.5) rotate(-90)" d="M0-.9L8.1-1C10.1-2.5 13.7-2.2 13.7 0C13.7 2.2 10.1 2.5 8.1 1L0 .9Z" fill="#7e3814"/>
<path transform="translate(933.6 395.3) rotate(-37)" d="M0-.9L8.2-1C10.2-2.5 13.8-2.2 13.8 0C13.8 2.2 10.2 2.5 8.2 1L0 .9Z" fill="#7e3814"/>
<path transform="translate(855.5 452.3) rotate(-158.4)" d="M0-.9L8.8-1C10.8-2.5 14.4-2.2 14.4 0C14.4 2.2 10.8 2.5 8.8 1L0 .9Z" fill="#7e3814"/>
<path transform="translate(959 451) rotate(41.5)" d="M0-.9L7.2-1C9.2-2.5 12.8-2.2 12.8 0C12.8 2.2 9.2 2.5 7.2 1L0 .9Z" fill="#7e3814"/>
<path transform="translate(902.4 482) rotate(123.2)" d="M0-.9L8.3-1C10.3-2.5 13.9-2.2 13.9 0C13.9 2.2 10.3 2.5 8.3 1L0 .9Z" fill="#7e3814"/>
<path transform="translate(923.4 417.8) rotate(120.8)" d="M0-.9L1.6-1C3.6-2.5 7.2-2.2 7.2 0C7.2 2.2 3.6 2.5 1.6 1L0 .9Z" fill="#7e3814"/>
<g transform="translate(860.8 403) rotate(-108.7)"><path d="M0-1.2H8.5V1.2H0Z" fill="#f6edc2"/><path d="M0-1.2H8.5M0 1.2H8.5" stroke="#d9bd5a" stroke-width=".8" fill="none"/><path d="M7.5-2.7h5.6l-1.3 2.7 1.3 2.7h-5.6l1.1-2.7z" fill="#f2cb2c" stroke="#cfa216" stroke-width=".6" stroke-linejoin="round"/></g>
<g transform="translate(924.5 388.7) rotate(-55.6)"><path d="M0-1.2H10.4V1.2H0Z" fill="#f6edc2"/><path d="M0-1.2H10.4M0 1.2H10.4" stroke="#d9bd5a" stroke-width=".8" fill="none"/><path d="M9.4-2.7h5.6l-1.3 2.7 1.3 2.7h-5.6l1.1-2.7z" fill="#f2cb2c" stroke="#cfa216" stroke-width=".6" stroke-linejoin="round"/></g>
<g transform="translate(964.5 442.2) rotate(21.4)"><path d="M0-1.2H9.7V1.2H0Z" fill="#f6edc2"/><path d="M0-1.2H9.7M0 1.2H9.7" stroke="#d9bd5a" stroke-width=".8" fill="none"/><path d="M8.7-2.7h5.6l-1.3 2.7 1.3 2.7h-5.6l1.1-2.7z" fill="#f2cb2c" stroke="#cfa216" stroke-width=".6" stroke-linejoin="round"/></g>
<g transform="translate(853 461.6) rotate(180)"><path d="M0-1.2H10.9V1.2H0Z" fill="#f6edc2"/><path d="M0-1.2H10.9M0 1.2H10.9" stroke="#d9bd5a" stroke-width=".8" fill="none"/><path d="M9.9-2.7h5.6l-1.3 2.7 1.3 2.7h-5.6l1.1-2.7z" fill="#f2cb2c" stroke="#cfa216" stroke-width=".6" stroke-linejoin="round"/></g>
<g transform="translate(912.6 486.3) rotate(104.9)"><path d="M0-1.2H9.1V1.2H0Z" fill="#f6edc2"/><path d="M0-1.2H9.1M0 1.2H9.1" stroke="#d9bd5a" stroke-width=".8" fill="none"/><path d="M8.1-2.7h5.6l-1.3 2.7 1.3 2.7h-5.6l1.1-2.7z" fill="#f2cb2c" stroke="#cfa216" stroke-width=".6" stroke-linejoin="round"/></g>
<path d="M890 403.6C890.6 400.2 892.5 395.3 895.8 392.2C899.1 389.2 904.7 386.3 909.8 385.4C914.9 384.4 921.9 384.8 926.3 386.4C930.8 387.9 934.3 391.4 936.5 394.7C938.6 398 939.6 402.8 939 406.2C938.4 409.6 936.3 412.9 932.7 415.1C929.1 417.2 922.7 418.4 917.4 418.9C912.1 419.3 905.1 418.7 900.9 417.6C896.7 416.5 893.8 414.8 892 412.5C890.2 410.2 889.4 407 890 403.6Z" fill="#9cc4e8" stroke="#3a80c2" stroke-width="1.6"/>
<ellipse cx="914.9" cy="403.1" rx="6.8" ry="6.3" fill="#2f78bd" stroke="#1f5a94" stroke-width=".9"/>
<path d="M847.6 423.9C847.7 419.9 849.1 414.6 851.4 411.2C853.7 407.9 857.5 405.1 861.6 403.6C865.6 402.2 871.5 401.7 875.5 402.4C879.5 403 883.4 404.7 885.7 407.4C887.9 410.2 889.2 414.8 889 418.9C888.8 422.9 886.9 428.1 884.4 431.6C882 435 878.3 438 874.3 439.7C870.2 441.4 864.2 442.4 860.3 441.7C856.4 441 853 438.3 850.9 435.4C848.8 432.4 847.5 428 847.6 423.9Z" fill="#9cc4e8" stroke="#3a80c2" stroke-width="1.6"/>
<ellipse cx="868.4" cy="420.1" rx="6.8" ry="6.3" fill="#2f78bd" stroke="#1f5a94" stroke-width=".9"/>
<path d="M928.8 431.6C929.2 427.5 930.3 421.7 932.7 418.9C935 416 938.8 414.3 942.8 414.3C946.8 414.3 953 416.2 956.8 418.9C960.6 421.5 963.8 426.3 965.7 430.3C967.6 434.3 968.8 439 968.2 443C967.6 447 965 452 961.9 454.4C958.7 456.9 953.2 457.9 949.2 457.7C945.1 457.5 940.8 455.6 937.7 453.1C934.6 450.7 932.1 446.6 930.6 443C929.1 439.4 928.5 435.6 928.8 431.6Z" fill="#9cc4e8" stroke="#3a80c2" stroke-width="1.6"/>
<ellipse cx="947.1" cy="435.4" rx="6.8" ry="6.3" fill="#2f78bd" stroke="#1f5a94" stroke-width=".9"/>
<path d="M851.4 462C852 458.2 853.7 452.5 856.5 449.3C859.2 446.2 863.9 443.4 867.9 443C871.9 442.6 877.2 444.3 880.6 446.8C884 449.3 886.2 454 888.2 458.2C890.2 462.5 892.5 468.3 892.5 472.2C892.5 476.1 891.3 479.8 888.2 481.8C885.2 483.9 878.9 484.7 874.3 484.4C869.6 484 863.9 481.8 860.3 479.8C856.7 477.8 854.2 475.1 852.7 472.2C851.2 469.2 850.8 465.8 851.4 462Z" fill="#9cc4e8" stroke="#3a80c2" stroke-width="1.6"/>
<ellipse cx="872.2" cy="462.8" rx="6.8" ry="6.3" fill="#2f78bd" stroke="#1f5a94" stroke-width=".9"/>
<path d="M892.5 472.2C893.4 468.8 895.9 462.8 899.6 459.5C903.4 456.2 909.8 453.7 914.9 452.4C920 451.1 926.1 450.7 930.1 451.9C934.1 453.1 937.5 456.1 939 459.5C940.5 462.9 940.1 468.2 939 472.2C937.9 476.2 936.3 480.9 932.7 483.6C929.1 486.4 922.5 488.3 917.4 488.7C912.3 489.1 906 487.6 902.2 486.2C898.4 484.7 896.2 482.1 894.6 479.8C893 477.5 891.7 475.6 892.5 472.2Z" fill="#9cc4e8" stroke="#3a80c2" stroke-width="1.6"/>
<ellipse cx="915.6" cy="469.1" rx="6.8" ry="6.3" fill="#2f78bd" stroke="#1f5a94" stroke-width=".9"/>
<path d="M881.4 441.7C882.2 438.3 884.8 432.6 888.2 429C891.7 425.4 897.3 421.4 902.2 420.1C907.1 418.9 913.4 419.9 917.4 421.4C921.4 422.9 924.6 425.8 926.3 429C928 432.2 928.6 436.9 927.6 440.4C926.5 444 923.8 448.2 920 450.6C916.2 453 909.8 454.3 904.7 454.9C899.6 455.6 893.1 455.3 889.5 454.4C885.9 453.5 884.5 451.5 883.1 449.3C881.8 447.2 880.5 445.1 881.4 441.7Z" fill="#9cc4e8" stroke="#3a80c2" stroke-width="1.6"/>
<ellipse cx="904.7" cy="437.4" rx="6.8" ry="6.3" fill="#2f78bd" stroke="#1f5a94" stroke-width=".9"/>
<path transform="translate(102.7 501) rotate(-100.1)" d="M0-.9L7-1C9-2.5 12.6-2.2 12.6 0C12.6 2.2 9 2.5 7 1L0 .9Z" fill="#d0141d"/>
<path transform="translate(61 541) rotate(-117.4)" d="M0-.9L7-1C9-2.5 12.6-2.2 12.6 0C12.6 2.2 9 2.5 7 1L0 .9Z" fill="#d0141d"/>
<path transform="translate(165.5 536) rotate(-41.5)" d="M0-.9L6-1C8-2.5 11.6-2.2 11.6 0C11.6 2.2 8 2.5 6 1L0 .9Z" fill="#d0141d"/>
<path transform="translate(105 613) rotate(118)" d="M0-.9L8.7-1C10.7-2.5 14.3-2.2 14.3 0C14.3 2.2 10.7 2.5 8.7 1L0 .9Z" fill="#d0141d"/>
<g transform="translate(95.5 508) rotate(-140.3)"><path d="M0-1.2H9.8V1.2H0Z" fill="#e5d48a"/><path d="M0-1.2H9.8M0 1.2H9.8" stroke="#9a7a12" stroke-width=".8" fill="none"/><path d="M8.8-2.7h5.6l-1.3 2.7 1.3 2.7h-5.6l1.1-2.7z" fill="#b8901a" stroke="#7d6208" stroke-width=".6" stroke-linejoin="round"/></g>
<g transform="translate(55 550) rotate(-154.1)"><path d="M0-1.2H10.1V1.2H0Z" fill="#e5d48a"/><path d="M0-1.2H10.1M0 1.2H10.1" stroke="#9a7a12" stroke-width=".8" fill="none"/><path d="M9.1-2.7h5.6l-1.3 2.7 1.3 2.7h-5.6l1.1-2.7z" fill="#b8901a" stroke="#7d6208" stroke-width=".6" stroke-linejoin="round"/></g>
<g transform="translate(155.2 533) rotate(-82.7)"><path d="M0-1.2H9.5V1.2H0Z" fill="#e5d48a"/><path d="M0-1.2H9.5M0 1.2H9.5" stroke="#9a7a12" stroke-width=".8" fill="none"/><path d="M8.5-2.7h5.6l-1.3 2.7 1.3 2.7h-5.6l1.1-2.7z" fill="#b8901a" stroke="#7d6208" stroke-width=".6" stroke-linejoin="round"/></g>
<g transform="translate(116.3 616) rotate(90)"><path d="M0-1.2H9.2V1.2H0Z" fill="#e5d48a"/><path d="M0-1.2H9.2M0 1.2H9.2" stroke="#9a7a12" stroke-width=".8" fill="none"/><path d="M8.2-2.7h5.6l-1.3 2.7 1.3 2.7h-5.6l1.1-2.7z" fill="#b8901a" stroke="#7d6208" stroke-width=".6" stroke-linejoin="round"/></g>
<path d="M84.3 511.1C85 510.4 88.6 510.2 90.1 509.5C91.6 508.8 94.3 507.3 95.3 506.2C96.3 505.1 96.2 502.3 97.2 501.4C98.2 500.5 100.6 499.8 102.4 499.5C104.2 499.2 108.3 499.3 110 499.5C111.7 499.7 113.8 500.1 114.8 500.9C115.8 501.7 116.9 504 117.2 505.2C117.5 506.4 115.7 509.1 116.7 509.5C117.7 509.9 122.2 508.4 124.3 508.1C126.4 507.8 130 507.4 131.9 507.6C133.8 507.8 136.6 508.8 137.6 509.5C138.6 510.2 139.2 511.7 139.1 512.8C139 513.9 137 516.4 137.2 517.6C137.4 518.8 139.9 520.3 140.5 521.4C141.1 522.5 141.5 524.1 141.4 525.2C141.3 526.3 140.6 528.2 139.5 529C138.4 529.8 135.3 530.4 133.8 530.9C132.3 531.4 129.9 531.9 129.1 532.8C128.3 533.7 128.6 536.4 128.1 537.6C127.6 538.8 126.4 540.7 125.3 541.4C124.2 542.1 121.7 542.3 120.5 542.8C119.3 543.3 117.1 543.8 116.7 544.7C116.3 545.6 118 547.7 117.7 549C117.4 550.3 115.7 552.8 114.8 553.7C113.9 554.6 112.3 555.2 111 555.2C109.7 555.2 106.7 554.5 105.3 553.9C103.9 553.3 101.9 551.9 101 550.9C100.1 549.9 98.9 548 98.6 547.1C98.3 546.2 99.8 544.9 99.1 544.2C98.4 543.5 95.3 542.6 93.9 541.9C92.5 541.2 90.3 540.5 89.1 539.5C87.9 538.5 86.5 535.9 85.3 534.7C84.1 533.5 81.2 531.8 80.5 530.9C79.8 530 79.4 529.1 80.1 528.5C80.8 527.9 84 527.3 85.3 526.6C86.6 525.9 88.8 524.4 89.1 523.3C89.4 522.2 87.7 519.8 87.2 518.5C86.7 517.2 85.7 515.3 85.3 514.3C84.9 513.3 83.6 511.8 84.3 511.1Z" fill="#c9a8de" stroke="#9670c4" stroke-width="1.3" stroke-linejoin="round"/>
<path d="M47.7 550.2C48.4 549.5 51.9 549 53.4 548.2C54.9 547.4 57.5 545.7 58.4 544.5C59.3 543.3 59 540.6 59.9 539.6C60.9 538.6 63.2 537.7 65 537.4C66.8 537 70.8 536.7 72.6 536.8C74.3 536.9 76.4 537.2 77.5 537.9C78.5 538.6 79.8 540.8 80.2 542C80.5 543.2 78.9 546 80 546.3C81 546.7 85.3 544.8 87.4 544.4C89.5 544 93.1 543.3 95 543.4C96.9 543.4 99.8 544.2 100.8 544.9C101.9 545.5 102.5 546.9 102.5 548.1C102.6 549.2 100.7 551.8 101 553C101.3 554.2 103.9 555.5 104.5 556.5C105.2 557.6 105.8 559.2 105.7 560.3C105.6 561.3 105.1 563.3 104.1 564.2C103.1 565.1 99.9 565.9 98.5 566.5C97.1 567.1 94.7 567.7 94 568.7C93.2 569.7 93.7 572.3 93.3 573.6C92.8 574.8 91.8 576.8 90.8 577.6C89.8 578.4 87.2 578.7 86.1 579.3C84.9 579.8 82.7 580.6 82.4 581.4C82.1 582.3 83.9 584.4 83.7 585.7C83.5 586.9 82 589.6 81.1 590.6C80.3 591.5 78.8 592.2 77.5 592.3C76.1 592.4 73.1 591.9 71.7 591.4C70.2 590.9 68.2 589.6 67.2 588.7C66.2 587.8 64.9 586 64.5 585.1C64.2 584.2 65.5 582.9 64.8 582.2C64.1 581.5 60.9 580.8 59.5 580.2C58 579.7 55.8 579.1 54.5 578.2C53.2 577.3 51.7 574.8 50.4 573.7C49.1 572.5 46.1 571 45.3 570.2C44.6 569.4 44.1 568.5 44.8 567.8C45.4 567.2 48.6 566.4 49.8 565.6C51 564.8 53.2 563.2 53.4 562C53.6 560.9 51.8 558.6 51.2 557.4C50.5 556.1 49.4 554.3 49 553.3C48.5 552.3 47.1 550.9 47.7 550.2Z" fill="#c9a8de" stroke="#9670c4" stroke-width="1.3" stroke-linejoin="round"/>
<path d="M160.7 528.6C161.4 529.3 161.6 532.9 162.3 534.4C163 535.9 164.5 538.6 165.6 539.6C166.7 540.6 169.5 540.5 170.4 541.5C171.3 542.5 172 544.9 172.3 546.7C172.6 548.5 172.5 552.6 172.3 554.3C172.1 556 171.7 558.1 170.9 559.1C170.1 560.1 167.8 561.2 166.6 561.5C165.4 561.8 162.7 560 162.3 561C161.9 562 163.4 566.5 163.7 568.6C164 570.7 164.4 574.3 164.2 576.2C164 578.1 163 580.9 162.3 581.9C161.6 582.9 160.1 583.5 159 583.4C157.9 583.3 155.4 581.3 154.2 581.5C153 581.7 151.5 584.2 150.4 584.8C149.3 585.4 147.7 585.8 146.6 585.7C145.5 585.6 143.6 584.9 142.8 583.8C142 582.7 141.4 579.6 140.9 578.1C140.4 576.6 139.9 574.2 139 573.4C138.1 572.6 135.4 572.9 134.2 572.4C133 571.9 131.1 570.7 130.4 569.6C129.7 568.5 129.5 566 129 564.8C128.5 563.6 128 561.4 127.1 561C126.2 560.6 124.1 562.3 122.8 562C121.5 561.7 119 560 118.1 559.1C117.2 558.2 116.6 556.6 116.6 555.3C116.6 554 117.3 551 117.9 549.6C118.5 548.2 119.9 546.2 120.9 545.3C121.9 544.4 123.8 543.2 124.7 542.9C125.6 542.6 126.9 544.1 127.6 543.4C128.3 542.7 129.2 539.6 129.9 538.2C130.6 536.8 131.3 534.6 132.3 533.4C133.3 532.2 135.9 530.8 137.1 529.6C138.3 528.4 140 525.5 140.9 524.8C141.8 524.1 142.7 523.7 143.3 524.4C143.9 525.1 144.5 528.3 145.2 529.6C145.9 530.9 147.4 533.1 148.5 533.4C149.6 533.7 152 532 153.3 531.5C154.6 531 156.5 530 157.5 529.6C158.5 529.2 160 527.9 160.7 528.6Z" fill="#c9a8de" stroke="#9670c4" stroke-width="1.3" stroke-linejoin="round"/>
<path d="M146.9 607.7C146.2 608.4 142.6 608.6 141.1 609.3C139.6 610 136.9 611.5 135.9 612.6C134.9 613.7 135 616.5 134 617.4C133 618.3 130.6 619 128.8 619.3C127 619.6 122.9 619.5 121.2 619.3C119.5 619.1 117.4 618.7 116.4 617.9C115.4 617.1 114.3 614.8 114 613.6C113.7 612.4 115.5 609.7 114.5 609.3C113.5 608.9 109 610.4 106.9 610.7C104.8 611 101.2 611.4 99.3 611.2C97.4 611 94.6 610 93.6 609.3C92.6 608.6 92 607.1 92.1 606C92.2 604.9 94.2 602.4 94 601.2C93.8 600 91.3 598.5 90.7 597.4C90.1 596.3 89.7 594.7 89.8 593.6C89.9 592.5 90.6 590.6 91.7 589.8C92.8 589 95.9 588.4 97.4 587.9C98.9 587.4 101.3 586.9 102.1 586C102.9 585.1 102.6 582.4 103.1 581.2C103.6 580 104.8 578.1 105.9 577.4C107 576.7 109.5 576.5 110.7 576C111.9 575.5 114.1 575 114.5 574.1C114.9 573.2 113.2 571.1 113.5 569.8C113.8 568.5 115.5 566 116.4 565.1C117.3 564.2 118.9 563.6 120.2 563.6C121.5 563.6 124.5 564.3 125.9 564.9C127.3 565.5 129.3 566.9 130.2 567.9C131.1 568.9 132.3 570.8 132.6 571.7C132.9 572.6 131.4 573.9 132.1 574.6C132.8 575.3 135.9 576.2 137.3 576.9C138.7 577.6 140.9 578.3 142.1 579.3C143.3 580.3 144.7 582.9 145.9 584.1C147.1 585.3 150 587 150.7 587.9C151.4 588.8 151.8 589.7 151.1 590.3C150.4 590.9 147.2 591.5 145.9 592.2C144.6 592.9 142.4 594.4 142.1 595.5C141.8 596.6 143.5 599 144 600.3C144.5 601.6 145.5 603.5 145.9 604.5C146.3 605.5 147.6 607 146.9 607.7Z" fill="#c9a8de" stroke="#9670c4" stroke-width="1.3" stroke-linejoin="round"/>
<ellipse cx="90.9" cy="543.6" rx="5.6" ry="2.9" fill="#d6b4ea" stroke="#9670c4" stroke-width=".9" transform="rotate(10 90.9 543.6)"/>
<ellipse cx="139.6" cy="574" rx="5.6" ry="2.9" fill="#d6b4ea" stroke="#9670c4" stroke-width=".9" transform="rotate(25 139.6 574)"/>
<ellipse cx="127.3" cy="536.5" rx="5.6" ry="2.9" fill="#d6b4ea" stroke="#9670c4" stroke-width=".9" transform="rotate(-60 127.3 536.5)"/>
<circle cx="110.8" cy="527.1" r="10" fill="#7a2da3" stroke="#6a2391" stroke-width=".8"/>
<circle cx="75.3" cy="564.3" r="10" fill="#7a2da3" stroke="#6a2391" stroke-width=".8"/>
<circle cx="144.7" cy="555.1" r="10" fill="#7a2da3" stroke="#6a2391" stroke-width=".8"/>
<circle cx="120.4" cy="591.7" r="10" fill="#7a2da3" stroke="#6a2391" stroke-width=".8"/>
<path transform="translate(731.1 501) rotate(-100.1)" d="M0-.9L7-1C9-2.5 12.6-2.2 12.6 0C12.6 2.2 9 2.5 7 1L0 .9Z" fill="#d0141d"/>
<path transform="translate(689.4 541) rotate(-117.4)" d="M0-.9L7-1C9-2.5 12.6-2.2 12.6 0C12.6 2.2 9 2.5 7 1L0 .9Z" fill="#d0141d"/>
<path transform="translate(793.9 536) rotate(-41.5)" d="M0-.9L6-1C8-2.5 11.6-2.2 11.6 0C11.6 2.2 8 2.5 6 1L0 .9Z" fill="#d0141d"/>
<path transform="translate(733.4 613) rotate(118)" d="M0-.9L8.7-1C10.7-2.5 14.3-2.2 14.3 0C14.3 2.2 10.7 2.5 8.7 1L0 .9Z" fill="#d0141d"/>
<g transform="translate(723.9 508) rotate(-140.3)"><path d="M0-1.2H9.8V1.2H0Z" fill="#e5d48a"/><path d="M0-1.2H9.8M0 1.2H9.8" stroke="#9a7a12" stroke-width=".8" fill="none"/><path d="M8.8-2.7h5.6l-1.3 2.7 1.3 2.7h-5.6l1.1-2.7z" fill="#b8901a" stroke="#7d6208" stroke-width=".6" stroke-linejoin="round"/></g>
<g transform="translate(683.4 550) rotate(-154.1)"><path d="M0-1.2H10.1V1.2H0Z" fill="#e5d48a"/><path d="M0-1.2H10.1M0 1.2H10.1" stroke="#9a7a12" stroke-width=".8" fill="none"/><path d="M9.1-2.7h5.6l-1.3 2.7 1.3 2.7h-5.6l1.1-2.7z" fill="#b8901a" stroke="#7d6208" stroke-width=".6" stroke-linejoin="round"/></g>
<g transform="translate(783.6 533) rotate(-82.7)"><path d="M0-1.2H9.5V1.2H0Z" fill="#e5d48a"/><path d="M0-1.2H9.5M0 1.2H9.5" stroke="#9a7a12" stroke-width=".8" fill="none"/><path d="M8.5-2.7h5.6l-1.3 2.7 1.3 2.7h-5.6l1.1-2.7z" fill="#b8901a" stroke="#7d6208" stroke-width=".6" stroke-linejoin="round"/></g>
<g transform="translate(744.7 616) rotate(90)"><path d="M0-1.2H9.2V1.2H0Z" fill="#e5d48a"/><path d="M0-1.2H9.2M0 1.2H9.2" stroke="#9a7a12" stroke-width=".8" fill="none"/><path d="M8.2-2.7h5.6l-1.3 2.7 1.3 2.7h-5.6l1.1-2.7z" fill="#b8901a" stroke="#7d6208" stroke-width=".6" stroke-linejoin="round"/></g>
<path d="M712.7 511.3C713.4 510.6 717 510.4 718.5 509.7C720 509 722.7 507.5 723.7 506.4C724.7 505.3 724.6 502.5 725.6 501.6C726.6 500.7 729 500 730.8 499.7C732.6 499.4 736.7 499.5 738.4 499.7C740.1 499.9 742.2 500.3 743.2 501.1C744.2 501.9 745.3 504.2 745.6 505.4C745.9 506.6 744.1 509.3 745.1 509.7C746.1 510.1 750.6 508.6 752.7 508.3C754.8 508 758.4 507.6 760.3 507.8C762.2 508 765 509 766 509.7C767 510.4 767.6 511.9 767.5 513C767.4 514.1 765.4 516.6 765.6 517.8C765.8 519 768.3 520.5 768.9 521.6C769.5 522.7 769.9 524.3 769.8 525.4C769.7 526.5 769 528.4 767.9 529.2C766.8 530 763.7 530.6 762.2 531.1C760.7 531.6 758.3 532.1 757.5 533C756.7 533.9 757 536.6 756.5 537.8C756 539 754.8 540.9 753.7 541.6C752.6 542.3 750.1 542.5 748.9 543C747.7 543.5 745.5 544 745.1 544.9C744.7 545.8 746.4 547.9 746.1 549.2C745.8 550.5 744.1 553 743.2 553.9C742.3 554.8 740.7 555.4 739.4 555.4C738.1 555.4 735.1 554.7 733.7 554.1C732.3 553.5 730.3 552.1 729.4 551.1C728.5 550.1 727.3 548.2 727 547.3C726.7 546.4 728.2 545.1 727.5 544.4C726.8 543.7 723.7 542.8 722.3 542.1C720.9 541.4 718.7 540.7 717.5 539.7C716.3 538.7 714.9 536.1 713.7 534.9C712.5 533.7 709.6 532 708.9 531.1C708.2 530.2 707.8 529.3 708.5 528.7C709.2 528.1 712.4 527.5 713.7 526.8C715 526.1 717.2 524.6 717.5 523.5C717.8 522.4 716.1 520 715.6 518.7C715.1 517.4 714.1 515.5 713.7 514.5C713.3 513.5 712 512 712.7 511.3Z" fill="#efa3a3" stroke="#d67d70" stroke-width="1.3" stroke-linejoin="round"/>
<path d="M676.1 550C676.8 549.3 680.3 548.8 681.8 548C683.3 547.2 685.9 545.5 686.8 544.3C687.7 543.1 687.4 540.4 688.3 539.4C689.3 538.4 691.6 537.5 693.4 537.2C695.2 536.8 699.2 536.5 701 536.6C702.7 536.7 704.8 537 705.9 537.7C706.9 538.4 708.2 540.6 708.6 541.8C708.9 543 707.3 545.8 708.4 546.1C709.4 546.5 713.7 544.6 715.8 544.2C717.9 543.8 721.5 543.1 723.4 543.2C725.3 543.2 728.2 544 729.2 544.7C730.3 545.3 730.9 546.7 730.9 547.9C731 549 729.1 551.6 729.4 552.8C729.7 554 732.3 555.3 732.9 556.3C733.6 557.4 734.2 559 734.1 560.1C734 561.1 733.5 563.1 732.5 564C731.5 564.9 728.3 565.7 726.9 566.3C725.5 566.9 723.1 567.5 722.4 568.5C721.6 569.5 722.1 572.1 721.7 573.4C721.2 574.6 720.2 576.6 719.2 577.4C718.2 578.2 715.6 578.5 714.5 579.1C713.3 579.6 711.1 580.4 710.8 581.2C710.5 582.1 712.3 584.2 712.1 585.5C711.9 586.7 710.4 589.4 709.5 590.4C708.7 591.3 707.2 592 705.9 592.1C704.5 592.2 701.5 591.7 700.1 591.2C698.6 590.7 696.6 589.4 695.6 588.5C694.6 587.6 693.3 585.8 692.9 584.9C692.6 584 693.9 582.7 693.2 582C692.5 581.3 689.3 580.6 687.9 580C686.4 579.5 684.2 578.9 682.9 578C681.6 577.1 680.1 574.6 678.8 573.5C677.5 572.3 674.5 570.8 673.7 570C673 569.2 672.5 568.3 673.2 567.6C673.8 567 677 566.2 678.2 565.4C679.4 564.6 681.6 563 681.8 561.8C682 560.7 680.2 558.4 679.6 557.2C678.9 555.9 677.8 554.1 677.4 553.1C676.9 552.1 675.5 550.7 676.1 550Z" fill="#efa3a3" stroke="#d67d70" stroke-width="1.3" stroke-linejoin="round"/>
<path d="M789 528.8C789.7 529.5 789.9 533.1 790.6 534.6C791.3 536.1 792.8 538.8 793.9 539.8C795 540.8 797.8 540.7 798.7 541.7C799.6 542.7 800.3 545.1 800.6 546.9C800.9 548.7 800.8 552.8 800.6 554.5C800.4 556.2 800 558.3 799.2 559.3C798.4 560.3 796.1 561.4 794.9 561.7C793.7 562 791 560.2 790.6 561.2C790.2 562.2 791.7 566.7 792 568.8C792.3 570.9 792.7 574.5 792.5 576.4C792.3 578.3 791.3 581.1 790.6 582.1C789.9 583.1 788.4 583.7 787.3 583.6C786.2 583.5 783.7 581.5 782.5 581.7C781.3 581.9 779.8 584.4 778.7 585C777.6 585.6 776 586 774.9 585.9C773.8 585.8 771.9 585.1 771.1 584C770.3 582.9 769.7 579.8 769.2 578.3C768.7 576.8 768.2 574.4 767.3 573.6C766.4 572.8 763.7 573.1 762.5 572.6C761.3 572.1 759.4 570.9 758.7 569.8C758 568.7 757.8 566.2 757.3 565C756.8 563.8 756.3 561.6 755.4 561.2C754.5 560.8 752.4 562.5 751.1 562.2C749.8 561.9 747.3 560.2 746.4 559.3C745.5 558.4 744.9 556.8 744.9 555.5C744.9 554.2 745.6 551.2 746.2 549.8C746.8 548.4 748.2 546.4 749.2 545.5C750.2 544.6 752.1 543.4 753 543.1C753.9 542.8 755.2 544.3 755.9 543.6C756.6 542.9 757.5 539.8 758.2 538.4C758.9 537 759.6 534.8 760.6 533.6C761.6 532.4 764.2 531 765.4 529.8C766.6 528.6 768.3 525.7 769.2 525C770.1 524.3 771 523.9 771.6 524.6C772.2 525.3 772.8 528.5 773.5 529.8C774.2 531.1 775.7 533.3 776.8 533.6C777.9 533.9 780.3 532.2 781.6 531.7C782.9 531.2 784.8 530.2 785.8 529.8C786.8 529.4 788.3 528.1 789 528.8Z" fill="#efa3a3" stroke="#d67d70" stroke-width="1.3" stroke-linejoin="round"/>
<path d="M775.4 607.1C774.7 607.8 771.1 608 769.6 608.7C768.1 609.4 765.4 610.9 764.4 612C763.4 613.1 763.5 615.9 762.5 616.8C761.5 617.7 759.1 618.4 757.3 618.7C755.5 619 751.4 618.9 749.7 618.7C748 618.5 745.9 618.1 744.9 617.3C743.9 616.5 742.8 614.2 742.5 613C742.2 611.8 744 609.1 743 608.7C742 608.3 737.5 609.8 735.4 610.1C733.3 610.4 729.7 610.8 727.8 610.6C725.9 610.4 723.1 609.4 722.1 608.7C721.1 608 720.5 606.5 720.6 605.4C720.7 604.3 722.7 601.8 722.5 600.6C722.3 599.4 719.8 597.9 719.2 596.8C718.6 595.7 718.2 594.1 718.3 593C718.4 591.9 719.1 590 720.2 589.2C721.3 588.4 724.4 587.8 725.9 587.3C727.4 586.8 729.8 586.3 730.6 585.4C731.4 584.5 731.1 581.8 731.6 580.6C732.1 579.4 733.3 577.5 734.4 576.8C735.5 576.1 738 575.9 739.2 575.4C740.4 574.9 742.6 574.4 743 573.5C743.4 572.6 741.7 570.5 742 569.2C742.3 567.9 744 565.4 744.9 564.5C745.8 563.6 747.4 563 748.7 563C750 563 753 563.7 754.4 564.3C755.8 564.9 757.8 566.3 758.7 567.3C759.6 568.3 760.8 570.2 761.1 571.1C761.4 572 759.9 573.3 760.6 574C761.3 574.7 764.4 575.6 765.8 576.3C767.2 577 769.4 577.7 770.6 578.7C771.8 579.7 773.2 582.3 774.4 583.5C775.6 584.7 778.5 586.4 779.2 587.3C779.9 588.2 780.3 589.1 779.6 589.7C778.9 590.3 775.7 590.9 774.4 591.6C773.1 592.3 770.9 593.8 770.6 594.9C770.3 596 772 598.4 772.5 599.7C773 601 774 602.9 774.4 603.9C774.8 604.9 776.1 606.4 775.4 607.1Z" fill="#efa3a3" stroke="#d67d70" stroke-width="1.3" stroke-linejoin="round"/>
<ellipse cx="719.3" cy="543.6" rx="5.6" ry="2.9" fill="#f4b0ad" stroke="#d67d70" stroke-width=".9" transform="rotate(10 719.3 543.6)"/>
<ellipse cx="768" cy="574" rx="5.6" ry="2.9" fill="#f4b0ad" stroke="#d67d70" stroke-width=".9" transform="rotate(25 768 574)"/>
<ellipse cx="755.7" cy="536.5" rx="5.6" ry="2.9" fill="#f4b0ad" stroke="#d67d70" stroke-width=".9" transform="rotate(-60 755.7 536.5)"/>
<circle cx="739.2" cy="527.3" r="10" fill="#8a3c10" stroke="#6e2c08" stroke-width=".8"/>
<circle cx="703.7" cy="564.1" r="10" fill="#8a3c10" stroke="#6e2c08" stroke-width=".8"/>
<circle cx="773" cy="555.3" r="10" fill="#8a3c10" stroke="#6e2c08" stroke-width=".8"/>
<circle cx="748.9" cy="591.1" r="10" fill="#8a3c10" stroke="#6e2c08" stroke-width=".8"/>
<circle cx="282.2" cy="621" r="16.3" fill="url(#gP)" stroke="#a988a8" stroke-width="1.3"/><ellipse cx="282.2" cy="621" rx="8.8" ry="7.8" fill="#b2849f" transform="rotate(-22 282.2 621)"/>
<circle cx="264.4" cy="595.6" r="16.3" fill="url(#gP)" stroke="#a988a8" stroke-width="1.3"/><ellipse cx="264.4" cy="595.6" rx="8.8" ry="7.8" fill="#b2849f" transform="rotate(-22 264.4 595.6)"/>
<circle cx="295.6" cy="593.6" r="16.3" fill="url(#gG)" stroke="#7fba68" stroke-width="1.3"/><circle cx="295.6" cy="593.6" r="9.1" fill="#4c8f2f"/>
<circle cx="324.6" cy="595.6" r="16.3" fill="url(#gP)" stroke="#a988a8" stroke-width="1.3"/><ellipse cx="324.6" cy="595.6" rx="8.8" ry="7.8" fill="#b2849f" transform="rotate(-22 324.6 595.6)"/>
<circle cx="260.1" cy="635.5" r="16.3" fill="url(#gG)" stroke="#7fba68" stroke-width="1.3"/><circle cx="260.1" cy="635.5" r="9.1" fill="#4c8f2f"/>
<circle cx="288" cy="649.4" r="16.3" fill="url(#gP)" stroke="#a988a8" stroke-width="1.3"/><ellipse cx="288" cy="649.4" rx="8.8" ry="7.8" fill="#b2849f" transform="rotate(-22 288 649.4)"/>
<circle cx="322.3" cy="648.9" r="16.3" fill="url(#gG)" stroke="#7fba68" stroke-width="1.3"/><circle cx="322.3" cy="648.9" r="9.1" fill="#4c8f2f"/>
<circle cx="305" cy="623.6" r="16.3" fill="url(#gP)" stroke="#a988a8" stroke-width="1.3"/><ellipse cx="305" cy="623.6" rx="8.8" ry="7.8" fill="#b2849f" transform="rotate(-22 305 623.6)"/>
<circle cx="334.2" cy="619.7" r="16.3" fill="url(#gP)" stroke="#a988a8" stroke-width="1.3"/><ellipse cx="334.2" cy="619.7" rx="8.8" ry="7.8" fill="#b2849f" transform="rotate(-22 334.2 619.7)"/>
<circle cx="883.1" cy="582.2" r="16.3" fill="url(#gG)" stroke="#7fba68" stroke-width="1.3"/><circle cx="883.1" cy="582.2" r="9.1" fill="#4c8f2f"/>
<circle cx="918.2" cy="580.9" r="16.3" fill="url(#gG)" stroke="#7fba68" stroke-width="1.3"/><circle cx="918.2" cy="580.9" r="9.1" fill="#4c8f2f"/>
<circle cx="952.9" cy="579.6" r="16.3" fill="url(#gG)" stroke="#7fba68" stroke-width="1.3"/><circle cx="952.9" cy="579.6" r="9.1" fill="#4c8f2f"/>
<circle cx="971.5" cy="608.8" r="16.3" fill="url(#gG)" stroke="#7fba68" stroke-width="1.3"/><circle cx="971.5" cy="608.8" r="9.1" fill="#4c8f2f"/>
<circle cx="933.9" cy="632.9" r="16.3" fill="url(#gP)" stroke="#a988a8" stroke-width="1.3"/><ellipse cx="933.9" cy="632.9" rx="8.8" ry="7.8" fill="#b2849f" transform="rotate(-22 933.9 632.9)"/>
<circle cx="920.7" cy="617.7" r="16.3" fill="url(#gG)" stroke="#7fba68" stroke-width="1.3"/><circle cx="920.7" cy="617.7" r="9.1" fill="#4c8f2f"/>
<circle cx="871" cy="617.7" r="16.3" fill="url(#gP)" stroke="#a988a8" stroke-width="1.3"/><ellipse cx="871" cy="617.7" rx="8.8" ry="7.8" fill="#b2849f" transform="rotate(-22 871 617.7)"/>
<circle cx="898.9" cy="608.8" r="16.3" fill="url(#gP)" stroke="#a988a8" stroke-width="1.3"/><ellipse cx="898.9" cy="608.8" rx="8.8" ry="7.8" fill="#b2849f" transform="rotate(-22 898.9 608.8)"/>
<circle cx="951.7" cy="612.6" r="16.3" fill="url(#gP)" stroke="#a988a8" stroke-width="1.3"/><ellipse cx="951.7" cy="612.6" rx="8.8" ry="7.8" fill="#b2849f" transform="rotate(-22 951.7 612.6)"/>
<circle cx="933.4" cy="593.6" r="16.3" fill="url(#gG)" stroke="#7fba68" stroke-width="1.3"/><circle cx="933.4" cy="593.6" r="9.1" fill="#4c8f2f"/>
<circle cx="969.9" cy="636.8" r="16.3" fill="url(#gP)" stroke="#a988a8" stroke-width="1.3"/><ellipse cx="969.9" cy="636.8" rx="8.8" ry="7.8" fill="#b2849f" transform="rotate(-22 969.9 636.8)"/>
<circle cx="881.1" cy="652" r="16.3" fill="url(#gG)" stroke="#7fba68" stroke-width="1.3"/><circle cx="881.1" cy="652" r="9.1" fill="#4c8f2f"/>
<circle cx="918.7" cy="662.1" r="16.3" fill="url(#gP)" stroke="#a988a8" stroke-width="1.3"/><ellipse cx="918.7" cy="662.1" rx="8.8" ry="7.8" fill="#b2849f" transform="rotate(-22 918.7 662.1)"/>
<circle cx="950.4" cy="654.5" r="16.3" fill="url(#gG)" stroke="#7fba68" stroke-width="1.3"/><circle cx="950.4" cy="654.5" r="9.1" fill="#4c8f2f"/>
<circle cx="901.4" cy="638" r="16.3" fill="url(#gG)" stroke="#7fba68" stroke-width="1.3"/><circle cx="901.4" cy="638" r="9.1" fill="#4c8f2f"/>
<path d="M454.6 575.2C454.8 575.6 456.5 578.8 457.8 579.9C459.1 581 460.2 581.1 462.6 581.9C465 582.6 469.1 584 472.3 584.4C475.5 584.8 478.7 584.9 481.9 584.4C485.1 583.9 488.4 582.7 491.6 581.7C494.8 580.7 498.8 579 501.2 578.3C503.6 577.6 503.7 577.2 506.1 577.4C508.5 577.6 512.5 578.9 515.7 579.7C518.9 580.5 522.1 581.5 525.4 582.1C528.7 582.7 534.7 583.8 535.6 583.5C536.5 583.2 532.7 581.4 531 580.2C529.3 579 527.1 578.1 525.4 576.2C523.6 574.3 522 571.5 520.5 569C519 566.5 517.8 563.1 516.1 561C514.4 558.9 512.5 557.5 510.5 556.6C508.5 555.7 506.4 555.2 504.3 555.7C502.2 556.2 500.8 557.3 497.7 559.6C494.6 561.9 489.9 566.6 485.5 569.6C481.1 572.6 475.4 576 471.3 577.6C467.2 579.2 463.6 579.5 461.1 579.4C458.6 579.3 457.6 577.9 456.5 577.2C455.4 576.5 454.4 574.7 454.6 575.2Z" fill="#fbd1b9" stroke="#f1ad8f" stroke-width="1.3" stroke-linejoin="round"/>
<ellipse cx="511.5" cy="568.4" rx="5.7" ry="4.7" fill="#a3411a" stroke="#8a3310" stroke-width=".6"/>
<circle cx="511.5" cy="568.4" r="1.4" fill="#c4501f"/>
<path d="M400.1 599.2C400.3 599.6 402 602.8 403.3 603.9C404.6 605 405.7 605.1 408.1 605.9C410.5 606.6 414.6 608 417.8 608.4C421 608.8 424.2 608.9 427.4 608.4C430.6 607.9 433.9 606.7 437.1 605.7C440.3 604.7 444.3 603 446.7 602.3C449.1 601.6 449.2 601.2 451.6 601.4C454 601.6 458 602.9 461.2 603.7C464.4 604.5 467.6 605.5 470.9 606.1C474.2 606.7 480.2 607.8 481.1 607.5C482 607.2 478.2 605.4 476.5 604.2C474.8 603 472.6 602.1 470.9 600.2C469.1 598.3 467.6 595.5 466 593C464.4 590.5 463.3 587.1 461.6 585C459.9 582.9 458 581.5 456 580.6C454 579.7 451.9 579.2 449.8 579.7C447.7 580.2 446.3 581.3 443.2 583.6C440.1 585.9 435.4 590.6 431 593.6C426.6 596.6 420.9 600 416.8 601.6C412.7 603.2 409.1 603.5 406.6 603.4C404.1 603.3 403.1 601.9 402 601.2C400.9 600.5 399.9 598.7 400.1 599.2Z" fill="#fbd1b9" stroke="#f1ad8f" stroke-width="1.3" stroke-linejoin="round"/>
<ellipse cx="457" cy="592.4" rx="5.7" ry="4.7" fill="#a3411a" stroke="#8a3310" stroke-width=".6"/>
<circle cx="457" cy="592.4" r="1.4" fill="#c4501f"/>
<path d="M455.6 602.9C455.8 603.4 457.5 606.5 458.8 607.6C460.1 608.7 461.2 608.9 463.6 609.6C466 610.4 470.1 611.7 473.3 612.1C476.5 612.5 479.7 612.6 482.9 612.1C486.1 611.6 489.4 610.4 492.6 609.4C495.8 608.4 499.8 606.7 502.2 606C504.6 605.3 504.7 604.9 507.1 605.1C509.5 605.3 513.5 606.6 516.7 607.4C519.9 608.2 523.1 609.2 526.4 609.8C529.7 610.4 535.7 611.5 536.6 611.2C537.5 610.9 533.7 609.1 532 607.9C530.3 606.7 528.1 605.8 526.4 603.9C524.6 602 523 599.2 521.5 596.7C520 594.2 518.8 590.8 517.1 588.7C515.4 586.6 513.5 585.2 511.5 584.3C509.5 583.4 507.4 582.9 505.3 583.4C503.2 583.9 501.8 585 498.7 587.3C495.6 589.6 490.9 594.3 486.5 597.3C482.1 600.3 476.4 603.7 472.3 605.3C468.2 606.9 464.6 607.2 462.1 607.1C459.6 607 458.6 605.6 457.5 604.9C456.4 604.2 455.4 602.4 455.6 602.9Z" fill="#fbd1b9" stroke="#f1ad8f" stroke-width="1.3" stroke-linejoin="round"/>
<ellipse cx="512.5" cy="596.1" rx="5.7" ry="4.7" fill="#a3411a" stroke="#8a3310" stroke-width=".6"/>
<circle cx="512.5" cy="596.1" r="1.4" fill="#c4501f"/>
<path d="M400.5 624C400.7 624.5 402.4 627.6 403.7 628.7C405 629.8 406.1 630 408.5 630.7C410.9 631.5 415 632.8 418.2 633.2C421.4 633.6 424.6 633.7 427.8 633.2C431 632.8 434.3 631.5 437.5 630.5C440.7 629.5 444.7 627.8 447.1 627.1C449.5 626.4 449.6 626 452 626.2C454.4 626.4 458.4 627.7 461.6 628.5C464.8 629.3 468 630.3 471.3 630.9C474.6 631.5 480.6 632.6 481.5 632.3C482.4 632 478.6 630.2 476.9 629C475.2 627.8 473 626.9 471.3 625C469.5 623.1 467.9 620.3 466.4 617.8C464.8 615.3 463.7 611.9 462 609.8C460.3 607.7 458.4 606.3 456.4 605.4C454.4 604.5 452.3 604 450.2 604.5C448.1 605 446.7 606.1 443.6 608.4C440.5 610.7 435.8 615.4 431.4 618.4C427 621.4 421.3 624.8 417.2 626.4C413.1 628 409.5 628.3 407 628.2C404.5 628.1 403.5 626.7 402.4 626C401.3 625.3 400.3 623.5 400.5 624Z" fill="#fbd1b9" stroke="#f1ad8f" stroke-width="1.3" stroke-linejoin="round"/>
<ellipse cx="457.4" cy="617.2" rx="5.7" ry="4.7" fill="#a3411a" stroke="#8a3310" stroke-width=".6"/>
<circle cx="457.4" cy="617.2" r="1.4" fill="#c4501f"/>
<path d="M455.6 628.1C455.8 628.5 457.5 631.7 458.8 632.8C460.1 633.9 461.2 634 463.6 634.8C466 635.5 470.1 636.9 473.3 637.3C476.5 637.7 479.7 637.8 482.9 637.3C486.1 636.8 489.4 635.6 492.6 634.6C495.8 633.6 499.8 631.9 502.2 631.2C504.6 630.5 504.7 630.1 507.1 630.3C509.5 630.5 513.5 631.8 516.7 632.6C519.9 633.4 523.1 634.4 526.4 635C529.7 635.6 535.7 636.7 536.6 636.4C537.5 636.1 533.7 634.3 532 633.1C530.3 631.9 528.1 631 526.4 629.1C524.6 627.2 523 624.4 521.5 621.9C520 619.4 518.8 616 517.1 613.9C515.4 611.8 513.5 610.4 511.5 609.5C509.5 608.6 507.4 608.1 505.3 608.6C503.2 609.1 501.8 610.2 498.7 612.5C495.6 614.8 490.9 619.5 486.5 622.5C482.1 625.5 476.4 628.9 472.3 630.5C468.2 632.1 464.6 632.4 462.1 632.3C459.6 632.2 458.6 630.8 457.5 630.1C456.4 629.4 455.4 627.6 455.6 628.1Z" fill="#fbd1b9" stroke="#f1ad8f" stroke-width="1.3" stroke-linejoin="round"/>
<ellipse cx="512.5" cy="621.3" rx="5.7" ry="4.7" fill="#a3411a" stroke="#8a3310" stroke-width=".6"/>
<circle cx="512.5" cy="621.3" r="1.4" fill="#c4501f"/>
<path d="M1099.3 574.6C1099.5 575 1101.2 578.2 1102.5 579.3C1103.8 580.4 1104.9 580.5 1107.3 581.3C1109.7 582 1113.8 583.4 1117 583.8C1120.2 584.2 1123.4 584.2 1126.6 583.8C1129.8 583.3 1133.1 582.1 1136.3 581.1C1139.5 580.1 1143.5 578.4 1145.9 577.7C1148.3 577 1148.4 576.6 1150.8 576.8C1153.2 577 1157.2 578.3 1160.4 579.1C1163.6 579.9 1166.8 580.9 1170.1 581.5C1173.4 582.1 1179.4 583.2 1180.3 582.9C1181.2 582.6 1177.4 580.8 1175.7 579.6C1174 578.4 1171.9 577.5 1170.1 575.6C1168.4 573.7 1166.8 570.9 1165.2 568.4C1163.7 565.9 1162.5 562.5 1160.8 560.4C1159.1 558.3 1157.2 556.9 1155.2 556C1153.2 555.1 1151.1 554.6 1149 555.1C1146.9 555.6 1145.5 556.7 1142.4 559C1139.3 561.3 1134.6 566 1130.2 569C1125.8 572 1120.1 575.4 1116 577C1111.9 578.6 1108.3 578.9 1105.8 578.8C1103.3 578.7 1102.3 577.3 1101.2 576.6C1100.1 575.9 1099.1 574.1 1099.3 574.6Z" fill="#fad86e" stroke="#dcab2a" stroke-width="1.3" stroke-linejoin="round"/>
<ellipse cx="1156.2" cy="567.8" rx="5.7" ry="4.7" fill="#a3411a" stroke="#8a3310" stroke-width=".6"/>
<circle cx="1156.2" cy="567.8" r="1.4" fill="#c4501f"/>
<path d="M1044.3 598.9C1044.5 599.4 1046.2 602.5 1047.5 603.6C1048.8 604.7 1049.9 604.9 1052.3 605.6C1054.7 606.4 1058.8 607.7 1062 608.1C1065.2 608.5 1068.4 608.6 1071.6 608.1C1074.8 607.6 1078.1 606.4 1081.3 605.4C1084.5 604.4 1088.5 602.7 1090.9 602C1093.3 601.3 1093.4 600.9 1095.8 601.1C1098.2 601.3 1102.2 602.6 1105.4 603.4C1108.6 604.2 1111.8 605.2 1115.1 605.8C1118.4 606.4 1124.4 607.5 1125.3 607.2C1126.2 606.9 1122.4 605.1 1120.7 603.9C1119 602.7 1116.9 601.8 1115.1 599.9C1113.4 598 1111.8 595.2 1110.2 592.7C1108.7 590.2 1107.5 586.8 1105.8 584.7C1104.1 582.6 1102.2 581.2 1100.2 580.3C1098.2 579.4 1096.1 578.9 1094 579.4C1091.9 579.9 1090.5 581 1087.4 583.3C1084.3 585.6 1079.6 590.3 1075.2 593.3C1070.8 596.3 1065.1 599.7 1061 601.3C1056.9 602.9 1053.3 603.2 1050.8 603.1C1048.3 603 1047.3 601.6 1046.2 600.9C1045.1 600.2 1044.1 598.4 1044.3 598.9Z" fill="#fad86e" stroke="#dcab2a" stroke-width="1.3" stroke-linejoin="round"/>
<ellipse cx="1101.2" cy="592.1" rx="5.7" ry="4.7" fill="#a3411a" stroke="#8a3310" stroke-width=".6"/>
<circle cx="1101.2" cy="592.1" r="1.4" fill="#c4501f"/>
<path d="M1100.1 603.1C1100.3 603.5 1102 606.7 1103.3 607.8C1104.6 608.9 1105.7 609 1108.1 609.8C1110.5 610.5 1114.6 611.9 1117.8 612.3C1121 612.7 1124.2 612.8 1127.4 612.3C1130.6 611.8 1133.9 610.6 1137.1 609.6C1140.3 608.6 1144.3 606.9 1146.7 606.2C1149.1 605.5 1149.2 605.1 1151.6 605.3C1154 605.5 1158 606.8 1161.2 607.6C1164.4 608.4 1167.6 609.4 1170.9 610C1174.2 610.6 1180.2 611.7 1181.1 611.4C1182 611.1 1178.2 609.3 1176.5 608.1C1174.8 606.9 1172.7 606 1170.9 604.1C1169.2 602.2 1167.5 599.4 1166 596.9C1164.5 594.4 1163.3 591 1161.6 588.9C1159.9 586.8 1158 585.4 1156 584.5C1154 583.6 1151.9 583.1 1149.8 583.6C1147.7 584.1 1146.3 585.2 1143.2 587.5C1140.1 589.8 1135.4 594.5 1131 597.5C1126.6 600.5 1120.9 603.9 1116.8 605.5C1112.7 607.1 1109.1 607.4 1106.6 607.3C1104.1 607.2 1103.1 605.8 1102 605.1C1100.9 604.4 1099.9 602.6 1100.1 603.1Z" fill="#fad86e" stroke="#dcab2a" stroke-width="1.3" stroke-linejoin="round"/>
<ellipse cx="1157" cy="596.3" rx="5.7" ry="4.7" fill="#a3411a" stroke="#8a3310" stroke-width=".6"/>
<circle cx="1157" cy="596.3" r="1.4" fill="#c4501f"/>
<path d="M1045.1 623.5C1045.3 624 1047 627.1 1048.3 628.2C1049.6 629.3 1050.7 629.5 1053.1 630.2C1055.5 631 1059.6 632.3 1062.8 632.7C1066 633.1 1069.2 633.2 1072.4 632.7C1075.6 632.2 1078.9 631 1082.1 630C1085.3 629 1089.3 627.3 1091.7 626.6C1094.1 625.9 1094.2 625.5 1096.6 625.7C1099 625.9 1103 627.2 1106.2 628C1109.4 628.8 1112.6 629.8 1115.9 630.4C1119.2 631 1125.2 632.1 1126.1 631.8C1127 631.5 1123.2 629.7 1121.5 628.5C1119.8 627.3 1117.7 626.4 1115.9 624.5C1114.2 622.6 1112.5 619.8 1111 617.3C1109.5 614.8 1108.3 611.4 1106.6 609.3C1104.9 607.2 1103 605.8 1101 604.9C1099 604 1096.9 603.5 1094.8 604C1092.7 604.5 1091.3 605.6 1088.2 607.9C1085.1 610.2 1080.4 614.9 1076 617.9C1071.6 620.9 1065.9 624.3 1061.8 625.9C1057.7 627.5 1054.1 627.8 1051.6 627.7C1049.1 627.6 1048.1 626.2 1047 625.5C1045.9 624.8 1044.9 623 1045.1 623.5Z" fill="#fad86e" stroke="#dcab2a" stroke-width="1.3" stroke-linejoin="round"/>
<ellipse cx="1102" cy="616.7" rx="5.7" ry="4.7" fill="#a3411a" stroke="#8a3310" stroke-width=".6"/>
<circle cx="1102" cy="616.7" r="1.4" fill="#c4501f"/>
<path d="M1100.1 627.7C1100.3 628.1 1102 631.3 1103.3 632.4C1104.6 633.5 1105.7 633.6 1108.1 634.4C1110.5 635.1 1114.6 636.5 1117.8 636.9C1121 637.3 1124.2 637.4 1127.4 636.9C1130.6 636.4 1133.9 635.2 1137.1 634.2C1140.3 633.2 1144.3 631.5 1146.7 630.8C1149.1 630.1 1149.2 629.7 1151.6 629.9C1154 630.1 1158 631.4 1161.2 632.2C1164.4 633 1167.6 634 1170.9 634.6C1174.2 635.2 1180.2 636.3 1181.1 636C1182 635.7 1178.2 633.9 1176.5 632.7C1174.8 631.5 1172.7 630.6 1170.9 628.7C1169.2 626.8 1167.5 624 1166 621.5C1164.5 619 1163.3 615.6 1161.6 613.5C1159.9 611.4 1158 610 1156 609.1C1154 608.2 1151.9 607.7 1149.8 608.2C1147.7 608.7 1146.3 609.8 1143.2 612.1C1140.1 614.4 1135.4 619.1 1131 622.1C1126.6 625.1 1120.9 628.5 1116.8 630.1C1112.7 631.7 1109.1 632 1106.6 631.9C1104.1 631.8 1103.1 630.4 1102 629.7C1100.9 629 1099.9 627.2 1100.1 627.7Z" fill="#fad86e" stroke="#dcab2a" stroke-width="1.3" stroke-linejoin="round"/>
<ellipse cx="1157" cy="620.9" rx="5.7" ry="4.7" fill="#a3411a" stroke="#8a3310" stroke-width=".6"/>
<circle cx="1157" cy="620.9" r="1.4" fill="#c4501f"/></svg>
</body></html>
